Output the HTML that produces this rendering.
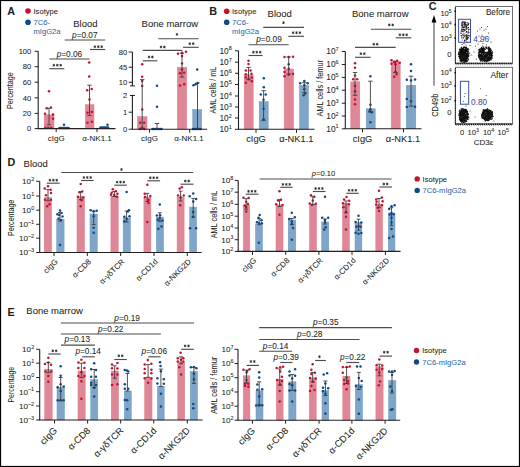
<!DOCTYPE html>
<html><head><meta charset="utf-8"><title>Figure</title>
<style>
html,body{margin:0;padding:0;background:#fff;}
body{width:520px;height:467px;overflow:hidden;}
svg{display:block;}
text{font-family:"Liberation Sans", sans-serif;stroke:#231f20;stroke-width:0.06px;}
.bl{stroke:#2f69a5;}
.gt{stroke:#3f4ea3;}
</style></head><body>
<svg width="520" height="467" viewBox="0 0 520 467">
<rect x="0" y="0" width="520" height="467" fill="#fff"/>
<g fill="#231f20">
<text x="7.3" y="14.8" font-size="10.8" font-weight="bold">A</text>
<circle cx="28" cy="11" r="2.8" fill="#c8102e"/>
<text x="33.5" y="13.7" font-size="7.6">Isotype</text>
<circle cx="28" cy="22.2" r="2.8" fill="#0b4a8b"/>
<text x="33.5" y="25" font-size="7.6" fill="#2f69a5" class="bl">7C6-</text>
<text x="33.5" y="34" font-size="7.6" fill="#2f69a5" class="bl">mIgG2a</text>
<text x="73.2" y="27.2" font-size="9.5">Blood</text>
<line x1="64.7" y1="40" x2="105.2" y2="40" stroke="#4d4d4f" stroke-width="1.15"/>
<text x="84.8" y="38" font-size="8.28" text-anchor="middle"><tspan font-style="italic">p</tspan>=0.07</text>
<line x1="90" y1="49.5" x2="105.2" y2="49.5" stroke="#4d4d4f" stroke-width="1.15"/>
<path d="M94.9 45.35L94.9 48.05M93.73 46.03L96.07 47.38M93.73 47.38L96.07 46.03" stroke="#231f20" stroke-width="0.8" fill="none"/>
<path d="M98.3 45.35L98.3 48.05M97.13 46.03L99.47 47.38M97.13 47.38L99.47 46.03" stroke="#231f20" stroke-width="0.8" fill="none"/>
<path d="M101.7 45.35L101.7 48.05M100.53 46.03L102.87 47.38M100.53 47.38L102.87 46.03" stroke="#231f20" stroke-width="0.8" fill="none"/>
<line x1="49.3" y1="59" x2="89.5" y2="59" stroke="#4d4d4f" stroke-width="1.15"/>
<text x="69.4" y="56.7" font-size="8.28" text-anchor="middle"><tspan font-style="italic">p</tspan>=0.06</text>
<line x1="49.3" y1="68.7" x2="64.3" y2="68.7" stroke="#4d4d4f" stroke-width="1.15"/>
<path d="M53.9 63.85L53.9 66.55M52.73 64.53L55.07 65.88M52.73 65.88L55.07 64.53" stroke="#231f20" stroke-width="0.8" fill="none"/>
<path d="M57.3 63.85L57.3 66.55M56.13 64.53L58.47 65.88M56.13 65.88L58.47 64.53" stroke="#231f20" stroke-width="0.8" fill="none"/>
<path d="M60.7 63.85L60.7 66.55M59.53 64.53L61.87 65.88M59.53 65.88L61.87 64.53" stroke="#231f20" stroke-width="0.8" fill="none"/>
<rect x="44.2" y="114.8" width="9.8" height="13.8" fill="#df8796" stroke="#d97a8c" stroke-width="0.5"/>
<rect x="85.3" y="104.7" width="8.7" height="23.9" fill="#df8796" stroke="#d97a8c" stroke-width="0.5"/>
<line x1="38.2" y1="51.3" x2="38.2" y2="128.6" stroke="#231f20" stroke-width="1.1"/>
<line x1="34.7" y1="51.3" x2="38.2" y2="51.3" stroke="#231f20" stroke-width="1"/>
<text x="31.3" y="54.04" font-size="7.6" text-anchor="end">100</text>
<line x1="34.7" y1="66.7" x2="38.2" y2="66.7" stroke="#231f20" stroke-width="1"/>
<text x="31.3" y="69.44" font-size="7.6" text-anchor="end">80</text>
<line x1="34.7" y1="82.2" x2="38.2" y2="82.2" stroke="#231f20" stroke-width="1"/>
<text x="31.3" y="84.94" font-size="7.6" text-anchor="end">60</text>
<line x1="34.7" y1="97.8" x2="38.2" y2="97.8" stroke="#231f20" stroke-width="1"/>
<text x="31.3" y="100.54" font-size="7.6" text-anchor="end">40</text>
<line x1="34.7" y1="113.4" x2="38.2" y2="113.4" stroke="#231f20" stroke-width="1"/>
<text x="31.3" y="116.14" font-size="7.6" text-anchor="end">20</text>
<line x1="34.7" y1="128.6" x2="38.2" y2="128.6" stroke="#231f20" stroke-width="1"/>
<text x="31.3" y="131.34" font-size="7.6" text-anchor="end">0</text>
<text font-size="8.9" text-anchor="middle" transform="translate(13.3 90.6) rotate(-90) scale(0.808 1)">Percentage</text>
<circle cx="49" cy="91.2" r="1.25" fill="#c8102e"/>
<circle cx="46.7" cy="108.2" r="1.25" fill="#c8102e"/>
<circle cx="51" cy="107.4" r="1.25" fill="#c8102e"/>
<circle cx="45" cy="113.7" r="1.25" fill="#c8102e"/>
<circle cx="53" cy="114.5" r="1.25" fill="#c8102e"/>
<circle cx="53" cy="118.7" r="1.25" fill="#c8102e"/>
<circle cx="45.3" cy="127.7" r="1.25" fill="#c8102e"/>
<circle cx="48.2" cy="127.7" r="1.25" fill="#c8102e"/>
<circle cx="51.2" cy="127.7" r="1.25" fill="#c8102e"/>
<circle cx="89.2" cy="62.4" r="1.25" fill="#c8102e"/>
<circle cx="89.2" cy="76.5" r="1.25" fill="#c8102e"/>
<circle cx="87.2" cy="90.2" r="1.25" fill="#c8102e"/>
<circle cx="91.7" cy="89" r="1.25" fill="#c8102e"/>
<circle cx="89.5" cy="99.5" r="1.25" fill="#c8102e"/>
<circle cx="87.5" cy="112.7" r="1.25" fill="#c8102e"/>
<circle cx="91.8" cy="112" r="1.25" fill="#c8102e"/>
<circle cx="87.5" cy="122.7" r="1.25" fill="#c8102e"/>
<circle cx="91.8" cy="121.7" r="1.25" fill="#c8102e"/>
<circle cx="64" cy="124.7" r="1.25" fill="#0b4a8b"/>
<circle cx="59.5" cy="128.1" r="1.25" fill="#0b4a8b"/>
<circle cx="61" cy="128.1" r="1.25" fill="#0b4a8b"/>
<circle cx="62.5" cy="128.1" r="1.25" fill="#0b4a8b"/>
<circle cx="64" cy="128.1" r="1.25" fill="#0b4a8b"/>
<circle cx="65.5" cy="128.1" r="1.25" fill="#0b4a8b"/>
<circle cx="67" cy="128.1" r="1.25" fill="#0b4a8b"/>
<circle cx="68.5" cy="128.1" r="1.25" fill="#0b4a8b"/>
<circle cx="107.5" cy="124.7" r="1.25" fill="#0b4a8b"/>
<circle cx="100.5" cy="127.6" r="1.25" fill="#0b4a8b"/>
<circle cx="102" cy="127.6" r="1.25" fill="#0b4a8b"/>
<circle cx="103.5" cy="127.6" r="1.25" fill="#0b4a8b"/>
<circle cx="105" cy="127.6" r="1.25" fill="#0b4a8b"/>
<circle cx="106.5" cy="127.6" r="1.25" fill="#0b4a8b"/>
<circle cx="108" cy="127.6" r="1.25" fill="#0b4a8b"/>
<line x1="37.65" y1="128.6" x2="115.5" y2="128.6" stroke="#231f20" stroke-width="1.1"/>
<line x1="56.2" y1="128.6" x2="56.2" y2="132.1" stroke="#231f20" stroke-width="1"/>
<line x1="97" y1="128.6" x2="97" y2="132.1" stroke="#231f20" stroke-width="1"/>
<text x="56.2" y="140.7" font-size="8" text-anchor="middle">cIgG</text>
<text x="97" y="140.7" font-size="8" text-anchor="middle">α-NK1.1</text>
<text x="141.6" y="27.2" font-size="9.5">Bone marrow</text>
<line x1="158.2" y1="38.7" x2="198.7" y2="38.7" stroke="#4d4d4f" stroke-width="1.15"/>
<path d="M177 33.05L177 35.75M175.83 33.73L178.17 35.07M175.83 35.07L178.17 33.73" stroke="#231f20" stroke-width="0.8" fill="none"/>
<line x1="183" y1="47.3" x2="198.7" y2="47.3" stroke="#4d4d4f" stroke-width="1.15"/>
<path d="M189.8 42.35L189.8 45.05M188.63 43.03L190.97 44.38M188.63 44.38L190.97 43.03" stroke="#231f20" stroke-width="0.8" fill="none"/>
<path d="M193.2 42.35L193.2 45.05M192.03 43.03L194.37 44.38M192.03 44.38L194.37 43.03" stroke="#231f20" stroke-width="0.8" fill="none"/>
<line x1="142.7" y1="50.3" x2="182.2" y2="50.3" stroke="#4d4d4f" stroke-width="1.15"/>
<path d="M161 45.65L161 48.35M159.83 46.33L162.17 47.67M159.83 47.67L162.17 46.33" stroke="#231f20" stroke-width="0.8" fill="none"/>
<path d="M164.4 45.65L164.4 48.35M163.23 46.33L165.57 47.67M163.23 47.67L165.57 46.33" stroke="#231f20" stroke-width="0.8" fill="none"/>
<line x1="142.7" y1="60.8" x2="157.4" y2="60.8" stroke="#4d4d4f" stroke-width="1.15"/>
<path d="M149 55.65L149 58.35M147.83 56.33L150.17 57.67M147.83 57.67L150.17 56.33" stroke="#231f20" stroke-width="0.8" fill="none"/>
<path d="M152.4 55.65L152.4 58.35M151.23 56.33L153.57 57.67M151.23 57.67L153.57 56.33" stroke="#231f20" stroke-width="0.8" fill="none"/>
<rect x="137.5" y="116.7" width="9.5" height="12.5" fill="#df8796" stroke="#d97a8c" stroke-width="0.5"/>
<rect x="177.3" y="67.2" width="9.4" height="62" fill="#df8796" stroke="#d97a8c" stroke-width="0.5"/>
<rect x="192.7" y="109.5" width="9" height="19.7" fill="#7fa6c9" stroke="#6f9ac2" stroke-width="0.5"/>
<line x1="132.4" y1="52" x2="132.4" y2="85.9" stroke="#231f20" stroke-width="1.1"/>
<line x1="130" y1="85.9" x2="134.9" y2="85.9" stroke="#231f20" stroke-width="1"/>
<line x1="128.7" y1="52" x2="132.4" y2="52" stroke="#231f20" stroke-width="1"/>
<text x="127.2" y="54.7" font-size="7.6" text-anchor="end">80</text>
<line x1="128.7" y1="67.2" x2="132.4" y2="67.2" stroke="#231f20" stroke-width="1"/>
<text x="127.2" y="69.9" font-size="7.6" text-anchor="end">45</text>
<line x1="128.7" y1="82.3" x2="132.4" y2="82.3" stroke="#231f20" stroke-width="1"/>
<text x="127.2" y="85" font-size="7.6" text-anchor="end">10</text>
<line x1="132.4" y1="95.5" x2="132.4" y2="129.2" stroke="#231f20" stroke-width="1.1"/>
<line x1="130" y1="95.5" x2="134.9" y2="95.5" stroke="#231f20" stroke-width="1"/>
<text x="127.2" y="98.2" font-size="7.6" text-anchor="end">2</text>
<line x1="128.7" y1="112.2" x2="132.4" y2="112.2" stroke="#231f20" stroke-width="1"/>
<text x="127.2" y="114.9" font-size="7.6" text-anchor="end">1</text>
<line x1="128.7" y1="129.2" x2="132.4" y2="129.2" stroke="#231f20" stroke-width="1"/>
<text x="127.2" y="131.9" font-size="7.6" text-anchor="end">0</text>
<circle cx="142.2" cy="64.2" r="1.25" fill="#c8102e"/>
<circle cx="142.2" cy="76.7" r="1.25" fill="#c8102e"/>
<circle cx="142.2" cy="81.1" r="1.25" fill="#c8102e"/>
<circle cx="142.2" cy="85.9" r="1.25" fill="#c8102e"/>
<circle cx="142.2" cy="109.5" r="1.25" fill="#c8102e"/>
<circle cx="140.2" cy="122.7" r="1.25" fill="#c8102e"/>
<circle cx="144.2" cy="122.7" r="1.25" fill="#c8102e"/>
<circle cx="140.2" cy="129" r="1.25" fill="#c8102e"/>
<circle cx="144.2" cy="129" r="1.25" fill="#c8102e"/>
<circle cx="142.2" cy="127.7" r="1.25" fill="#c8102e"/>
<circle cx="157" cy="85.7" r="1.25" fill="#0b4a8b"/>
<circle cx="157" cy="106.7" r="1.25" fill="#0b4a8b"/>
<circle cx="152.5" cy="129" r="1.25" fill="#0b4a8b"/>
<circle cx="154" cy="129" r="1.25" fill="#0b4a8b"/>
<circle cx="155.5" cy="129" r="1.25" fill="#0b4a8b"/>
<circle cx="157" cy="129" r="1.25" fill="#0b4a8b"/>
<circle cx="158.5" cy="129" r="1.25" fill="#0b4a8b"/>
<circle cx="160" cy="129" r="1.25" fill="#0b4a8b"/>
<circle cx="161.5" cy="129" r="1.25" fill="#0b4a8b"/>
<circle cx="178" cy="53.7" r="1.25" fill="#c8102e"/>
<circle cx="182" cy="52.7" r="1.25" fill="#c8102e"/>
<circle cx="186" cy="51.8" r="1.25" fill="#c8102e"/>
<circle cx="182" cy="56" r="1.25" fill="#c8102e"/>
<circle cx="182" cy="63.5" r="1.25" fill="#c8102e"/>
<circle cx="180" cy="73.2" r="1.25" fill="#c8102e"/>
<circle cx="184.2" cy="72.8" r="1.25" fill="#c8102e"/>
<circle cx="182" cy="69.5" r="1.25" fill="#c8102e"/>
<circle cx="180" cy="85.5" r="1.25" fill="#c8102e"/>
<circle cx="184.2" cy="84.2" r="1.25" fill="#c8102e"/>
<circle cx="197.2" cy="69.5" r="1.25" fill="#0b4a8b"/>
<circle cx="193.5" cy="85.2" r="1.25" fill="#0b4a8b"/>
<circle cx="197.7" cy="83" r="1.25" fill="#0b4a8b"/>
<circle cx="195.6" cy="84.3" r="1.25" fill="#0b4a8b"/>
<circle cx="193" cy="129" r="1.25" fill="#0b4a8b"/>
<circle cx="194.5" cy="129" r="1.25" fill="#0b4a8b"/>
<circle cx="196" cy="129" r="1.25" fill="#0b4a8b"/>
<circle cx="197.5" cy="129" r="1.25" fill="#0b4a8b"/>
<circle cx="199" cy="129" r="1.25" fill="#0b4a8b"/>
<circle cx="200.5" cy="129" r="1.25" fill="#0b4a8b"/>
<line x1="131.85" y1="129.2" x2="207" y2="129.2" stroke="#231f20" stroke-width="1.1"/>
<line x1="149.5" y1="129.2" x2="149.5" y2="132.7" stroke="#231f20" stroke-width="1"/>
<line x1="189.7" y1="129.2" x2="189.7" y2="132.7" stroke="#231f20" stroke-width="1"/>
<text x="149.5" y="141" font-size="8" text-anchor="middle">cIgG</text>
<text x="189" y="141" font-size="8" text-anchor="middle">α-NK1.1</text>
<text x="209.3" y="14.7" font-size="10.8" font-weight="bold">B</text>
<circle cx="226.7" cy="11.2" r="2.8" fill="#c8102e"/>
<text x="232" y="13.8" font-size="7.6">Isotype</text>
<circle cx="226.7" cy="22.2" r="2.8" fill="#0b4a8b"/>
<text x="232" y="24.8" font-size="7.6" fill="#2f69a5" class="bl">7C6-</text>
<text x="232" y="33.8" font-size="7.6" fill="#2f69a5" class="bl">mIgG2a</text>
<text x="267.6" y="16.5" font-size="9.5">Blood</text>
<line x1="263.2" y1="27.3" x2="304" y2="27.3" stroke="#4d4d4f" stroke-width="1.15"/>
<path d="M283.5 21.35L283.5 24.05M282.33 22.02L284.67 23.38M282.33 23.38L284.67 22.02" stroke="#231f20" stroke-width="0.8" fill="none"/>
<line x1="288.3" y1="36.3" x2="304" y2="36.3" stroke="#4d4d4f" stroke-width="1.15"/>
<path d="M293.1 31.35L293.1 34.05M291.93 32.03L294.27 33.38M291.93 33.38L294.27 32.03" stroke="#231f20" stroke-width="0.8" fill="none"/>
<path d="M296.5 31.35L296.5 34.05M295.33 32.03L297.67 33.38M295.33 33.38L297.67 32.03" stroke="#231f20" stroke-width="0.8" fill="none"/>
<path d="M299.9 31.35L299.9 34.05M298.73 32.03L301.07 33.38M298.73 33.38L301.07 32.03" stroke="#231f20" stroke-width="0.8" fill="none"/>
<line x1="248.5" y1="44.7" x2="288.7" y2="44.7" stroke="#4d4d4f" stroke-width="1.15"/>
<text x="269" y="42" font-size="8.28" text-anchor="middle"><tspan font-style="italic">p</tspan>=0.09</text>
<line x1="248.5" y1="55.5" x2="262.7" y2="55.5" stroke="#4d4d4f" stroke-width="1.15"/>
<path d="M253.4 50.85L253.4 53.55M252.23 51.53L254.57 52.88M252.23 52.88L254.57 51.53" stroke="#231f20" stroke-width="0.8" fill="none"/>
<path d="M256.8 50.85L256.8 53.55M255.63 51.53L257.97 52.88M255.63 52.88L257.97 51.53" stroke="#231f20" stroke-width="0.8" fill="none"/>
<path d="M260.2 50.85L260.2 53.55M259.03 51.53L261.37 52.88M259.03 52.88L261.37 51.53" stroke="#231f20" stroke-width="0.8" fill="none"/>
<rect x="244.2" y="74.8" width="9" height="54.5" fill="#df8796" stroke="#d97a8c" stroke-width="0.5"/>
<rect x="259.2" y="101.6" width="9" height="27.7" fill="#7fa6c9" stroke="#6f9ac2" stroke-width="0.5"/>
<rect x="284.2" y="69" width="9.3" height="60.3" fill="#df8796" stroke="#d97a8c" stroke-width="0.5"/>
<rect x="299.5" y="85.5" width="9" height="43.8" fill="#7fa6c9" stroke="#6f9ac2" stroke-width="0.5"/>
<line x1="238.5" y1="50.8" x2="238.5" y2="129.3" stroke="#231f20" stroke-width="1.1"/>
<line x1="235" y1="50.8" x2="238.5" y2="50.8" stroke="#231f20" stroke-width="1"/>
<text x="231.7" y="53.79" font-size="8.3" text-anchor="end">10<tspan dy="-3.49" font-size="5.5">8</tspan></text>
<line x1="235" y1="62.2" x2="238.5" y2="62.2" stroke="#231f20" stroke-width="1"/>
<text x="231.7" y="65.19" font-size="8.3" text-anchor="end">10<tspan dy="-3.49" font-size="5.5">7</tspan></text>
<line x1="235" y1="73.3" x2="238.5" y2="73.3" stroke="#231f20" stroke-width="1"/>
<text x="231.7" y="76.29" font-size="8.3" text-anchor="end">10<tspan dy="-3.49" font-size="5.5">6</tspan></text>
<line x1="235" y1="84.5" x2="238.5" y2="84.5" stroke="#231f20" stroke-width="1"/>
<text x="231.7" y="87.49" font-size="8.3" text-anchor="end">10<tspan dy="-3.49" font-size="5.5">5</tspan></text>
<line x1="235" y1="96" x2="238.5" y2="96" stroke="#231f20" stroke-width="1"/>
<text x="231.7" y="98.99" font-size="8.3" text-anchor="end">10<tspan dy="-3.49" font-size="5.5">4</tspan></text>
<line x1="235" y1="107" x2="238.5" y2="107" stroke="#231f20" stroke-width="1"/>
<text x="231.7" y="109.99" font-size="8.3" text-anchor="end">10<tspan dy="-3.49" font-size="5.5">3</tspan></text>
<line x1="235" y1="118" x2="238.5" y2="118" stroke="#231f20" stroke-width="1"/>
<text x="231.7" y="120.99" font-size="8.3" text-anchor="end">10<tspan dy="-3.49" font-size="5.5">2</tspan></text>
<line x1="235" y1="129.3" x2="238.5" y2="129.3" stroke="#231f20" stroke-width="1"/>
<text x="231.7" y="132.29" font-size="8.3" text-anchor="end">10<tspan dy="-3.49" font-size="5.5">1</tspan></text>
<text font-size="8.9" text-anchor="middle" transform="translate(216.3 90.1) rotate(-90) scale(0.810 1)">AML cells / mL</text>
<circle cx="248.5" cy="60.7" r="1.25" fill="#c8102e"/>
<circle cx="248.5" cy="64" r="1.25" fill="#c8102e"/>
<circle cx="245.8" cy="70.4" r="1.25" fill="#c8102e"/>
<circle cx="250.5" cy="70.4" r="1.25" fill="#c8102e"/>
<circle cx="245.8" cy="74.2" r="1.25" fill="#c8102e"/>
<circle cx="251.5" cy="73.7" r="1.25" fill="#c8102e"/>
<circle cx="245.8" cy="77.5" r="1.25" fill="#c8102e"/>
<circle cx="251.8" cy="77.5" r="1.25" fill="#c8102e"/>
<circle cx="245.8" cy="82.7" r="1.25" fill="#c8102e"/>
<circle cx="251.8" cy="81.2" r="1.25" fill="#c8102e"/>
<circle cx="248.5" cy="79.3" r="1.25" fill="#c8102e"/>
<circle cx="263.8" cy="78.2" r="1.25" fill="#0b4a8b"/>
<circle cx="263.8" cy="87.2" r="1.25" fill="#0b4a8b"/>
<circle cx="260.8" cy="94.5" r="1.25" fill="#0b4a8b"/>
<circle cx="265.7" cy="94.5" r="1.25" fill="#0b4a8b"/>
<circle cx="263.5" cy="99.7" r="1.25" fill="#0b4a8b"/>
<circle cx="263.5" cy="108.7" r="1.25" fill="#0b4a8b"/>
<circle cx="263.5" cy="119.2" r="1.25" fill="#0b4a8b"/>
<circle cx="284.5" cy="57" r="1.25" fill="#c8102e"/>
<circle cx="288.7" cy="57" r="1.25" fill="#c8102e"/>
<circle cx="293" cy="56.7" r="1.25" fill="#c8102e"/>
<circle cx="288.7" cy="64.2" r="1.25" fill="#c8102e"/>
<circle cx="284.5" cy="67.7" r="1.25" fill="#c8102e"/>
<circle cx="288.7" cy="68.7" r="1.25" fill="#c8102e"/>
<circle cx="284.5" cy="72" r="1.25" fill="#c8102e"/>
<circle cx="293" cy="74" r="1.25" fill="#c8102e"/>
<circle cx="284.5" cy="76.2" r="1.25" fill="#c8102e"/>
<circle cx="288.7" cy="74.7" r="1.25" fill="#c8102e"/>
<circle cx="300.2" cy="83.3" r="1.25" fill="#0b4a8b"/>
<circle cx="304.3" cy="81" r="1.25" fill="#0b4a8b"/>
<circle cx="307.7" cy="83.3" r="1.25" fill="#0b4a8b"/>
<circle cx="304.3" cy="85.2" r="1.25" fill="#0b4a8b"/>
<circle cx="304.3" cy="89.3" r="1.25" fill="#0b4a8b"/>
<circle cx="303.7" cy="95.3" r="1.25" fill="#0b4a8b"/>
<circle cx="305.2" cy="93.5" r="1.25" fill="#0b4a8b"/>
<line x1="237.95" y1="129.3" x2="314.5" y2="129.3" stroke="#231f20" stroke-width="1.1"/>
<line x1="256" y1="129.3" x2="256" y2="132.8" stroke="#231f20" stroke-width="1"/>
<line x1="296.5" y1="129.3" x2="296.5" y2="132.8" stroke="#231f20" stroke-width="1"/>
<text x="256" y="141.7" font-size="9.3" text-anchor="middle">cIgG</text>
<text x="296.3" y="142" font-size="9.3" text-anchor="middle">α-NK1.1</text>
<text x="352" y="16.5" font-size="9.5">Bone marrow</text>
<line x1="370.8" y1="29.2" x2="411.3" y2="29.2" stroke="#4d4d4f" stroke-width="1.15"/>
<path d="M389.3 23.55L389.3 26.25M388.13 24.22L390.47 25.57M388.13 25.57L390.47 24.22" stroke="#231f20" stroke-width="0.8" fill="none"/>
<path d="M392.7 23.55L392.7 26.25M391.53 24.22L393.87 25.57M391.53 25.57L393.87 24.22" stroke="#231f20" stroke-width="0.8" fill="none"/>
<line x1="395.7" y1="37.8" x2="411.3" y2="37.8" stroke="#4d4d4f" stroke-width="1.15"/>
<path d="M399.9 33.45L399.9 36.15M398.73 34.12L401.07 35.47M398.73 35.47L401.07 34.12" stroke="#231f20" stroke-width="0.8" fill="none"/>
<path d="M403.3 33.45L403.3 36.15M402.13 34.12L404.47 35.47M402.13 35.47L404.47 34.12" stroke="#231f20" stroke-width="0.8" fill="none"/>
<path d="M406.7 33.45L406.7 36.15M405.53 34.12L407.87 35.47M405.53 35.47L407.87 34.12" stroke="#231f20" stroke-width="0.8" fill="none"/>
<line x1="355" y1="47.4" x2="395.7" y2="47.4" stroke="#4d4d4f" stroke-width="1.15"/>
<path d="M373.8 42.85L373.8 45.55M372.63 43.53L374.97 44.88M372.63 44.88L374.97 43.53" stroke="#231f20" stroke-width="0.8" fill="none"/>
<path d="M377.2 42.85L377.2 45.55M376.03 43.53L378.37 44.88M376.03 44.88L378.37 43.53" stroke="#231f20" stroke-width="0.8" fill="none"/>
<line x1="355" y1="57.3" x2="370.6" y2="57.3" stroke="#4d4d4f" stroke-width="1.15"/>
<path d="M360.9 52.35L360.9 55.05M359.73 53.03L362.07 54.38M359.73 54.38L362.07 53.03" stroke="#231f20" stroke-width="0.8" fill="none"/>
<path d="M364.3 52.35L364.3 55.05M363.13 53.03L365.47 54.38M363.13 54.38L365.47 53.03" stroke="#231f20" stroke-width="0.8" fill="none"/>
<rect x="350.8" y="81.8" width="9" height="47" fill="#df8796" stroke="#d97a8c" stroke-width="0.5"/>
<rect x="366.2" y="108.8" width="9" height="20" fill="#7fa6c9" stroke="#6f9ac2" stroke-width="0.5"/>
<rect x="391.2" y="62" width="9" height="66.8" fill="#df8796" stroke="#d97a8c" stroke-width="0.5"/>
<rect x="406.2" y="85.2" width="9.6" height="43.6" fill="#7fa6c9" stroke="#6f9ac2" stroke-width="0.5"/>
<line x1="345.3" y1="51.5" x2="345.3" y2="128.8" stroke="#231f20" stroke-width="1.1"/>
<line x1="341.8" y1="51.5" x2="345.3" y2="51.5" stroke="#231f20" stroke-width="1"/>
<text x="338.6" y="54.49" font-size="8.3" text-anchor="end">10<tspan dy="-3.49" font-size="5.5">7</tspan></text>
<line x1="341.8" y1="64.5" x2="345.3" y2="64.5" stroke="#231f20" stroke-width="1"/>
<text x="338.6" y="67.49" font-size="8.3" text-anchor="end">10<tspan dy="-3.49" font-size="5.5">6</tspan></text>
<line x1="341.8" y1="77.4" x2="345.3" y2="77.4" stroke="#231f20" stroke-width="1"/>
<text x="338.6" y="80.39" font-size="8.3" text-anchor="end">10<tspan dy="-3.49" font-size="5.5">5</tspan></text>
<line x1="341.8" y1="90.2" x2="345.3" y2="90.2" stroke="#231f20" stroke-width="1"/>
<text x="338.6" y="93.19" font-size="8.3" text-anchor="end">10<tspan dy="-3.49" font-size="5.5">4</tspan></text>
<line x1="341.8" y1="103.2" x2="345.3" y2="103.2" stroke="#231f20" stroke-width="1"/>
<text x="338.6" y="106.19" font-size="8.3" text-anchor="end">10<tspan dy="-3.49" font-size="5.5">3</tspan></text>
<line x1="341.8" y1="116" x2="345.3" y2="116" stroke="#231f20" stroke-width="1"/>
<text x="338.6" y="118.99" font-size="8.3" text-anchor="end">10<tspan dy="-3.49" font-size="5.5">2</tspan></text>
<line x1="341.8" y1="128.8" x2="345.3" y2="128.8" stroke="#231f20" stroke-width="1"/>
<text x="338.6" y="131.79" font-size="8.3" text-anchor="end">10<tspan dy="-3.49" font-size="5.5">1</tspan></text>
<text font-size="8.9" text-anchor="middle" transform="translate(323.3 88.25) rotate(-90) scale(0.826 1)">AML cells / femur</text>
<circle cx="355" cy="63.2" r="1.25" fill="#c8102e"/>
<circle cx="355" cy="67.7" r="1.25" fill="#c8102e"/>
<circle cx="355" cy="75.5" r="1.25" fill="#c8102e"/>
<circle cx="353.2" cy="79.2" r="1.25" fill="#c8102e"/>
<circle cx="357.2" cy="79.2" r="1.25" fill="#c8102e"/>
<circle cx="355" cy="86" r="1.25" fill="#c8102e"/>
<circle cx="355" cy="91.2" r="1.25" fill="#c8102e"/>
<circle cx="355" cy="99.5" r="1.25" fill="#c8102e"/>
<circle cx="355" cy="104.3" r="1.25" fill="#c8102e"/>
<circle cx="370.4" cy="76.2" r="1.25" fill="#0b4a8b"/>
<circle cx="370.4" cy="104.7" r="1.25" fill="#0b4a8b"/>
<circle cx="369.7" cy="111.2" r="1.25" fill="#0b4a8b"/>
<circle cx="371.8" cy="112.3" r="1.25" fill="#0b4a8b"/>
<circle cx="370.4" cy="122.2" r="1.25" fill="#0b4a8b"/>
<circle cx="370.4" cy="109.2" r="1.25" fill="#0b4a8b"/>
<circle cx="391.5" cy="60.2" r="1.25" fill="#c8102e"/>
<circle cx="391.5" cy="63.8" r="1.25" fill="#c8102e"/>
<circle cx="394.2" cy="62" r="1.25" fill="#c8102e"/>
<circle cx="397.2" cy="60.8" r="1.25" fill="#c8102e"/>
<circle cx="399.7" cy="62.7" r="1.25" fill="#c8102e"/>
<circle cx="395.5" cy="64.2" r="1.25" fill="#c8102e"/>
<circle cx="396.7" cy="74.3" r="1.25" fill="#c8102e"/>
<circle cx="394.2" cy="76.7" r="1.25" fill="#c8102e"/>
<circle cx="395.5" cy="71.7" r="1.25" fill="#c8102e"/>
<circle cx="411" cy="64.2" r="1.25" fill="#0b4a8b"/>
<circle cx="411" cy="71" r="1.25" fill="#0b4a8b"/>
<circle cx="406.8" cy="79.7" r="1.25" fill="#0b4a8b"/>
<circle cx="411" cy="80.4" r="1.25" fill="#0b4a8b"/>
<circle cx="415" cy="79.5" r="1.25" fill="#0b4a8b"/>
<circle cx="406.8" cy="99" r="1.25" fill="#0b4a8b"/>
<circle cx="411" cy="101.3" r="1.25" fill="#0b4a8b"/>
<circle cx="406.8" cy="107" r="1.25" fill="#0b4a8b"/>
<circle cx="415" cy="106.7" r="1.25" fill="#0b4a8b"/>
<line x1="344.75" y1="128.8" x2="421.5" y2="128.8" stroke="#231f20" stroke-width="1.1"/>
<line x1="362.5" y1="128.8" x2="362.5" y2="132.3" stroke="#231f20" stroke-width="1"/>
<line x1="403.5" y1="128.8" x2="403.5" y2="132.3" stroke="#231f20" stroke-width="1"/>
<text x="362.5" y="141.7" font-size="9.3" text-anchor="middle">cIgG</text>
<text x="403" y="142" font-size="9.3" text-anchor="middle">α-NK1.1</text>
<text x="428.8" y="10.3" font-size="10.8" font-weight="bold">C</text>
<line x1="434" y1="21" x2="434" y2="85.7" stroke="#6d6e71" stroke-width="1.3"/>
<polygon points="434,15 431.6,22.6 436.4,22.6" fill="#000"/>
<text font-size="9.2" text-anchor="middle" transform="translate(438.1 105.25) rotate(-90) scale(0.807 1)">CD49b</text>
<rect x="455.6" y="6.5" width="56.9" height="56.7" fill="none" stroke="#4d4d4f" stroke-width="0.8"/>
<text x="451.8" y="16.1" font-size="7.6" text-anchor="end">10<tspan dy="-3.2" font-size="5.3">5</tspan></text>
<text x="451.8" y="28.4" font-size="7.6" text-anchor="end">10<tspan dy="-3.2" font-size="5.3">4</tspan></text>
<text x="451.8" y="40.7" font-size="7.6" text-anchor="end">10<tspan dy="-3.2" font-size="5.3">3</tspan></text>
<text x="451.6" y="56.5" font-size="7.6" text-anchor="end">0</text>
<circle cx="455.2" cy="11.2" r="0.9" fill="#111"/>
<circle cx="455.2" cy="24.5" r="0.9" fill="#111"/>
<circle cx="455.2" cy="38" r="0.9" fill="#111"/>
<text x="510" y="15.1" font-size="8.2" text-anchor="end">Before</text>
<rect x="458.6" y="19.3" width="11.9" height="23" fill="none" stroke="#3f4ea3" stroke-width="1"/>
<text x="473.2" y="42" font-size="8.2" fill="#3f4ea3" class="gt">4.96</text>
<rect x="455.6" y="67.3" width="56.9" height="56.5" fill="none" stroke="#4d4d4f" stroke-width="0.8"/>
<text x="451.8" y="75" font-size="7.6" text-anchor="end">10<tspan dy="-3.2" font-size="5.3">4</tspan></text>
<text x="451.8" y="88.3" font-size="7.6" text-anchor="end">10<tspan dy="-3.2" font-size="5.3">3</tspan></text>
<text x="451.8" y="103.2" font-size="7.6" text-anchor="end">10<tspan dy="-3.2" font-size="5.3">2</tspan></text>
<text x="451.6" y="114.7" font-size="7.6" text-anchor="end">0</text>
<circle cx="455.2" cy="72.6" r="0.9" fill="#111"/>
<circle cx="455.2" cy="86" r="0.9" fill="#111"/>
<circle cx="455.2" cy="100.7" r="0.9" fill="#111"/>
<text x="508.4" y="78.1" font-size="8.5" text-anchor="end">After</text>
<rect x="460.4" y="81.3" width="8.3" height="22.9" fill="none" stroke="#3f4ea3" stroke-width="1"/>
<text x="471.1" y="104.8" font-size="8.2" fill="#3f4ea3" class="gt">0.80</text>
<line x1="455.3" y1="7.5" x2="455.3" y2="63.2" stroke="#1a1a1a" stroke-width="1.15" stroke-dasharray="1.3 0.7"/>
<line x1="455" y1="63.6" x2="512.6" y2="63.6" stroke="#1a1a1a" stroke-width="1.5" stroke-dasharray="1.6 0.6"/>
<line x1="456" y1="64.9" x2="512" y2="64.9" stroke="#555" stroke-width="0.7" stroke-dasharray="0.8 1.4"/>
<line x1="455.3" y1="68.3" x2="455.3" y2="123.8" stroke="#1a1a1a" stroke-width="1.15" stroke-dasharray="1.3 0.7"/>
<line x1="455" y1="124.2" x2="512.6" y2="124.2" stroke="#1a1a1a" stroke-width="1.5" stroke-dasharray="1.6 0.6"/>
<line x1="456" y1="125.5" x2="512" y2="125.5" stroke="#555" stroke-width="0.7" stroke-dasharray="0.8 1.4"/>
<g fill="#111"><circle cx="462.2" cy="49.11" r="0.6"/><circle cx="464.84" cy="52.7" r="0.6"/><circle cx="459.85" cy="53.6" r="0.6"/><circle cx="463.5" cy="59.65" r="0.6"/><circle cx="464.69" cy="60.98" r="0.6"/><circle cx="467.44" cy="51.54" r="0.6"/><circle cx="462.45" cy="59.84" r="0.6"/><circle cx="465.07" cy="52.53" r="0.6"/><circle cx="459.63" cy="49.61" r="0.6"/><circle cx="461.82" cy="55.91" r="0.6"/><circle cx="466.71" cy="58.14" r="0.6"/><circle cx="464.13" cy="59.72" r="0.6"/><circle cx="463.52" cy="58.83" r="0.6"/><circle cx="459.72" cy="56.37" r="0.6"/><circle cx="467.22" cy="51.07" r="0.6"/><circle cx="465.34" cy="52.83" r="0.6"/><circle cx="464.43" cy="57.25" r="0.6"/><circle cx="466.38" cy="51.76" r="0.6"/><circle cx="459.63" cy="54.14" r="0.6"/><circle cx="460.11" cy="58.8" r="0.6"/><circle cx="463.41" cy="60.34" r="0.6"/><circle cx="464.83" cy="59.35" r="0.6"/><circle cx="461.23" cy="54.03" r="0.6"/><circle cx="461" cy="51.05" r="0.6"/><circle cx="465.3" cy="50.95" r="0.6"/><circle cx="463.47" cy="55.27" r="0.6"/><circle cx="464.02" cy="56.11" r="0.6"/><circle cx="468.3" cy="58.07" r="0.6"/><circle cx="463.51" cy="53.41" r="0.6"/><circle cx="461.15" cy="49.57" r="0.6"/><circle cx="461.25" cy="52.62" r="0.6"/><circle cx="465" cy="49.69" r="0.6"/><circle cx="463.61" cy="47.56" r="0.6"/><circle cx="463.83" cy="54.38" r="0.6"/><circle cx="462.63" cy="50.71" r="0.6"/><circle cx="464.1" cy="49.17" r="0.6"/><circle cx="464.72" cy="61.09" r="0.6"/><circle cx="462.16" cy="53.25" r="0.6"/><circle cx="464.08" cy="59" r="0.6"/><circle cx="467.57" cy="58.35" r="0.6"/><circle cx="461.33" cy="54.86" r="0.6"/><circle cx="459.52" cy="51.96" r="0.6"/><circle cx="469.57" cy="53.13" r="0.6"/><circle cx="468.25" cy="52.82" r="0.6"/><circle cx="460.37" cy="49.31" r="0.6"/><circle cx="466.6" cy="53.46" r="0.6"/><circle cx="460.82" cy="56.44" r="0.6"/><circle cx="466.66" cy="54.97" r="0.6"/><circle cx="462.89" cy="58.92" r="0.6"/><circle cx="462.98" cy="60.9" r="0.6"/><circle cx="461.23" cy="48.76" r="0.6"/><circle cx="461.39" cy="59.31" r="0.6"/><circle cx="462.62" cy="55.29" r="0.6"/><circle cx="467.18" cy="56.55" r="0.6"/><circle cx="463.49" cy="59.77" r="0.6"/><circle cx="461.68" cy="52.06" r="0.6"/><circle cx="462.46" cy="54.09" r="0.6"/><circle cx="461.65" cy="53.33" r="0.6"/><circle cx="462.6" cy="60.76" r="0.6"/><circle cx="463.87" cy="47.4" r="0.6"/><circle cx="460.8" cy="53.47" r="0.6"/><circle cx="461.51" cy="54.48" r="0.6"/><circle cx="460.29" cy="55.81" r="0.6"/><circle cx="465.7" cy="54.3" r="0.6"/><circle cx="467.33" cy="53.26" r="0.6"/><circle cx="463.47" cy="57.57" r="0.6"/><circle cx="463.42" cy="60.15" r="0.6"/><circle cx="466.95" cy="50.46" r="0.6"/><circle cx="467.5" cy="49.43" r="0.6"/><circle cx="460.64" cy="50.94" r="0.6"/><circle cx="467.04" cy="61.11" r="0.6"/><circle cx="466.41" cy="48.27" r="0.6"/><circle cx="460.88" cy="61.63" r="0.6"/><circle cx="460.35" cy="53.43" r="0.6"/><circle cx="461.1" cy="51.68" r="0.6"/><circle cx="464.9" cy="53.66" r="0.6"/><circle cx="466.44" cy="55.25" r="0.6"/><circle cx="461.12" cy="51.2" r="0.6"/><circle cx="460.84" cy="49.46" r="0.6"/><circle cx="467.58" cy="51.78" r="0.6"/><circle cx="464.75" cy="57.6" r="0.6"/><circle cx="466.76" cy="53.9" r="0.6"/><circle cx="466.05" cy="59.52" r="0.6"/><circle cx="462.44" cy="51.71" r="0.6"/><circle cx="461.43" cy="48.88" r="0.6"/><circle cx="460.64" cy="49.53" r="0.6"/><circle cx="462.23" cy="51.16" r="0.6"/><circle cx="463.9" cy="49.75" r="0.6"/><circle cx="466.33" cy="55.79" r="0.6"/><circle cx="465.97" cy="53.51" r="0.6"/><circle cx="462.41" cy="53.29" r="0.6"/><circle cx="462.3" cy="58.8" r="0.6"/><circle cx="463.31" cy="52.3" r="0.6"/><circle cx="459.95" cy="58.41" r="0.6"/><circle cx="460.6" cy="59.08" r="0.6"/><circle cx="461.77" cy="51.17" r="0.6"/><circle cx="460.66" cy="54.96" r="0.6"/><circle cx="468.39" cy="56.5" r="0.6"/><circle cx="462.67" cy="52.35" r="0.6"/><circle cx="463.89" cy="55.11" r="0.6"/><circle cx="460.24" cy="53.02" r="0.6"/><circle cx="461.6" cy="50.18" r="0.6"/><circle cx="466.06" cy="55.86" r="0.6"/><circle cx="463.21" cy="51.86" r="0.6"/><circle cx="466.95" cy="56.91" r="0.6"/><circle cx="467.5" cy="55.5" r="0.6"/><circle cx="459.65" cy="54.83" r="0.6"/><circle cx="465.87" cy="58.86" r="0.6"/><circle cx="465.67" cy="57.52" r="0.6"/><circle cx="461.29" cy="52.99" r="0.6"/><circle cx="463.96" cy="55.88" r="0.6"/><circle cx="464.1" cy="46.26" r="0.6"/><circle cx="463.88" cy="54.87" r="0.6"/><circle cx="466.5" cy="50.96" r="0.6"/><circle cx="466" cy="48.72" r="0.6"/><circle cx="463.14" cy="52.84" r="0.6"/><circle cx="466.31" cy="56.1" r="0.6"/><circle cx="460.65" cy="50.38" r="0.6"/><circle cx="464.95" cy="47.33" r="0.6"/><circle cx="465.36" cy="57.01" r="0.6"/><circle cx="463.86" cy="54.02" r="0.6"/><circle cx="468.77" cy="49.83" r="0.6"/><circle cx="460.02" cy="52.7" r="0.6"/><circle cx="463.78" cy="52.2" r="0.6"/><circle cx="461.64" cy="56.2" r="0.6"/><circle cx="467.52" cy="54.12" r="0.6"/><circle cx="461.34" cy="60.48" r="0.6"/><circle cx="458.93" cy="54.5" r="0.6"/><circle cx="460.22" cy="53.04" r="0.6"/><circle cx="467.81" cy="48.45" r="0.6"/><circle cx="467.34" cy="51.71" r="0.6"/><circle cx="462.63" cy="53.58" r="0.6"/><circle cx="459.99" cy="60.66" r="0.6"/><circle cx="461.3" cy="50.96" r="0.6"/><circle cx="463.46" cy="60.73" r="0.6"/><circle cx="465.76" cy="60.47" r="0.6"/><circle cx="465.93" cy="47.2" r="0.6"/><circle cx="466.26" cy="56.82" r="0.6"/><circle cx="463.45" cy="52.94" r="0.6"/><circle cx="464.93" cy="51.34" r="0.6"/><circle cx="461.14" cy="50.47" r="0.6"/><circle cx="465.32" cy="49.37" r="0.6"/><circle cx="463.56" cy="49.3" r="0.6"/><circle cx="462.51" cy="48.75" r="0.6"/><circle cx="464.6" cy="59.79" r="0.6"/><circle cx="462.82" cy="55.18" r="0.6"/><circle cx="460.13" cy="51.11" r="0.6"/><circle cx="464.21" cy="56.18" r="0.6"/><circle cx="461.38" cy="51.05" r="0.6"/><circle cx="460.05" cy="57.3" r="0.6"/><circle cx="463.39" cy="60.03" r="0.6"/><circle cx="459.56" cy="49.21" r="0.6"/><circle cx="467.54" cy="57.15" r="0.6"/><circle cx="464.4" cy="55.49" r="0.6"/><circle cx="461.2" cy="60.46" r="0.6"/><circle cx="459.98" cy="50.19" r="0.6"/><circle cx="463.91" cy="55.97" r="0.6"/><circle cx="464.71" cy="47.68" r="0.6"/><circle cx="468.64" cy="56.29" r="0.6"/><circle cx="462.24" cy="50.51" r="0.6"/><circle cx="461.41" cy="47.33" r="0.6"/><circle cx="462.64" cy="49.87" r="0.6"/><circle cx="462.31" cy="53.01" r="0.6"/><circle cx="466.37" cy="58.08" r="0.6"/><circle cx="468.47" cy="51.35" r="0.6"/><circle cx="461.02" cy="59.59" r="0.6"/><circle cx="464" cy="50.32" r="0.6"/><circle cx="465.79" cy="61.63" r="0.6"/><circle cx="460.69" cy="52.28" r="0.6"/><circle cx="468.43" cy="53.02" r="0.6"/><circle cx="465.16" cy="53" r="0.6"/><circle cx="462.15" cy="52.2" r="0.6"/><circle cx="462.85" cy="58.84" r="0.6"/><circle cx="458.98" cy="54.91" r="0.6"/><circle cx="461.19" cy="52.39" r="0.6"/><circle cx="463.14" cy="59.03" r="0.6"/><circle cx="467.84" cy="49.79" r="0.6"/><circle cx="463.12" cy="50.9" r="0.6"/><circle cx="461.58" cy="58.12" r="0.6"/><circle cx="467.93" cy="56.47" r="0.6"/><circle cx="462.67" cy="53.8" r="0.6"/><circle cx="462.37" cy="51.01" r="0.6"/><circle cx="468.2" cy="48.97" r="0.6"/><circle cx="466.6" cy="58.31" r="0.6"/><circle cx="462.31" cy="52.23" r="0.6"/><circle cx="461.14" cy="58.48" r="0.6"/><circle cx="458.97" cy="56.53" r="0.6"/><circle cx="462.25" cy="48.6" r="0.6"/><circle cx="465.95" cy="54.22" r="0.6"/><circle cx="465.06" cy="56.14" r="0.6"/><circle cx="465.7" cy="48.47" r="0.6"/><circle cx="464.55" cy="52.26" r="0.6"/><circle cx="462.19" cy="51.53" r="0.6"/><circle cx="463.44" cy="52.84" r="0.6"/><circle cx="464.28" cy="49.79" r="0.6"/><circle cx="464.31" cy="58.35" r="0.6"/><circle cx="459.91" cy="51.63" r="0.6"/><circle cx="468.79" cy="55.54" r="0.6"/><circle cx="467.3" cy="54.6" r="0.6"/><circle cx="464.94" cy="56.77" r="0.6"/><circle cx="460.59" cy="50.74" r="0.6"/><circle cx="465.8" cy="50.08" r="0.6"/><circle cx="465.48" cy="50.09" r="0.6"/><circle cx="466.91" cy="55.31" r="0.6"/><circle cx="462.84" cy="55.08" r="0.6"/><circle cx="460.48" cy="57.65" r="0.6"/><circle cx="461.91" cy="61.9" r="0.6"/><circle cx="463.73" cy="51.98" r="0.6"/><circle cx="462.64" cy="49.62" r="0.6"/><circle cx="462.38" cy="59.88" r="0.6"/><circle cx="464.22" cy="49.5" r="0.6"/><circle cx="465.85" cy="61.02" r="0.6"/><circle cx="463" cy="54.89" r="0.6"/><circle cx="464.6" cy="61.25" r="0.6"/><circle cx="462.41" cy="48.42" r="0.6"/><circle cx="464.23" cy="47.58" r="0.6"/><circle cx="467.84" cy="56.04" r="0.6"/><circle cx="465.81" cy="50.88" r="0.6"/><circle cx="467.11" cy="50.24" r="0.6"/><circle cx="464.39" cy="53.02" r="0.6"/><circle cx="466.66" cy="60.62" r="0.6"/><circle cx="466.48" cy="47.36" r="0.6"/><circle cx="464.58" cy="54.94" r="0.6"/><circle cx="462.55" cy="56.07" r="0.6"/><circle cx="464.14" cy="53.68" r="0.6"/><circle cx="463.93" cy="49.66" r="0.6"/><circle cx="463.33" cy="49.73" r="0.6"/><circle cx="460.95" cy="53.75" r="0.6"/><circle cx="463.91" cy="47.45" r="0.6"/><circle cx="465.95" cy="58.65" r="0.6"/><circle cx="464.24" cy="52.59" r="0.6"/><circle cx="466.6" cy="60.55" r="0.6"/><circle cx="464.13" cy="61.2" r="0.6"/><circle cx="467.06" cy="61.14" r="0.6"/><circle cx="466.65" cy="49.14" r="0.6"/><circle cx="465.76" cy="49.14" r="0.6"/><circle cx="460.8" cy="50.93" r="0.6"/><circle cx="466.05" cy="61.2" r="0.6"/><circle cx="460.06" cy="54.6" r="0.6"/><circle cx="466.51" cy="54.83" r="0.6"/><circle cx="465.27" cy="52.54" r="0.6"/><circle cx="467.97" cy="56.31" r="0.6"/><circle cx="463.41" cy="49.49" r="0.6"/><circle cx="466" cy="49.7" r="0.6"/><circle cx="464.74" cy="56.98" r="0.6"/><circle cx="463.97" cy="53.4" r="0.6"/><circle cx="460.47" cy="50.32" r="0.6"/><circle cx="460.4" cy="53.01" r="0.6"/><circle cx="464.37" cy="49.66" r="0.6"/><circle cx="462.15" cy="49.64" r="0.6"/><circle cx="467.08" cy="58.96" r="0.6"/><circle cx="458.98" cy="56.5" r="0.6"/><circle cx="466.05" cy="53.34" r="0.6"/><circle cx="462.2" cy="60.72" r="0.6"/><circle cx="463.89" cy="50.88" r="0.6"/><circle cx="459.67" cy="55.16" r="0.6"/><circle cx="460.44" cy="56.09" r="0.6"/><circle cx="466.71" cy="50.01" r="0.6"/><circle cx="467.55" cy="57.77" r="0.6"/><circle cx="466.2" cy="53.43" r="0.6"/><circle cx="461.42" cy="48.72" r="0.6"/><circle cx="462.09" cy="57.34" r="0.6"/><circle cx="465.41" cy="50.81" r="0.6"/><circle cx="466.56" cy="55.56" r="0.6"/><circle cx="461.68" cy="49.34" r="0.6"/><circle cx="466.56" cy="51.6" r="0.6"/><circle cx="461" cy="60.05" r="0.6"/><circle cx="464.55" cy="61.87" r="0.6"/><circle cx="465.05" cy="60.17" r="0.6"/><circle cx="464.77" cy="52.29" r="0.6"/><circle cx="462.65" cy="49.15" r="0.6"/><circle cx="465.47" cy="55.74" r="0.6"/><circle cx="459.31" cy="56.56" r="0.6"/><circle cx="467.84" cy="60.77" r="0.6"/><circle cx="460.4" cy="50.17" r="0.6"/><circle cx="466.56" cy="58.48" r="0.6"/><circle cx="465.36" cy="51.44" r="0.6"/><circle cx="466.12" cy="50.55" r="0.6"/><circle cx="461.63" cy="58.06" r="0.6"/><circle cx="468.68" cy="54" r="0.6"/><circle cx="458.79" cy="53.53" r="0.6"/><circle cx="462.19" cy="57.49" r="0.6"/><circle cx="467.26" cy="49.56" r="0.6"/><circle cx="458.45" cy="54.41" r="0.6"/><circle cx="460.47" cy="55.19" r="0.6"/><circle cx="461.65" cy="61.5" r="0.6"/><circle cx="466.35" cy="54.93" r="0.6"/><circle cx="459.77" cy="57.99" r="0.6"/><circle cx="464.73" cy="52.63" r="0.6"/><circle cx="461.7" cy="50.6" r="0.6"/><circle cx="462.88" cy="60.81" r="0.6"/><circle cx="464.26" cy="57.6" r="0.6"/><circle cx="463.08" cy="52.7" r="0.6"/><circle cx="465.72" cy="58.6" r="0.6"/><circle cx="466.88" cy="56.08" r="0.6"/><circle cx="467.68" cy="50.96" r="0.6"/><circle cx="466" cy="59.9" r="0.6"/><circle cx="461.31" cy="51.86" r="0.6"/><circle cx="463.15" cy="49.71" r="0.6"/><circle cx="461.13" cy="52.67" r="0.6"/><circle cx="466.36" cy="54.2" r="0.6"/><circle cx="460.19" cy="50.18" r="0.6"/><circle cx="462.81" cy="58.31" r="0.6"/><circle cx="465.61" cy="54.48" r="0.6"/><circle cx="463.51" cy="57.82" r="0.6"/><circle cx="464.32" cy="58.41" r="0.6"/><circle cx="466.13" cy="59.43" r="0.6"/><circle cx="466.88" cy="56.77" r="0.6"/><circle cx="462.64" cy="56.73" r="0.6"/><circle cx="466.32" cy="57.42" r="0.6"/><circle cx="462.87" cy="53.47" r="0.6"/><circle cx="465.88" cy="61.62" r="0.6"/><circle cx="465.18" cy="52.92" r="0.6"/><circle cx="460.12" cy="55.89" r="0.6"/><circle cx="468.57" cy="55.18" r="0.6"/><circle cx="463.62" cy="57.7" r="0.6"/><circle cx="465.98" cy="55.47" r="0.6"/><circle cx="460.59" cy="57.8" r="0.6"/><circle cx="462.53" cy="48.35" r="0.6"/><circle cx="458.74" cy="53.65" r="0.6"/><circle cx="462.71" cy="51.79" r="0.6"/><circle cx="468.22" cy="55.79" r="0.6"/><circle cx="463.54" cy="50.81" r="0.6"/><circle cx="466.2" cy="56.64" r="0.6"/><circle cx="462.97" cy="55.75" r="0.6"/><circle cx="463.41" cy="51.34" r="0.6"/><circle cx="467.29" cy="52" r="0.6"/><circle cx="462.51" cy="50.95" r="0.6"/><circle cx="461.73" cy="51.22" r="0.6"/><circle cx="463.03" cy="56.16" r="0.6"/><circle cx="468.32" cy="59.49" r="0.6"/><circle cx="466.42" cy="47.31" r="0.6"/><circle cx="465.62" cy="50.92" r="0.6"/><circle cx="461.31" cy="58.88" r="0.6"/><circle cx="468.23" cy="59.79" r="0.6"/><circle cx="464.44" cy="57.8" r="0.6"/><circle cx="466.88" cy="60.31" r="0.6"/><circle cx="463.28" cy="58.52" r="0.6"/><circle cx="464.49" cy="51.24" r="0.6"/><circle cx="463.61" cy="47.93" r="0.6"/><circle cx="462.9" cy="54.23" r="0.6"/><circle cx="463.17" cy="54.61" r="0.6"/><circle cx="462.98" cy="53.23" r="0.6"/><circle cx="465.9" cy="56.66" r="0.6"/><circle cx="464.96" cy="62.21" r="0.6"/><circle cx="464.15" cy="54.19" r="0.6"/><circle cx="465.45" cy="57.22" r="0.6"/><circle cx="461.86" cy="53.98" r="0.6"/><circle cx="460.7" cy="53.83" r="0.6"/><circle cx="467.23" cy="50.94" r="0.6"/><circle cx="462.63" cy="51.02" r="0.6"/><circle cx="465.17" cy="59.26" r="0.6"/><circle cx="461.5" cy="55.14" r="0.6"/><circle cx="460.14" cy="57.43" r="0.6"/><circle cx="460.09" cy="51.52" r="0.6"/><circle cx="467.39" cy="55.39" r="0.6"/><circle cx="467.24" cy="55.71" r="0.6"/><circle cx="465.63" cy="55.63" r="0.6"/><circle cx="465.52" cy="53.64" r="0.6"/><circle cx="466.24" cy="60.31" r="0.6"/><circle cx="466.59" cy="58.65" r="0.6"/><circle cx="461.89" cy="53.81" r="0.6"/><circle cx="465.88" cy="61.23" r="0.6"/><circle cx="467.31" cy="55.36" r="0.6"/><circle cx="458.44" cy="52.16" r="0.6"/><circle cx="468.22" cy="54.25" r="0.6"/><circle cx="465.35" cy="50.26" r="0.6"/><circle cx="465.96" cy="50.31" r="0.6"/><circle cx="459.54" cy="57.65" r="0.6"/><circle cx="465.54" cy="47.7" r="0.6"/><circle cx="463.55" cy="62.28" r="0.6"/><circle cx="459.52" cy="56.57" r="0.6"/><circle cx="462.69" cy="58.8" r="0.6"/><circle cx="463.38" cy="48.38" r="0.6"/><circle cx="463.93" cy="57.86" r="0.6"/><circle cx="462.32" cy="56.29" r="0.6"/><circle cx="463.71" cy="58.5" r="0.6"/><circle cx="465.83" cy="51.89" r="0.6"/><circle cx="465.5" cy="60" r="0.6"/><circle cx="463.95" cy="52.08" r="0.6"/><circle cx="461.95" cy="56.64" r="0.6"/><circle cx="467.2" cy="51.25" r="0.6"/><circle cx="463.65" cy="54.84" r="0.6"/><circle cx="466.49" cy="59.83" r="0.6"/><circle cx="466.77" cy="58.09" r="0.6"/><circle cx="461.68" cy="47.98" r="0.6"/><circle cx="461.5" cy="58.1" r="0.6"/><circle cx="464.61" cy="57.24" r="0.6"/><circle cx="461.81" cy="57.73" r="0.6"/><circle cx="460.17" cy="58.74" r="0.6"/><circle cx="465.15" cy="60.05" r="0.6"/><circle cx="463.85" cy="56.14" r="0.6"/><circle cx="460.56" cy="58.01" r="0.6"/><circle cx="463.13" cy="54.88" r="0.6"/><circle cx="460.35" cy="56.21" r="0.6"/><circle cx="464.75" cy="52.16" r="0.6"/><circle cx="467" cy="54.14" r="0.6"/><circle cx="467.35" cy="53.11" r="0.6"/><circle cx="461.76" cy="47.87" r="0.6"/><circle cx="463.31" cy="60.37" r="0.6"/><circle cx="465.78" cy="53.83" r="0.6"/><circle cx="460.9" cy="54.5" r="0.6"/><circle cx="465.25" cy="52.99" r="0.6"/><circle cx="462.57" cy="51.66" r="0.6"/><circle cx="465.73" cy="56.49" r="0.6"/><circle cx="466.13" cy="60.71" r="0.6"/><circle cx="465.15" cy="58.64" r="0.6"/><circle cx="461.39" cy="48.9" r="0.6"/><circle cx="461.48" cy="49.08" r="0.6"/><circle cx="467.09" cy="50.18" r="0.6"/><circle cx="462.05" cy="60.23" r="0.6"/><circle cx="461.54" cy="54.37" r="0.6"/><circle cx="466.7" cy="56.56" r="0.6"/><circle cx="466.76" cy="53.96" r="0.6"/><circle cx="461.22" cy="47.23" r="0.6"/><circle cx="460.59" cy="60.57" r="0.6"/><circle cx="460.99" cy="50.68" r="0.6"/><circle cx="460.41" cy="55.35" r="0.6"/><circle cx="465.11" cy="50.23" r="0.6"/><circle cx="460.69" cy="51.18" r="0.6"/></g>
<g fill="#111"><circle cx="480.28" cy="51.31" r="0.6"/><circle cx="488.91" cy="51.46" r="0.6"/><circle cx="489.96" cy="52.16" r="0.6"/><circle cx="490.49" cy="55.27" r="0.6"/><circle cx="491.14" cy="50.28" r="0.6"/><circle cx="481.21" cy="57.92" r="0.6"/><circle cx="487.15" cy="54.67" r="0.6"/><circle cx="487.5" cy="56.74" r="0.6"/><circle cx="481.54" cy="47.72" r="0.6"/><circle cx="488.93" cy="47.67" r="0.6"/><circle cx="490.33" cy="59.58" r="0.6"/><circle cx="491.63" cy="53.78" r="0.6"/><circle cx="481.17" cy="59.33" r="0.6"/><circle cx="484.53" cy="55.77" r="0.6"/><circle cx="485.53" cy="55.17" r="0.6"/><circle cx="489.73" cy="60.3" r="0.6"/><circle cx="485" cy="58.35" r="0.6"/><circle cx="491.35" cy="54.27" r="0.6"/><circle cx="486.56" cy="47.52" r="0.6"/><circle cx="481.31" cy="49.68" r="0.6"/><circle cx="489.12" cy="50.15" r="0.6"/><circle cx="486.69" cy="54.5" r="0.6"/><circle cx="491.05" cy="57.55" r="0.6"/><circle cx="485.56" cy="54.66" r="0.6"/><circle cx="483.57" cy="48.7" r="0.6"/><circle cx="480.83" cy="55.13" r="0.6"/><circle cx="484.49" cy="52.75" r="0.6"/><circle cx="484.34" cy="60.22" r="0.6"/><circle cx="480.82" cy="52.61" r="0.6"/><circle cx="490.29" cy="59.37" r="0.6"/><circle cx="480.67" cy="54.34" r="0.6"/><circle cx="481.92" cy="52.94" r="0.6"/><circle cx="488.91" cy="59.93" r="0.6"/><circle cx="479.2" cy="57.16" r="0.6"/><circle cx="483.19" cy="54.68" r="0.6"/><circle cx="481.14" cy="55.19" r="0.6"/><circle cx="482.62" cy="51.43" r="0.6"/><circle cx="486.61" cy="60.84" r="0.6"/><circle cx="485.39" cy="55.09" r="0.6"/><circle cx="480.27" cy="51.7" r="0.6"/><circle cx="481.24" cy="48.27" r="0.6"/><circle cx="487.02" cy="55.12" r="0.6"/><circle cx="487.95" cy="53.64" r="0.6"/><circle cx="484.55" cy="55.65" r="0.6"/><circle cx="490.15" cy="50.48" r="0.6"/><circle cx="482.98" cy="58.42" r="0.6"/><circle cx="491.28" cy="53.74" r="0.6"/><circle cx="485.15" cy="57.97" r="0.6"/><circle cx="492.29" cy="58.16" r="0.6"/><circle cx="482.94" cy="56.24" r="0.6"/><circle cx="490.07" cy="53.83" r="0.6"/><circle cx="489.45" cy="53.28" r="0.6"/><circle cx="488.08" cy="55.64" r="0.6"/><circle cx="483.26" cy="53.93" r="0.6"/><circle cx="482.38" cy="52.68" r="0.6"/><circle cx="483.59" cy="58" r="0.6"/><circle cx="481.68" cy="53.32" r="0.6"/><circle cx="478.33" cy="55.34" r="0.6"/><circle cx="490.08" cy="54.94" r="0.6"/><circle cx="485.58" cy="57.33" r="0.6"/><circle cx="479.64" cy="52.99" r="0.6"/><circle cx="487.29" cy="59.67" r="0.6"/><circle cx="485.33" cy="56.16" r="0.6"/><circle cx="486.32" cy="59.27" r="0.6"/><circle cx="480.93" cy="49.39" r="0.6"/><circle cx="482.37" cy="58.88" r="0.6"/><circle cx="481.14" cy="54.24" r="0.6"/><circle cx="488.38" cy="54.84" r="0.6"/><circle cx="479.26" cy="49.59" r="0.6"/><circle cx="487.33" cy="58.78" r="0.6"/><circle cx="489.33" cy="51.43" r="0.6"/><circle cx="482.02" cy="51.72" r="0.6"/><circle cx="491.61" cy="55.44" r="0.6"/><circle cx="488.47" cy="51.16" r="0.6"/><circle cx="483.32" cy="59.67" r="0.6"/><circle cx="485.89" cy="60.97" r="0.6"/><circle cx="482.08" cy="52.49" r="0.6"/><circle cx="482.18" cy="59.82" r="0.6"/><circle cx="481.96" cy="50.01" r="0.6"/><circle cx="491.98" cy="51.33" r="0.6"/><circle cx="486.01" cy="52.88" r="0.6"/><circle cx="480.28" cy="59.33" r="0.6"/><circle cx="481.45" cy="51.46" r="0.6"/><circle cx="488.4" cy="52.8" r="0.6"/><circle cx="480.21" cy="50.9" r="0.6"/><circle cx="485.02" cy="58.9" r="0.6"/><circle cx="482.77" cy="58.44" r="0.6"/><circle cx="481.99" cy="59.82" r="0.6"/><circle cx="482.43" cy="56.92" r="0.6"/><circle cx="480.11" cy="54.48" r="0.6"/><circle cx="489.09" cy="52.22" r="0.6"/><circle cx="483.36" cy="53" r="0.6"/><circle cx="490.42" cy="51.65" r="0.6"/><circle cx="483.65" cy="51.08" r="0.6"/><circle cx="483.42" cy="52.56" r="0.6"/><circle cx="491.25" cy="59.83" r="0.6"/><circle cx="478.97" cy="56.55" r="0.6"/><circle cx="484.38" cy="56.3" r="0.6"/><circle cx="490.27" cy="52.07" r="0.6"/><circle cx="489.07" cy="57.45" r="0.6"/><circle cx="480.88" cy="50.58" r="0.6"/><circle cx="479.14" cy="51.47" r="0.6"/><circle cx="490.3" cy="55.02" r="0.6"/><circle cx="484.79" cy="57.04" r="0.6"/><circle cx="490.28" cy="58.47" r="0.6"/><circle cx="490.95" cy="56.03" r="0.6"/><circle cx="480.61" cy="59.61" r="0.6"/><circle cx="488.97" cy="48.05" r="0.6"/><circle cx="489.07" cy="59.28" r="0.6"/><circle cx="492.55" cy="52.99" r="0.6"/><circle cx="488.61" cy="58.69" r="0.6"/><circle cx="479.01" cy="57.48" r="0.6"/><circle cx="489.05" cy="47.05" r="0.6"/><circle cx="483.1" cy="54.92" r="0.6"/><circle cx="482.09" cy="52.3" r="0.6"/><circle cx="491.4" cy="53.28" r="0.6"/><circle cx="480.3" cy="56.09" r="0.6"/><circle cx="486.73" cy="58.75" r="0.6"/><circle cx="487.16" cy="52.91" r="0.6"/><circle cx="480.16" cy="51.67" r="0.6"/><circle cx="479.89" cy="52.02" r="0.6"/><circle cx="488.87" cy="47.12" r="0.6"/><circle cx="486.92" cy="47.07" r="0.6"/><circle cx="487.24" cy="60.27" r="0.6"/><circle cx="483.04" cy="49.42" r="0.6"/><circle cx="490.67" cy="52.16" r="0.6"/><circle cx="481.52" cy="57.72" r="0.6"/><circle cx="483.51" cy="49.53" r="0.6"/><circle cx="483.24" cy="55.82" r="0.6"/><circle cx="481.46" cy="47.6" r="0.6"/><circle cx="491.11" cy="56.64" r="0.6"/><circle cx="485.85" cy="54.75" r="0.6"/><circle cx="486.71" cy="48.16" r="0.6"/><circle cx="485.04" cy="61.15" r="0.6"/><circle cx="490.24" cy="58.66" r="0.6"/><circle cx="487.53" cy="54.82" r="0.6"/><circle cx="485.35" cy="55.8" r="0.6"/><circle cx="480.47" cy="51.72" r="0.6"/><circle cx="483.98" cy="50.3" r="0.6"/><circle cx="486" cy="60.55" r="0.6"/><circle cx="488.05" cy="59.09" r="0.6"/><circle cx="481.21" cy="57.01" r="0.6"/><circle cx="486.83" cy="53.14" r="0.6"/><circle cx="491.84" cy="55.73" r="0.6"/><circle cx="481.92" cy="48.58" r="0.6"/><circle cx="485.65" cy="55.81" r="0.6"/><circle cx="480.19" cy="54.48" r="0.6"/><circle cx="483.5" cy="48.71" r="0.6"/><circle cx="486.41" cy="57.2" r="0.6"/><circle cx="479.97" cy="59.28" r="0.6"/><circle cx="492.09" cy="55.03" r="0.6"/><circle cx="489.55" cy="48.6" r="0.6"/><circle cx="479.11" cy="56.15" r="0.6"/><circle cx="489.1" cy="52.9" r="0.6"/><circle cx="491.71" cy="54.79" r="0.6"/><circle cx="480.66" cy="58.6" r="0.6"/><circle cx="488.54" cy="59.36" r="0.6"/><circle cx="488.95" cy="60.62" r="0.6"/><circle cx="491.56" cy="57.22" r="0.6"/><circle cx="484.75" cy="59.08" r="0.6"/><circle cx="489.46" cy="49.79" r="0.6"/><circle cx="488.91" cy="53.51" r="0.6"/><circle cx="486.67" cy="55.95" r="0.6"/><circle cx="479.33" cy="52.64" r="0.6"/><circle cx="491.16" cy="58.74" r="0.6"/><circle cx="489.65" cy="57.3" r="0.6"/><circle cx="480.19" cy="59.93" r="0.6"/><circle cx="487.06" cy="48.68" r="0.6"/><circle cx="486.73" cy="52.85" r="0.6"/><circle cx="487.34" cy="52.11" r="0.6"/><circle cx="488.15" cy="54.38" r="0.6"/><circle cx="479.4" cy="54.26" r="0.6"/><circle cx="489.17" cy="55.93" r="0.6"/><circle cx="483.51" cy="57.75" r="0.6"/><circle cx="484.03" cy="51.85" r="0.6"/><circle cx="483.91" cy="51.22" r="0.6"/><circle cx="490.21" cy="53.95" r="0.6"/><circle cx="483.36" cy="49.87" r="0.6"/><circle cx="481.94" cy="57.25" r="0.6"/><circle cx="483.32" cy="60.28" r="0.6"/><circle cx="481.74" cy="55.51" r="0.6"/><circle cx="489.61" cy="53.24" r="0.6"/><circle cx="485.42" cy="60.45" r="0.6"/><circle cx="482.6" cy="57.8" r="0.6"/><circle cx="482.04" cy="55.32" r="0.6"/><circle cx="482.17" cy="57.57" r="0.6"/><circle cx="480.22" cy="58.47" r="0.6"/><circle cx="479.69" cy="49.74" r="0.6"/><circle cx="487.74" cy="60.84" r="0.6"/><circle cx="488.52" cy="56.94" r="0.6"/><circle cx="483.33" cy="48.19" r="0.6"/><circle cx="485.77" cy="47.2" r="0.6"/><circle cx="487.17" cy="57.78" r="0.6"/><circle cx="480.98" cy="49.11" r="0.6"/><circle cx="489.39" cy="53.15" r="0.6"/><circle cx="486.1" cy="56.37" r="0.6"/><circle cx="488.82" cy="50.14" r="0.6"/><circle cx="489.7" cy="50.33" r="0.6"/><circle cx="483.88" cy="51.08" r="0.6"/><circle cx="485.44" cy="56.14" r="0.6"/><circle cx="489.51" cy="48.62" r="0.6"/><circle cx="479.33" cy="54.32" r="0.6"/><circle cx="491.95" cy="52.74" r="0.6"/><circle cx="489.04" cy="60.49" r="0.6"/><circle cx="490.12" cy="50.68" r="0.6"/><circle cx="488.61" cy="47.83" r="0.6"/><circle cx="487.64" cy="52.54" r="0.6"/><circle cx="482.03" cy="49.47" r="0.6"/><circle cx="482.34" cy="56.22" r="0.6"/><circle cx="490.8" cy="50.17" r="0.6"/><circle cx="481.65" cy="52.1" r="0.6"/><circle cx="480.58" cy="56.68" r="0.6"/><circle cx="487.05" cy="60.84" r="0.6"/><circle cx="483.98" cy="58.13" r="0.6"/><circle cx="483.94" cy="48.52" r="0.6"/><circle cx="481.13" cy="57.93" r="0.6"/><circle cx="490.31" cy="57.23" r="0.6"/><circle cx="482.08" cy="53.47" r="0.6"/><circle cx="490.65" cy="49.03" r="0.6"/><circle cx="485.36" cy="49.36" r="0.6"/><circle cx="482.55" cy="50" r="0.6"/><circle cx="478.86" cy="54.87" r="0.6"/><circle cx="483.53" cy="46.78" r="0.6"/><circle cx="485.79" cy="53.77" r="0.6"/><circle cx="490.51" cy="57.75" r="0.6"/><circle cx="484.21" cy="61.44" r="0.6"/><circle cx="484.51" cy="49.33" r="0.6"/><circle cx="487.17" cy="61.14" r="0.6"/><circle cx="484.08" cy="50.95" r="0.6"/><circle cx="490.57" cy="58.35" r="0.6"/><circle cx="488.43" cy="59.38" r="0.6"/><circle cx="486.92" cy="58.4" r="0.6"/><circle cx="483.66" cy="54.28" r="0.6"/><circle cx="482.9" cy="56.14" r="0.6"/><circle cx="486.05" cy="54.34" r="0.6"/><circle cx="490.99" cy="54.72" r="0.6"/><circle cx="490.46" cy="51.51" r="0.6"/><circle cx="485.65" cy="55.46" r="0.6"/><circle cx="484.17" cy="58.88" r="0.6"/><circle cx="481.3" cy="51.15" r="0.6"/><circle cx="489.68" cy="54.77" r="0.6"/><circle cx="487.5" cy="53.8" r="0.6"/><circle cx="489.07" cy="49" r="0.6"/><circle cx="483.38" cy="50.55" r="0.6"/><circle cx="487.74" cy="60" r="0.6"/><circle cx="489.63" cy="56.18" r="0.6"/><circle cx="484.81" cy="52.11" r="0.6"/><circle cx="484.6" cy="56.07" r="0.6"/><circle cx="484.41" cy="55.37" r="0.6"/><circle cx="491.69" cy="57.94" r="0.6"/><circle cx="483.36" cy="47.82" r="0.6"/><circle cx="486.74" cy="53.86" r="0.6"/><circle cx="478.61" cy="55.85" r="0.6"/><circle cx="489.35" cy="53.37" r="0.6"/><circle cx="483.94" cy="54.21" r="0.6"/><circle cx="487.93" cy="57.9" r="0.6"/><circle cx="488.29" cy="54.31" r="0.6"/><circle cx="481.25" cy="50.86" r="0.6"/><circle cx="489.91" cy="55.57" r="0.6"/><circle cx="489.33" cy="54.41" r="0.6"/><circle cx="485.49" cy="55.58" r="0.6"/><circle cx="490.53" cy="49.89" r="0.6"/><circle cx="482.44" cy="51.38" r="0.6"/><circle cx="490.13" cy="55.15" r="0.6"/><circle cx="480.11" cy="50.96" r="0.6"/><circle cx="490.67" cy="51.11" r="0.6"/><circle cx="485.64" cy="52.74" r="0.6"/><circle cx="486.96" cy="52.18" r="0.6"/><circle cx="488.14" cy="58.39" r="0.6"/><circle cx="491.83" cy="53.5" r="0.6"/><circle cx="485.73" cy="56.68" r="0.6"/><circle cx="480.27" cy="56.79" r="0.6"/><circle cx="485.79" cy="58.68" r="0.6"/><circle cx="488.35" cy="52.41" r="0.6"/><circle cx="482.38" cy="49.23" r="0.6"/><circle cx="491.71" cy="52.86" r="0.6"/><circle cx="491.4" cy="57.18" r="0.6"/><circle cx="488.62" cy="47.54" r="0.6"/><circle cx="481.74" cy="56.15" r="0.6"/><circle cx="480.49" cy="61.11" r="0.6"/><circle cx="481.39" cy="58.59" r="0.6"/><circle cx="479.03" cy="52.42" r="0.6"/><circle cx="488.29" cy="48.7" r="0.6"/><circle cx="491.65" cy="55.22" r="0.6"/><circle cx="489.35" cy="54.26" r="0.6"/><circle cx="484.98" cy="59.21" r="0.6"/><circle cx="482.74" cy="59.69" r="0.6"/><circle cx="486.39" cy="62.03" r="0.6"/><circle cx="489.14" cy="49.43" r="0.6"/><circle cx="480.28" cy="55.6" r="0.6"/><circle cx="489.55" cy="55.79" r="0.6"/><circle cx="483.51" cy="52.37" r="0.6"/><circle cx="483.78" cy="58.85" r="0.6"/><circle cx="481.04" cy="48.46" r="0.6"/><circle cx="486.06" cy="55.29" r="0.6"/><circle cx="480.59" cy="54.88" r="0.6"/><circle cx="481.6" cy="53.28" r="0.6"/><circle cx="481.06" cy="59.66" r="0.6"/><circle cx="484.85" cy="58.21" r="0.6"/><circle cx="482.19" cy="58.27" r="0.6"/><circle cx="478.81" cy="52.84" r="0.6"/><circle cx="478.5" cy="49.96" r="0.6"/><circle cx="479.04" cy="55.22" r="0.6"/><circle cx="482.43" cy="59.08" r="0.6"/><circle cx="484.8" cy="53.28" r="0.6"/><circle cx="489.19" cy="57.31" r="0.6"/><circle cx="480.82" cy="50.55" r="0.6"/><circle cx="488.85" cy="54.13" r="0.6"/><circle cx="491.11" cy="57.72" r="0.6"/><circle cx="487.48" cy="59.09" r="0.6"/><circle cx="489.38" cy="53.36" r="0.6"/><circle cx="488.7" cy="58.59" r="0.6"/><circle cx="489.3" cy="58.49" r="0.6"/><circle cx="485.02" cy="58.03" r="0.6"/><circle cx="481.74" cy="60.71" r="0.6"/><circle cx="489.86" cy="50.57" r="0.6"/><circle cx="481.58" cy="54.38" r="0.6"/><circle cx="491.21" cy="56.55" r="0.6"/><circle cx="489.13" cy="57.48" r="0.6"/><circle cx="490.82" cy="53.45" r="0.6"/><circle cx="489.55" cy="51.59" r="0.6"/><circle cx="486.25" cy="48.12" r="0.6"/><circle cx="484.14" cy="56.01" r="0.6"/><circle cx="482.14" cy="51.75" r="0.6"/><circle cx="482.73" cy="49.32" r="0.6"/><circle cx="484.99" cy="56.45" r="0.6"/><circle cx="488.37" cy="47.6" r="0.6"/><circle cx="482.32" cy="61.17" r="0.6"/><circle cx="491.47" cy="55.66" r="0.6"/><circle cx="484.2" cy="60.81" r="0.6"/><circle cx="481.74" cy="59.62" r="0.6"/><circle cx="491.98" cy="53.4" r="0.6"/><circle cx="482.72" cy="48.41" r="0.6"/><circle cx="478.67" cy="56.59" r="0.6"/><circle cx="483.47" cy="56.33" r="0.6"/><circle cx="486.5" cy="56.58" r="0.6"/><circle cx="484.71" cy="61.49" r="0.6"/><circle cx="487.44" cy="55.48" r="0.6"/><circle cx="491.1" cy="57.52" r="0.6"/><circle cx="484.3" cy="48.94" r="0.6"/><circle cx="480.66" cy="55.57" r="0.6"/><circle cx="483.96" cy="57.6" r="0.6"/><circle cx="488.82" cy="51.29" r="0.6"/><circle cx="492.55" cy="55.81" r="0.6"/><circle cx="483.86" cy="60.23" r="0.6"/><circle cx="481.8" cy="49.17" r="0.6"/><circle cx="490.14" cy="52.69" r="0.6"/><circle cx="490.89" cy="49.3" r="0.6"/><circle cx="482.96" cy="48.53" r="0.6"/><circle cx="481.69" cy="51.58" r="0.6"/><circle cx="483.53" cy="53.77" r="0.6"/><circle cx="484.62" cy="52.69" r="0.6"/><circle cx="480.71" cy="60.5" r="0.6"/><circle cx="487.48" cy="58.62" r="0.6"/><circle cx="488.55" cy="53.71" r="0.6"/><circle cx="488.46" cy="52.06" r="0.6"/><circle cx="479.78" cy="54.34" r="0.6"/><circle cx="484.82" cy="59.05" r="0.6"/><circle cx="487.19" cy="60.46" r="0.6"/><circle cx="490.26" cy="52.6" r="0.6"/><circle cx="483.68" cy="52.44" r="0.6"/><circle cx="480.77" cy="59.56" r="0.6"/><circle cx="488.34" cy="60.44" r="0.6"/><circle cx="478.73" cy="53.15" r="0.6"/><circle cx="487.48" cy="55.88" r="0.6"/><circle cx="482.81" cy="58.37" r="0.6"/><circle cx="480.9" cy="56.25" r="0.6"/><circle cx="488.44" cy="58.13" r="0.6"/><circle cx="480.41" cy="56.64" r="0.6"/><circle cx="481.85" cy="47.69" r="0.6"/><circle cx="482.6" cy="50.54" r="0.6"/><circle cx="488.28" cy="60.7" r="0.6"/><circle cx="488.69" cy="47.95" r="0.6"/><circle cx="481.22" cy="51.4" r="0.6"/><circle cx="487.37" cy="59" r="0.6"/><circle cx="480.01" cy="50.16" r="0.6"/><circle cx="483.55" cy="56.24" r="0.6"/><circle cx="481.91" cy="58.64" r="0.6"/><circle cx="479.03" cy="54.55" r="0.6"/><circle cx="487.06" cy="57.33" r="0.6"/><circle cx="486.02" cy="56.65" r="0.6"/><circle cx="492.26" cy="51.96" r="0.6"/><circle cx="485.26" cy="52.62" r="0.6"/><circle cx="482.65" cy="49.46" r="0.6"/><circle cx="487.35" cy="57.12" r="0.6"/><circle cx="489.08" cy="57.65" r="0.6"/><circle cx="488.72" cy="56.72" r="0.6"/><circle cx="481.48" cy="56.25" r="0.6"/><circle cx="483.89" cy="59.55" r="0.6"/><circle cx="479.42" cy="58.61" r="0.6"/><circle cx="490.46" cy="58.72" r="0.6"/><circle cx="480.02" cy="48.61" r="0.6"/><circle cx="482.77" cy="51.02" r="0.6"/><circle cx="489.13" cy="60.66" r="0.6"/><circle cx="489.27" cy="51.87" r="0.6"/><circle cx="481.7" cy="55.66" r="0.6"/><circle cx="490.11" cy="58.5" r="0.6"/><circle cx="491.47" cy="55.08" r="0.6"/><circle cx="486.71" cy="59.94" r="0.6"/><circle cx="482.05" cy="50.48" r="0.6"/><circle cx="480.47" cy="55.93" r="0.6"/><circle cx="484.59" cy="55.02" r="0.6"/><circle cx="484.84" cy="48.1" r="0.6"/><circle cx="484.93" cy="52.28" r="0.6"/><circle cx="481.91" cy="56" r="0.6"/><circle cx="484.53" cy="57.86" r="0.6"/><circle cx="490.17" cy="48.6" r="0.6"/><circle cx="479.79" cy="50.57" r="0.6"/><circle cx="487.35" cy="59.65" r="0.6"/><circle cx="483.26" cy="49.57" r="0.6"/><circle cx="488.7" cy="49.68" r="0.6"/><circle cx="486.11" cy="47.78" r="0.6"/><circle cx="490.81" cy="54.66" r="0.6"/><circle cx="487.42" cy="55.55" r="0.6"/><circle cx="479.42" cy="55.53" r="0.6"/><circle cx="490.52" cy="54.31" r="0.6"/><circle cx="482.71" cy="54.27" r="0.6"/><circle cx="487.01" cy="52.76" r="0.6"/><circle cx="490.91" cy="59.63" r="0.6"/><circle cx="483.39" cy="58.67" r="0.6"/><circle cx="479.88" cy="56.78" r="0.6"/><circle cx="484.53" cy="52.62" r="0.6"/><circle cx="491.76" cy="56.65" r="0.6"/><circle cx="491.09" cy="57.62" r="0.6"/><circle cx="490.76" cy="53.2" r="0.6"/><circle cx="491.71" cy="53.21" r="0.6"/><circle cx="482.85" cy="52.45" r="0.6"/><circle cx="484.25" cy="60.27" r="0.6"/><circle cx="490.16" cy="59.15" r="0.6"/><circle cx="482.5" cy="50.9" r="0.6"/><circle cx="482.38" cy="59.67" r="0.6"/><circle cx="490.12" cy="57.74" r="0.6"/><circle cx="484.16" cy="54.87" r="0.6"/><circle cx="484.98" cy="56.25" r="0.6"/><circle cx="483.94" cy="59.06" r="0.6"/><circle cx="479.78" cy="51.37" r="0.6"/><circle cx="480.94" cy="52.81" r="0.6"/><circle cx="489.1" cy="58.38" r="0.6"/><circle cx="479.28" cy="57.49" r="0.6"/><circle cx="491.49" cy="56.04" r="0.6"/></g>
<g fill="#111"><circle cx="465.71" cy="35.15" r="0.5"/><circle cx="464.42" cy="23.51" r="0.5"/><circle cx="468.61" cy="35.8" r="0.5"/><circle cx="462.22" cy="22.73" r="0.5"/><circle cx="466.48" cy="29.3" r="0.5"/><circle cx="468.53" cy="27.23" r="0.5"/><circle cx="468.29" cy="24.01" r="0.5"/><circle cx="466.75" cy="25.99" r="0.5"/><circle cx="466.07" cy="32.3" r="0.5"/><circle cx="468.41" cy="27.6" r="0.5"/><circle cx="464.59" cy="36.34" r="0.5"/><circle cx="462.72" cy="27.83" r="0.5"/><circle cx="462.86" cy="37.69" r="0.5"/><circle cx="467.26" cy="25.21" r="0.5"/><circle cx="463.65" cy="27.33" r="0.5"/><circle cx="466.32" cy="38.13" r="0.5"/><circle cx="463.59" cy="22.73" r="0.5"/><circle cx="464.91" cy="24.38" r="0.5"/><circle cx="464.59" cy="29.79" r="0.5"/><circle cx="461.54" cy="24.01" r="0.5"/><circle cx="468.57" cy="31.65" r="0.5"/><circle cx="468.33" cy="24.8" r="0.5"/><circle cx="468.37" cy="29.68" r="0.5"/><circle cx="464.87" cy="27.68" r="0.5"/><circle cx="464.57" cy="22.51" r="0.5"/><circle cx="466.89" cy="31.17" r="0.5"/><circle cx="466.99" cy="32.25" r="0.5"/><circle cx="466.5" cy="34.85" r="0.5"/><circle cx="468.92" cy="35.47" r="0.5"/><circle cx="468.34" cy="24.71" r="0.5"/><circle cx="464.87" cy="23.95" r="0.5"/><circle cx="464.93" cy="40.72" r="0.5"/><circle cx="461.41" cy="30.15" r="0.5"/><circle cx="464.63" cy="41.04" r="0.5"/><circle cx="468.33" cy="24.34" r="0.5"/><circle cx="463.08" cy="29.49" r="0.5"/><circle cx="461.77" cy="29" r="0.5"/><circle cx="462.19" cy="29.41" r="0.5"/><circle cx="463.21" cy="26.22" r="0.5"/><circle cx="461.41" cy="22.84" r="0.5"/><circle cx="462.31" cy="23.26" r="0.5"/><circle cx="463.64" cy="38.09" r="0.5"/><circle cx="469.8" cy="29.19" r="0.5"/><circle cx="464.5" cy="25.96" r="0.5"/><circle cx="464.99" cy="30.5" r="0.5"/><circle cx="466.56" cy="31.33" r="0.5"/><circle cx="466.67" cy="31.39" r="0.5"/><circle cx="465.4" cy="23.47" r="0.5"/><circle cx="462" cy="27.74" r="0.5"/><circle cx="461.11" cy="35.46" r="0.5"/><circle cx="467.06" cy="37.23" r="0.5"/><circle cx="466.2" cy="34.94" r="0.5"/><circle cx="463.26" cy="29.15" r="0.5"/><circle cx="464.63" cy="40.42" r="0.5"/><circle cx="466.35" cy="26.86" r="0.5"/><circle cx="462.12" cy="25.25" r="0.5"/><circle cx="464.95" cy="29.42" r="0.5"/><circle cx="467.96" cy="33.14" r="0.5"/><circle cx="464.39" cy="23.78" r="0.5"/><circle cx="465.36" cy="24.58" r="0.5"/><circle cx="466.6" cy="37.3" r="0.5"/><circle cx="466.98" cy="41.74" r="0.5"/><circle cx="463.76" cy="24.77" r="0.5"/><circle cx="467.46" cy="38.6" r="0.5"/><circle cx="461.05" cy="31.03" r="0.5"/><circle cx="462.82" cy="34.97" r="0.5"/><circle cx="463.24" cy="35.28" r="0.5"/><circle cx="463.42" cy="31.79" r="0.5"/><circle cx="465.07" cy="25.64" r="0.5"/><circle cx="465.91" cy="36.04" r="0.5"/><circle cx="466.44" cy="27.37" r="0.5"/><circle cx="468.76" cy="32.16" r="0.5"/><circle cx="466.45" cy="27.86" r="0.5"/><circle cx="468.04" cy="37.69" r="0.5"/><circle cx="462.88" cy="34.22" r="0.5"/><circle cx="462.45" cy="21.34" r="0.5"/><circle cx="461.86" cy="24" r="0.5"/><circle cx="466.04" cy="25.81" r="0.5"/><circle cx="466.21" cy="35.76" r="0.5"/><circle cx="462.18" cy="25.54" r="0.5"/><circle cx="466.06" cy="39.89" r="0.5"/><circle cx="466.54" cy="25.97" r="0.5"/><circle cx="466.85" cy="36.3" r="0.5"/><circle cx="466.97" cy="27.54" r="0.5"/><circle cx="461.61" cy="33.2" r="0.5"/><circle cx="466.23" cy="22.74" r="0.5"/><circle cx="465.22" cy="24.74" r="0.5"/><circle cx="465.02" cy="27.08" r="0.5"/><circle cx="467.74" cy="22.54" r="0.5"/><circle cx="464.66" cy="25.06" r="0.5"/><circle cx="463.3" cy="29.25" r="0.5"/><circle cx="465.23" cy="28.99" r="0.5"/><circle cx="465.13" cy="22.49" r="0.5"/><circle cx="461.66" cy="29.67" r="0.5"/><circle cx="461.63" cy="35.5" r="0.5"/><circle cx="462.97" cy="29.33" r="0.5"/><circle cx="461.45" cy="25.87" r="0.5"/><circle cx="462.49" cy="31.12" r="0.5"/><circle cx="461.9" cy="36.69" r="0.5"/><circle cx="462.28" cy="25.17" r="0.5"/><circle cx="464.09" cy="35.11" r="0.5"/><circle cx="464.39" cy="40.26" r="0.5"/><circle cx="464.69" cy="35.08" r="0.5"/><circle cx="461.62" cy="37.87" r="0.5"/><circle cx="463.38" cy="30.07" r="0.5"/><circle cx="468.3" cy="27.78" r="0.5"/><circle cx="462.76" cy="24.58" r="0.5"/><circle cx="468.92" cy="32.43" r="0.5"/><circle cx="466.36" cy="39.18" r="0.5"/><circle cx="467.73" cy="38.18" r="0.5"/><circle cx="463.79" cy="27.79" r="0.5"/><circle cx="462.1" cy="40.01" r="0.5"/><circle cx="468.15" cy="37.59" r="0.5"/><circle cx="467" cy="35.81" r="0.5"/><circle cx="466.42" cy="27.91" r="0.5"/><circle cx="465.55" cy="26.73" r="0.5"/><circle cx="467.99" cy="38" r="0.5"/><circle cx="468.12" cy="35.22" r="0.5"/><circle cx="464.82" cy="30.69" r="0.5"/><circle cx="467.38" cy="39.24" r="0.5"/><circle cx="462.93" cy="22.28" r="0.5"/><circle cx="467.58" cy="24.98" r="0.5"/><circle cx="466.34" cy="24.41" r="0.5"/><circle cx="464.01" cy="33.18" r="0.5"/><circle cx="467.74" cy="36.91" r="0.5"/><circle cx="464.62" cy="21.69" r="0.5"/><circle cx="464.08" cy="31.03" r="0.5"/><circle cx="465.95" cy="24.9" r="0.5"/><circle cx="469.61" cy="35.9" r="0.5"/><circle cx="460.41" cy="33.1" r="0.5"/><circle cx="463.33" cy="21.82" r="0.5"/><circle cx="467.48" cy="28.64" r="0.5"/><circle cx="468.81" cy="23.45" r="0.5"/><circle cx="464.12" cy="26.84" r="0.5"/><circle cx="462.15" cy="27.34" r="0.5"/><circle cx="461.6" cy="31.76" r="0.5"/><circle cx="468" cy="23.54" r="0.5"/><circle cx="466.2" cy="39.71" r="0.5"/><circle cx="466.23" cy="38.45" r="0.5"/><circle cx="464.78" cy="39.93" r="0.5"/><circle cx="465.33" cy="37.65" r="0.5"/><circle cx="462.44" cy="26.28" r="0.5"/><circle cx="465.29" cy="22.01" r="0.5"/><circle cx="466.77" cy="36.55" r="0.5"/><circle cx="464.1" cy="22.99" r="0.5"/><circle cx="462.43" cy="31.61" r="0.5"/><circle cx="466.54" cy="36.41" r="0.5"/><circle cx="468.75" cy="29.63" r="0.5"/><circle cx="467.79" cy="35.09" r="0.5"/><circle cx="463.7" cy="36.88" r="0.5"/></g>
<g fill="#222"><circle cx="477.5" cy="31" r="0.55"/><circle cx="480" cy="29" r="0.55"/><circle cx="481.5" cy="27.5" r="0.55"/><circle cx="484" cy="30" r="0.55"/><circle cx="486" cy="29" r="0.55"/><circle cx="487.5" cy="26.5" r="0.55"/><circle cx="488.5" cy="33" r="0.55"/><circle cx="479" cy="36" r="0.55"/><circle cx="482" cy="35" r="0.55"/><circle cx="485" cy="37" r="0.55"/><circle cx="489" cy="38" r="0.55"/><circle cx="480.5" cy="41" r="0.55"/><circle cx="483" cy="43.5" r="0.55"/><circle cx="486.5" cy="45" r="0.55"/><circle cx="491" cy="42" r="0.55"/><circle cx="478" cy="44" r="0.55"/><circle cx="482.5" cy="46" r="0.55"/><circle cx="475.5" cy="46" r="0.55"/><circle cx="466" cy="45" r="0.55"/><circle cx="470" cy="45.5" r="0.55"/><circle cx="474" cy="52" r="0.55"/><circle cx="476.5" cy="59" r="0.55"/><circle cx="471" cy="55" r="0.55"/><circle cx="464" cy="43.5" r="0.55"/><circle cx="462" cy="44.5" r="0.55"/></g>
<g fill="#111"><circle cx="460.17" cy="113.89" r="0.6"/><circle cx="460.77" cy="111.74" r="0.6"/><circle cx="462.14" cy="115.98" r="0.6"/><circle cx="461.85" cy="121.94" r="0.6"/><circle cx="463.1" cy="111.14" r="0.6"/><circle cx="465.07" cy="122.02" r="0.6"/><circle cx="462.73" cy="112.92" r="0.6"/><circle cx="460.35" cy="120.33" r="0.6"/><circle cx="466.39" cy="119.07" r="0.6"/><circle cx="467.08" cy="114.24" r="0.6"/><circle cx="463.98" cy="116.4" r="0.6"/><circle cx="460.86" cy="112.86" r="0.6"/><circle cx="463.78" cy="118.83" r="0.6"/><circle cx="464.16" cy="114.3" r="0.6"/><circle cx="467.69" cy="119.56" r="0.6"/><circle cx="462.72" cy="116.14" r="0.6"/><circle cx="462.86" cy="115.53" r="0.6"/><circle cx="462.87" cy="113.57" r="0.6"/><circle cx="465.89" cy="112.5" r="0.6"/><circle cx="461.95" cy="120.92" r="0.6"/><circle cx="462.47" cy="120.42" r="0.6"/><circle cx="460.72" cy="111.84" r="0.6"/><circle cx="466.77" cy="117.75" r="0.6"/><circle cx="465.03" cy="121.75" r="0.6"/><circle cx="462.98" cy="110.23" r="0.6"/><circle cx="463.13" cy="109.27" r="0.6"/><circle cx="464.66" cy="121.92" r="0.6"/><circle cx="465.74" cy="117.36" r="0.6"/><circle cx="460.05" cy="115.72" r="0.6"/><circle cx="461.86" cy="122.11" r="0.6"/><circle cx="462.93" cy="111.51" r="0.6"/><circle cx="465.62" cy="111.24" r="0.6"/><circle cx="462.8" cy="118.85" r="0.6"/><circle cx="464.44" cy="109.38" r="0.6"/><circle cx="464.79" cy="114.28" r="0.6"/><circle cx="463.03" cy="113.64" r="0.6"/><circle cx="467.61" cy="116.47" r="0.6"/><circle cx="463.43" cy="118.02" r="0.6"/><circle cx="467.12" cy="115.63" r="0.6"/><circle cx="462.08" cy="117.36" r="0.6"/><circle cx="463.87" cy="121.34" r="0.6"/><circle cx="464.38" cy="113.18" r="0.6"/><circle cx="467.53" cy="118.47" r="0.6"/><circle cx="461.88" cy="119.59" r="0.6"/><circle cx="460.06" cy="120.29" r="0.6"/><circle cx="468.06" cy="119.58" r="0.6"/><circle cx="463.82" cy="120.67" r="0.6"/><circle cx="466.11" cy="110.24" r="0.6"/><circle cx="466.96" cy="114.23" r="0.6"/><circle cx="466.2" cy="117.76" r="0.6"/><circle cx="465.41" cy="111.18" r="0.6"/><circle cx="464.05" cy="120.5" r="0.6"/><circle cx="463.23" cy="115.59" r="0.6"/><circle cx="462.2" cy="121.06" r="0.6"/><circle cx="463.35" cy="109.93" r="0.6"/><circle cx="465.87" cy="109.28" r="0.6"/><circle cx="465.49" cy="110.02" r="0.6"/><circle cx="461.85" cy="119.8" r="0.6"/><circle cx="463.12" cy="114.19" r="0.6"/><circle cx="462.26" cy="121.53" r="0.6"/><circle cx="466.73" cy="110.77" r="0.6"/><circle cx="462.61" cy="110.59" r="0.6"/><circle cx="466.53" cy="111.82" r="0.6"/><circle cx="468.18" cy="116.78" r="0.6"/><circle cx="465.13" cy="115.42" r="0.6"/><circle cx="466.4" cy="117.51" r="0.6"/><circle cx="464.36" cy="119.52" r="0.6"/><circle cx="460" cy="117.73" r="0.6"/><circle cx="459.97" cy="110.57" r="0.6"/><circle cx="460.67" cy="113.32" r="0.6"/><circle cx="464.78" cy="110.49" r="0.6"/><circle cx="460.77" cy="116.42" r="0.6"/><circle cx="464.37" cy="112.93" r="0.6"/><circle cx="459.7" cy="112" r="0.6"/><circle cx="466.93" cy="118.85" r="0.6"/><circle cx="465.32" cy="115.42" r="0.6"/><circle cx="461.91" cy="118.08" r="0.6"/><circle cx="463.84" cy="111.39" r="0.6"/><circle cx="466.24" cy="116.65" r="0.6"/><circle cx="459.88" cy="114.32" r="0.6"/><circle cx="463.3" cy="109.27" r="0.6"/><circle cx="464.76" cy="119.84" r="0.6"/><circle cx="461.58" cy="120.61" r="0.6"/><circle cx="461.02" cy="120.53" r="0.6"/><circle cx="467.83" cy="113.93" r="0.6"/><circle cx="459.98" cy="119.03" r="0.6"/><circle cx="463.88" cy="117.14" r="0.6"/><circle cx="464.92" cy="110.17" r="0.6"/><circle cx="462.29" cy="121.12" r="0.6"/><circle cx="459.69" cy="110.16" r="0.6"/><circle cx="459.9" cy="115.15" r="0.6"/><circle cx="462.97" cy="116.01" r="0.6"/><circle cx="462.9" cy="111.45" r="0.6"/><circle cx="467.06" cy="112.2" r="0.6"/><circle cx="462.6" cy="112.81" r="0.6"/><circle cx="464.6" cy="120.13" r="0.6"/><circle cx="467.58" cy="116.99" r="0.6"/><circle cx="460.37" cy="113.49" r="0.6"/><circle cx="461.73" cy="112.71" r="0.6"/><circle cx="461.1" cy="111.12" r="0.6"/><circle cx="467.1" cy="118.33" r="0.6"/><circle cx="467.18" cy="118" r="0.6"/><circle cx="459.42" cy="115.69" r="0.6"/><circle cx="465.53" cy="118.33" r="0.6"/><circle cx="465.04" cy="114.31" r="0.6"/><circle cx="461.12" cy="114.22" r="0.6"/><circle cx="461.91" cy="111.91" r="0.6"/><circle cx="462.42" cy="118.09" r="0.6"/><circle cx="460.77" cy="115.92" r="0.6"/><circle cx="459.59" cy="115.46" r="0.6"/><circle cx="465.31" cy="114.95" r="0.6"/><circle cx="463.1" cy="110.55" r="0.6"/><circle cx="464.1" cy="117.44" r="0.6"/><circle cx="459.49" cy="118.1" r="0.6"/><circle cx="461.27" cy="108.93" r="0.6"/><circle cx="461.67" cy="118.64" r="0.6"/><circle cx="463.7" cy="109.09" r="0.6"/><circle cx="467.52" cy="118.1" r="0.6"/><circle cx="465.05" cy="110.68" r="0.6"/><circle cx="462.69" cy="120.49" r="0.6"/><circle cx="467.8" cy="118.79" r="0.6"/><circle cx="468.53" cy="117.15" r="0.6"/><circle cx="460.36" cy="115.7" r="0.6"/><circle cx="462.14" cy="115.36" r="0.6"/><circle cx="461.03" cy="115.43" r="0.6"/><circle cx="464.72" cy="111.04" r="0.6"/><circle cx="466.2" cy="117.58" r="0.6"/><circle cx="460.81" cy="121.16" r="0.6"/><circle cx="461.43" cy="113.17" r="0.6"/><circle cx="463.57" cy="119.08" r="0.6"/><circle cx="461.76" cy="113.41" r="0.6"/><circle cx="465.84" cy="112.29" r="0.6"/><circle cx="464.51" cy="117.22" r="0.6"/><circle cx="461.43" cy="109.53" r="0.6"/><circle cx="467.22" cy="114.59" r="0.6"/><circle cx="466.28" cy="111.92" r="0.6"/><circle cx="465.84" cy="118.66" r="0.6"/><circle cx="461.23" cy="114.19" r="0.6"/><circle cx="466.32" cy="120.59" r="0.6"/><circle cx="460.47" cy="111.85" r="0.6"/><circle cx="467.47" cy="112.26" r="0.6"/><circle cx="463" cy="110.74" r="0.6"/><circle cx="462.73" cy="113.79" r="0.6"/><circle cx="459.13" cy="113.96" r="0.6"/><circle cx="462.04" cy="119.61" r="0.6"/><circle cx="465.49" cy="111.26" r="0.6"/><circle cx="464.92" cy="113.53" r="0.6"/><circle cx="466.8" cy="111.44" r="0.6"/><circle cx="461.63" cy="109.73" r="0.6"/><circle cx="464.79" cy="115.78" r="0.6"/><circle cx="461.16" cy="115.08" r="0.6"/><circle cx="461.24" cy="120.91" r="0.6"/><circle cx="462.73" cy="108.24" r="0.6"/><circle cx="460.02" cy="119.35" r="0.6"/><circle cx="459.6" cy="114.47" r="0.6"/><circle cx="465.68" cy="119.91" r="0.6"/><circle cx="466.3" cy="110.86" r="0.6"/><circle cx="463.52" cy="122.41" r="0.6"/><circle cx="461.98" cy="114.46" r="0.6"/><circle cx="465.76" cy="115.58" r="0.6"/><circle cx="463.01" cy="116.03" r="0.6"/><circle cx="460.64" cy="120.89" r="0.6"/><circle cx="464.61" cy="116.47" r="0.6"/><circle cx="468.34" cy="114.1" r="0.6"/><circle cx="463.44" cy="113.91" r="0.6"/><circle cx="462.57" cy="114.15" r="0.6"/><circle cx="462.31" cy="110.17" r="0.6"/><circle cx="463.2" cy="115" r="0.6"/><circle cx="462.63" cy="120.49" r="0.6"/><circle cx="467.57" cy="117.36" r="0.6"/><circle cx="463.68" cy="111.92" r="0.6"/><circle cx="465.22" cy="111.91" r="0.6"/><circle cx="464.21" cy="110.91" r="0.6"/><circle cx="463.38" cy="110.49" r="0.6"/><circle cx="459.97" cy="112.23" r="0.6"/><circle cx="464.35" cy="119.05" r="0.6"/><circle cx="462.31" cy="119.55" r="0.6"/><circle cx="463.26" cy="114.52" r="0.6"/><circle cx="464.91" cy="109.96" r="0.6"/><circle cx="465.88" cy="111.98" r="0.6"/><circle cx="467.66" cy="115.79" r="0.6"/><circle cx="462.82" cy="119.32" r="0.6"/><circle cx="467.3" cy="111.09" r="0.6"/><circle cx="459.42" cy="113.26" r="0.6"/><circle cx="464.97" cy="110.59" r="0.6"/><circle cx="462.4" cy="120.55" r="0.6"/><circle cx="468.22" cy="114.2" r="0.6"/><circle cx="466.69" cy="112.32" r="0.6"/><circle cx="464.26" cy="116.72" r="0.6"/><circle cx="465.56" cy="114.37" r="0.6"/><circle cx="461.77" cy="118.4" r="0.6"/><circle cx="465.45" cy="114.33" r="0.6"/><circle cx="467.19" cy="113.57" r="0.6"/><circle cx="465.64" cy="120.78" r="0.6"/><circle cx="461.92" cy="118.13" r="0.6"/><circle cx="464.32" cy="110.42" r="0.6"/><circle cx="463.92" cy="120.06" r="0.6"/><circle cx="462.58" cy="119.87" r="0.6"/><circle cx="464.38" cy="115.62" r="0.6"/><circle cx="461.9" cy="114.56" r="0.6"/><circle cx="460.69" cy="119.68" r="0.6"/><circle cx="464.83" cy="109.9" r="0.6"/><circle cx="466.54" cy="118.47" r="0.6"/><circle cx="463.33" cy="117.66" r="0.6"/><circle cx="459.64" cy="114.19" r="0.6"/><circle cx="460.82" cy="120.57" r="0.6"/><circle cx="460.89" cy="116.98" r="0.6"/><circle cx="463" cy="114.56" r="0.6"/><circle cx="465.72" cy="116.27" r="0.6"/><circle cx="466.13" cy="112.41" r="0.6"/><circle cx="463.87" cy="117.83" r="0.6"/><circle cx="459.5" cy="117.08" r="0.6"/><circle cx="464.84" cy="119.14" r="0.6"/><circle cx="461.28" cy="109.96" r="0.6"/><circle cx="463.33" cy="112.53" r="0.6"/><circle cx="462.38" cy="119.08" r="0.6"/><circle cx="461.75" cy="109.25" r="0.6"/><circle cx="462.45" cy="121.53" r="0.6"/><circle cx="462.92" cy="114.92" r="0.6"/><circle cx="466.87" cy="115.53" r="0.6"/><circle cx="466.86" cy="113.6" r="0.6"/><circle cx="463.26" cy="117.06" r="0.6"/><circle cx="462.48" cy="120.57" r="0.6"/><circle cx="465.08" cy="116.73" r="0.6"/><circle cx="460.02" cy="111.9" r="0.6"/><circle cx="460.48" cy="116.73" r="0.6"/><circle cx="458.9" cy="115.21" r="0.6"/><circle cx="461.9" cy="109.98" r="0.6"/><circle cx="465.4" cy="112.5" r="0.6"/><circle cx="461.13" cy="119.03" r="0.6"/><circle cx="461.93" cy="111.41" r="0.6"/><circle cx="462.4" cy="110.2" r="0.6"/><circle cx="467.57" cy="113.95" r="0.6"/><circle cx="467.34" cy="112.22" r="0.6"/><circle cx="462.57" cy="119.11" r="0.6"/><circle cx="459.62" cy="114.47" r="0.6"/><circle cx="463.01" cy="119.26" r="0.6"/><circle cx="464.77" cy="113.98" r="0.6"/><circle cx="461.08" cy="116.29" r="0.6"/><circle cx="462.87" cy="121.68" r="0.6"/><circle cx="465.75" cy="109.35" r="0.6"/><circle cx="462.26" cy="118.39" r="0.6"/><circle cx="460.45" cy="115.07" r="0.6"/><circle cx="461.32" cy="109.89" r="0.6"/><circle cx="463.99" cy="109.99" r="0.6"/><circle cx="461.4" cy="111.75" r="0.6"/><circle cx="466.31" cy="109.75" r="0.6"/><circle cx="464.65" cy="120.45" r="0.6"/><circle cx="465.31" cy="116.19" r="0.6"/><circle cx="463.2" cy="111.29" r="0.6"/><circle cx="464.28" cy="113.38" r="0.6"/><circle cx="459.43" cy="119.51" r="0.6"/><circle cx="459.26" cy="115.5" r="0.6"/><circle cx="462.75" cy="113.96" r="0.6"/><circle cx="461.11" cy="119.46" r="0.6"/><circle cx="467.32" cy="116.67" r="0.6"/><circle cx="460.37" cy="111.9" r="0.6"/><circle cx="463.86" cy="118.72" r="0.6"/><circle cx="459.51" cy="114.45" r="0.6"/><circle cx="467.4" cy="114.14" r="0.6"/><circle cx="465.11" cy="118.26" r="0.6"/><circle cx="464.7" cy="116.74" r="0.6"/><circle cx="468.33" cy="114.62" r="0.6"/><circle cx="466.71" cy="117.97" r="0.6"/><circle cx="467.22" cy="111.69" r="0.6"/><circle cx="462.17" cy="112.69" r="0.6"/><circle cx="466.91" cy="117.96" r="0.6"/><circle cx="464.11" cy="111.68" r="0.6"/><circle cx="460.58" cy="119.31" r="0.6"/><circle cx="461.9" cy="120.52" r="0.6"/><circle cx="462.18" cy="108.96" r="0.6"/><circle cx="459.4" cy="117.96" r="0.6"/><circle cx="461.74" cy="112.41" r="0.6"/><circle cx="460.93" cy="120.24" r="0.6"/><circle cx="465.58" cy="117.78" r="0.6"/><circle cx="460.37" cy="116.44" r="0.6"/><circle cx="459.98" cy="117.85" r="0.6"/><circle cx="465.59" cy="116.32" r="0.6"/><circle cx="464.65" cy="112.82" r="0.6"/><circle cx="459.63" cy="112.02" r="0.6"/><circle cx="465.74" cy="117.28" r="0.6"/><circle cx="463.12" cy="114.44" r="0.6"/><circle cx="460.15" cy="116.68" r="0.6"/><circle cx="465.48" cy="120.93" r="0.6"/><circle cx="465.14" cy="112.62" r="0.6"/><circle cx="462.89" cy="119.16" r="0.6"/><circle cx="460.27" cy="114.82" r="0.6"/><circle cx="461.96" cy="122.08" r="0.6"/><circle cx="466.21" cy="117" r="0.6"/><circle cx="463.16" cy="113.5" r="0.6"/><circle cx="462.31" cy="116.85" r="0.6"/><circle cx="462.47" cy="118.75" r="0.6"/><circle cx="466.63" cy="116.53" r="0.6"/><circle cx="462.39" cy="112.03" r="0.6"/><circle cx="463.48" cy="113.73" r="0.6"/><circle cx="460.15" cy="117.91" r="0.6"/><circle cx="461.08" cy="115.68" r="0.6"/><circle cx="466.9" cy="118.75" r="0.6"/><circle cx="466.61" cy="121.43" r="0.6"/><circle cx="462.53" cy="111.93" r="0.6"/><circle cx="462.63" cy="115.7" r="0.6"/><circle cx="467.53" cy="116.29" r="0.6"/><circle cx="463.04" cy="114.81" r="0.6"/><circle cx="464.32" cy="114.64" r="0.6"/><circle cx="465.92" cy="121.52" r="0.6"/><circle cx="465" cy="119.97" r="0.6"/><circle cx="460.41" cy="118.06" r="0.6"/><circle cx="462.83" cy="116.33" r="0.6"/><circle cx="463.24" cy="114.59" r="0.6"/><circle cx="460.79" cy="115.04" r="0.6"/><circle cx="464.03" cy="122.15" r="0.6"/><circle cx="462.82" cy="115.97" r="0.6"/><circle cx="462.32" cy="111.04" r="0.6"/><circle cx="466.1" cy="117.12" r="0.6"/><circle cx="464.06" cy="109.71" r="0.6"/><circle cx="467.46" cy="111.72" r="0.6"/><circle cx="465.42" cy="118.41" r="0.6"/><circle cx="461.49" cy="117.01" r="0.6"/><circle cx="464.21" cy="112.97" r="0.6"/><circle cx="460.53" cy="120.05" r="0.6"/><circle cx="466.04" cy="118.36" r="0.6"/><circle cx="466.38" cy="113" r="0.6"/><circle cx="466.22" cy="114.68" r="0.6"/><circle cx="460.2" cy="113.14" r="0.6"/><circle cx="460.3" cy="119.24" r="0.6"/><circle cx="459.24" cy="111.09" r="0.6"/><circle cx="463.21" cy="114.8" r="0.6"/><circle cx="461.03" cy="118.47" r="0.6"/><circle cx="464.24" cy="118.47" r="0.6"/><circle cx="461.67" cy="112.09" r="0.6"/></g>
<g fill="#111"><circle cx="485.64" cy="111.88" r="0.6"/><circle cx="487.97" cy="112.97" r="0.6"/><circle cx="486.83" cy="115.37" r="0.6"/><circle cx="483.57" cy="110.36" r="0.6"/><circle cx="483.84" cy="114.1" r="0.6"/><circle cx="486.2" cy="118.46" r="0.6"/><circle cx="482.83" cy="115.33" r="0.6"/><circle cx="488.55" cy="112.67" r="0.6"/><circle cx="487.47" cy="113.97" r="0.6"/><circle cx="492.23" cy="114.59" r="0.6"/><circle cx="492.27" cy="116.13" r="0.6"/><circle cx="490.42" cy="119.21" r="0.6"/><circle cx="483.41" cy="117.88" r="0.6"/><circle cx="483.7" cy="118.11" r="0.6"/><circle cx="484.81" cy="113.44" r="0.6"/><circle cx="492.02" cy="116.6" r="0.6"/><circle cx="481.81" cy="114.84" r="0.6"/><circle cx="492.29" cy="114.33" r="0.6"/><circle cx="487.84" cy="115.56" r="0.6"/><circle cx="483.75" cy="115.29" r="0.6"/><circle cx="488.14" cy="111.66" r="0.6"/><circle cx="485.69" cy="117.88" r="0.6"/><circle cx="489.72" cy="114.09" r="0.6"/><circle cx="488.22" cy="117.82" r="0.6"/><circle cx="491.34" cy="112.9" r="0.6"/><circle cx="489.45" cy="111.92" r="0.6"/><circle cx="488.23" cy="112.5" r="0.6"/><circle cx="483.82" cy="110.77" r="0.6"/><circle cx="489.82" cy="112.53" r="0.6"/><circle cx="488.59" cy="113.55" r="0.6"/><circle cx="491.8" cy="116.72" r="0.6"/><circle cx="482.75" cy="113.97" r="0.6"/><circle cx="482.24" cy="113.63" r="0.6"/><circle cx="489.71" cy="113.41" r="0.6"/><circle cx="484.38" cy="118.13" r="0.6"/><circle cx="488.46" cy="118.45" r="0.6"/><circle cx="487.72" cy="113.19" r="0.6"/><circle cx="483.06" cy="117.88" r="0.6"/><circle cx="487.08" cy="109.27" r="0.6"/><circle cx="486.79" cy="109.95" r="0.6"/><circle cx="489.37" cy="116.74" r="0.6"/><circle cx="488.4" cy="111.4" r="0.6"/><circle cx="489.56" cy="111.88" r="0.6"/><circle cx="482.5" cy="112.52" r="0.6"/><circle cx="484.07" cy="118.1" r="0.6"/><circle cx="484.21" cy="116.1" r="0.6"/><circle cx="492.1" cy="111.66" r="0.6"/><circle cx="489.03" cy="111.72" r="0.6"/><circle cx="484.16" cy="111.92" r="0.6"/><circle cx="491.73" cy="112.55" r="0.6"/><circle cx="485.81" cy="110.91" r="0.6"/><circle cx="487.83" cy="114.86" r="0.6"/><circle cx="489.63" cy="118.38" r="0.6"/><circle cx="490" cy="115.67" r="0.6"/><circle cx="489.31" cy="109.85" r="0.6"/><circle cx="481.93" cy="117.8" r="0.6"/><circle cx="490.19" cy="113.2" r="0.6"/><circle cx="482.41" cy="116.99" r="0.6"/><circle cx="484.01" cy="117.41" r="0.6"/><circle cx="487.53" cy="110.97" r="0.6"/><circle cx="488.79" cy="119.27" r="0.6"/><circle cx="490.56" cy="114.37" r="0.6"/><circle cx="485.27" cy="121.2" r="0.6"/><circle cx="490.43" cy="111.15" r="0.6"/><circle cx="490.06" cy="117.61" r="0.6"/><circle cx="490.04" cy="118.14" r="0.6"/><circle cx="487.26" cy="118.07" r="0.6"/><circle cx="484.94" cy="118.52" r="0.6"/><circle cx="485.48" cy="115.51" r="0.6"/><circle cx="490.35" cy="113.85" r="0.6"/><circle cx="489.39" cy="117.44" r="0.6"/><circle cx="491.18" cy="113.68" r="0.6"/><circle cx="492.2" cy="112.35" r="0.6"/><circle cx="484.46" cy="110.43" r="0.6"/><circle cx="487.05" cy="111.32" r="0.6"/><circle cx="491.75" cy="117.74" r="0.6"/><circle cx="487.44" cy="115.27" r="0.6"/><circle cx="490.93" cy="110.33" r="0.6"/><circle cx="483.81" cy="112.11" r="0.6"/><circle cx="487.34" cy="119.3" r="0.6"/><circle cx="484.92" cy="110.68" r="0.6"/><circle cx="492.46" cy="114.19" r="0.6"/><circle cx="489.49" cy="118.61" r="0.6"/><circle cx="483.11" cy="115.04" r="0.6"/><circle cx="483.8" cy="112.32" r="0.6"/><circle cx="483.74" cy="109.6" r="0.6"/><circle cx="488.18" cy="118.02" r="0.6"/><circle cx="491.54" cy="116.04" r="0.6"/><circle cx="486.85" cy="117.71" r="0.6"/><circle cx="485.73" cy="114.27" r="0.6"/><circle cx="485.16" cy="113.87" r="0.6"/><circle cx="485.57" cy="114.06" r="0.6"/><circle cx="484.65" cy="114.66" r="0.6"/><circle cx="483.94" cy="111.26" r="0.6"/><circle cx="486.9" cy="114.51" r="0.6"/><circle cx="491.76" cy="119.42" r="0.6"/><circle cx="487.44" cy="111.16" r="0.6"/><circle cx="489.92" cy="113.87" r="0.6"/><circle cx="488.02" cy="110.06" r="0.6"/><circle cx="484.29" cy="119.53" r="0.6"/><circle cx="483.69" cy="112.91" r="0.6"/><circle cx="486.8" cy="119.2" r="0.6"/><circle cx="485.66" cy="119.84" r="0.6"/><circle cx="487.76" cy="110.84" r="0.6"/><circle cx="488.96" cy="113.16" r="0.6"/><circle cx="487.59" cy="111.8" r="0.6"/><circle cx="491.66" cy="115.74" r="0.6"/><circle cx="484.83" cy="118.44" r="0.6"/><circle cx="486.62" cy="119.83" r="0.6"/><circle cx="482.74" cy="112.07" r="0.6"/><circle cx="489.59" cy="113.88" r="0.6"/><circle cx="489.24" cy="120" r="0.6"/><circle cx="487.14" cy="117.24" r="0.6"/><circle cx="484.97" cy="117.31" r="0.6"/><circle cx="483.45" cy="111.87" r="0.6"/><circle cx="487.51" cy="108.71" r="0.6"/><circle cx="482.5" cy="113.07" r="0.6"/><circle cx="487.72" cy="113.34" r="0.6"/><circle cx="484.89" cy="112.3" r="0.6"/><circle cx="489.25" cy="119.09" r="0.6"/><circle cx="484.71" cy="114.63" r="0.6"/><circle cx="487.19" cy="111.86" r="0.6"/><circle cx="485.74" cy="109.68" r="0.6"/><circle cx="489.2" cy="112.99" r="0.6"/><circle cx="483.11" cy="110.16" r="0.6"/><circle cx="488.69" cy="117.36" r="0.6"/><circle cx="481.8" cy="116.44" r="0.6"/><circle cx="486.43" cy="120.11" r="0.6"/><circle cx="488.3" cy="116.67" r="0.6"/><circle cx="482.9" cy="111.91" r="0.6"/><circle cx="488.2" cy="117.14" r="0.6"/><circle cx="483.17" cy="115.81" r="0.6"/><circle cx="484.74" cy="118.68" r="0.6"/><circle cx="489.01" cy="118.41" r="0.6"/><circle cx="489.15" cy="113.06" r="0.6"/><circle cx="485.57" cy="111.07" r="0.6"/><circle cx="487.81" cy="113.6" r="0.6"/><circle cx="485.97" cy="118.99" r="0.6"/><circle cx="490.3" cy="114.67" r="0.6"/><circle cx="483.66" cy="112.7" r="0.6"/><circle cx="484.91" cy="113.79" r="0.6"/><circle cx="489.77" cy="117.28" r="0.6"/><circle cx="485.14" cy="110.09" r="0.6"/><circle cx="486.24" cy="113.89" r="0.6"/><circle cx="486.47" cy="118.83" r="0.6"/><circle cx="487.65" cy="117.39" r="0.6"/><circle cx="489.88" cy="113.16" r="0.6"/><circle cx="487.62" cy="114.36" r="0.6"/><circle cx="490.83" cy="112.85" r="0.6"/><circle cx="490.07" cy="115.02" r="0.6"/><circle cx="487.08" cy="116.16" r="0.6"/><circle cx="489.37" cy="115.79" r="0.6"/><circle cx="489.46" cy="110.77" r="0.6"/><circle cx="483.94" cy="114.73" r="0.6"/><circle cx="485.78" cy="115.91" r="0.6"/><circle cx="490.07" cy="117.72" r="0.6"/><circle cx="486.32" cy="119.08" r="0.6"/><circle cx="488.4" cy="113.99" r="0.6"/><circle cx="488.54" cy="120.2" r="0.6"/><circle cx="489.74" cy="114.55" r="0.6"/><circle cx="485.53" cy="116.91" r="0.6"/><circle cx="482.19" cy="116.05" r="0.6"/><circle cx="487.36" cy="109.57" r="0.6"/><circle cx="487.57" cy="114.9" r="0.6"/><circle cx="486.19" cy="120.1" r="0.6"/><circle cx="483.27" cy="113.51" r="0.6"/><circle cx="484.18" cy="109.77" r="0.6"/><circle cx="488.77" cy="115.35" r="0.6"/><circle cx="489.68" cy="116.51" r="0.6"/><circle cx="487.28" cy="112.6" r="0.6"/><circle cx="489.12" cy="110.53" r="0.6"/><circle cx="490.84" cy="118.53" r="0.6"/><circle cx="484.81" cy="117.59" r="0.6"/><circle cx="486.18" cy="116.64" r="0.6"/><circle cx="485.12" cy="119.93" r="0.6"/><circle cx="488.74" cy="118.85" r="0.6"/><circle cx="487.54" cy="120.22" r="0.6"/><circle cx="491.75" cy="112.03" r="0.6"/><circle cx="488.99" cy="119.51" r="0.6"/><circle cx="484.92" cy="118.62" r="0.6"/><circle cx="491.73" cy="112.59" r="0.6"/><circle cx="484.05" cy="117.09" r="0.6"/><circle cx="489.5" cy="113.33" r="0.6"/><circle cx="487.81" cy="118.04" r="0.6"/><circle cx="486.12" cy="112.17" r="0.6"/><circle cx="490.03" cy="116.41" r="0.6"/><circle cx="488.13" cy="119.82" r="0.6"/><circle cx="481.53" cy="115.2" r="0.6"/><circle cx="492.12" cy="114.68" r="0.6"/><circle cx="488.4" cy="114.09" r="0.6"/><circle cx="489.53" cy="111.61" r="0.6"/><circle cx="489.96" cy="116.1" r="0.6"/><circle cx="485.18" cy="111.17" r="0.6"/><circle cx="489.44" cy="110.96" r="0.6"/><circle cx="485.33" cy="115.05" r="0.6"/><circle cx="489.5" cy="112.59" r="0.6"/><circle cx="481.58" cy="116.68" r="0.6"/><circle cx="482.46" cy="117.29" r="0.6"/><circle cx="482.98" cy="115.61" r="0.6"/><circle cx="486.43" cy="116.68" r="0.6"/><circle cx="482.59" cy="114.16" r="0.6"/><circle cx="492.57" cy="115.86" r="0.6"/><circle cx="488.63" cy="118.38" r="0.6"/><circle cx="491.53" cy="113.36" r="0.6"/><circle cx="483.98" cy="113.12" r="0.6"/><circle cx="484.94" cy="113.93" r="0.6"/><circle cx="492.2" cy="116.84" r="0.6"/><circle cx="482.52" cy="114.22" r="0.6"/><circle cx="488.97" cy="111.1" r="0.6"/><circle cx="491.89" cy="112.85" r="0.6"/><circle cx="484.85" cy="118.1" r="0.6"/><circle cx="484.99" cy="119.26" r="0.6"/><circle cx="484.97" cy="115.92" r="0.6"/><circle cx="489.79" cy="113.57" r="0.6"/><circle cx="487.43" cy="119.95" r="0.6"/><circle cx="489.9" cy="117.29" r="0.6"/><circle cx="490.59" cy="116.56" r="0.6"/><circle cx="484.42" cy="119.68" r="0.6"/><circle cx="486.61" cy="113.75" r="0.6"/><circle cx="492.22" cy="118.5" r="0.6"/><circle cx="483.08" cy="116.65" r="0.6"/><circle cx="490.67" cy="110.6" r="0.6"/><circle cx="490.66" cy="118.62" r="0.6"/><circle cx="492.73" cy="113.04" r="0.6"/><circle cx="488.24" cy="119.32" r="0.6"/><circle cx="489.78" cy="112.19" r="0.6"/><circle cx="487" cy="110.65" r="0.6"/><circle cx="489.48" cy="114.68" r="0.6"/><circle cx="485.87" cy="116.69" r="0.6"/><circle cx="484.94" cy="118.22" r="0.6"/><circle cx="486.31" cy="115.77" r="0.6"/><circle cx="485.78" cy="110.85" r="0.6"/><circle cx="489.98" cy="116.99" r="0.6"/><circle cx="490.92" cy="116.9" r="0.6"/><circle cx="486.56" cy="113.07" r="0.6"/><circle cx="488.83" cy="120.18" r="0.6"/><circle cx="487.05" cy="110.46" r="0.6"/><circle cx="486.31" cy="119.24" r="0.6"/><circle cx="488.1" cy="118.17" r="0.6"/><circle cx="484.08" cy="116.78" r="0.6"/><circle cx="487.06" cy="109.76" r="0.6"/><circle cx="484.21" cy="112.44" r="0.6"/><circle cx="486.51" cy="113.01" r="0.6"/><circle cx="490.21" cy="114.83" r="0.6"/><circle cx="491.93" cy="115.3" r="0.6"/><circle cx="487.49" cy="115.89" r="0.6"/><circle cx="488" cy="116.38" r="0.6"/><circle cx="486.72" cy="110.08" r="0.6"/><circle cx="482.58" cy="118.38" r="0.6"/><circle cx="484.16" cy="118.15" r="0.6"/><circle cx="485.77" cy="120.52" r="0.6"/><circle cx="488.94" cy="112.02" r="0.6"/><circle cx="490.77" cy="111.61" r="0.6"/><circle cx="487.77" cy="116.31" r="0.6"/><circle cx="489.71" cy="111.53" r="0.6"/><circle cx="484.64" cy="111.09" r="0.6"/><circle cx="491.82" cy="116.86" r="0.6"/><circle cx="488.4" cy="115.28" r="0.6"/><circle cx="488.65" cy="116.47" r="0.6"/><circle cx="483.77" cy="115.83" r="0.6"/><circle cx="491.64" cy="114" r="0.6"/><circle cx="490.05" cy="114.64" r="0.6"/><circle cx="489.6" cy="111.44" r="0.6"/><circle cx="484.25" cy="118.88" r="0.6"/><circle cx="486.81" cy="113.29" r="0.6"/><circle cx="490.25" cy="111.7" r="0.6"/><circle cx="492.06" cy="114.39" r="0.6"/><circle cx="486.73" cy="115.49" r="0.6"/><circle cx="487.23" cy="110.48" r="0.6"/><circle cx="484.95" cy="114.81" r="0.6"/><circle cx="487.73" cy="120.72" r="0.6"/><circle cx="484.22" cy="117.7" r="0.6"/><circle cx="483.43" cy="113.7" r="0.6"/><circle cx="491.27" cy="113.62" r="0.6"/><circle cx="488.97" cy="115.58" r="0.6"/><circle cx="488.29" cy="116.17" r="0.6"/><circle cx="485.49" cy="117.62" r="0.6"/><circle cx="485.95" cy="112.12" r="0.6"/><circle cx="484.81" cy="114.72" r="0.6"/><circle cx="484.34" cy="118.51" r="0.6"/><circle cx="490.42" cy="117.08" r="0.6"/><circle cx="491.78" cy="112.75" r="0.6"/><circle cx="491.56" cy="114.93" r="0.6"/><circle cx="487.63" cy="110.64" r="0.6"/><circle cx="488.32" cy="119.5" r="0.6"/><circle cx="486.7" cy="111.55" r="0.6"/><circle cx="488.91" cy="114.37" r="0.6"/><circle cx="493.24" cy="116.29" r="0.6"/><circle cx="483.75" cy="112.39" r="0.6"/><circle cx="487.81" cy="114.5" r="0.6"/><circle cx="489.27" cy="116.21" r="0.6"/><circle cx="485.86" cy="115.15" r="0.6"/><circle cx="487.64" cy="119.88" r="0.6"/><circle cx="481.81" cy="114.31" r="0.6"/><circle cx="483.68" cy="112.38" r="0.6"/><circle cx="488.41" cy="109.76" r="0.6"/><circle cx="492.22" cy="111.5" r="0.6"/><circle cx="482.82" cy="113.55" r="0.6"/><circle cx="487.87" cy="115.73" r="0.6"/><circle cx="486.91" cy="112.26" r="0.6"/></g>
<g fill="#222"><circle cx="465.2" cy="93.4" r="0.5"/><circle cx="464.4" cy="96.2" r="0.5"/><circle cx="463.4" cy="101.3" r="0.5"/><circle cx="480.7" cy="88.7" r="0.5"/><circle cx="486.1" cy="95.6" r="0.5"/><circle cx="466" cy="106" r="0.5"/><circle cx="470" cy="111" r="0.5"/><circle cx="475" cy="117" r="0.5"/><circle cx="494" cy="121" r="0.5"/><circle cx="469" cy="118" r="0.5"/></g>
<text x="462" y="135.2" font-size="7.6" text-anchor="middle">0</text>
<text x="473.3" y="135.2" font-size="7.6" text-anchor="middle">10<tspan dy="-3.2" font-size="5.3">3</tspan></text>
<text x="488.6" y="135.2" font-size="7.6" text-anchor="middle">10<tspan dy="-3.2" font-size="5.3">4</tspan></text>
<text x="503.2" y="135.2" font-size="7.6" text-anchor="middle">10<tspan dy="-3.2" font-size="5.3">5</tspan></text>
<text x="483.6" y="144.8" font-size="8" text-anchor="middle">CD3ε</text>
<text x="7.5" y="166.2" font-size="10.8" font-weight="bold">D</text>
<text x="23.6" y="166.7" font-size="9.5">Blood</text>
<rect x="44.2" y="197.6" width="7.4" height="54.9" fill="#df8796" stroke="#d97a8c" stroke-width="0.5"/>
<rect x="56.7" y="219.2" width="7.4" height="33.3" fill="#7fa6c9" stroke="#6f9ac2" stroke-width="0.5"/>
<rect x="77" y="196.7" width="7.5" height="55.8" fill="#df8796" stroke="#d97a8c" stroke-width="0.5"/>
<rect x="90" y="214" width="7.3" height="38.5" fill="#7fa6c9" stroke="#6f9ac2" stroke-width="0.5"/>
<rect x="110.9" y="196" width="7.3" height="56.5" fill="#df8796" stroke="#d97a8c" stroke-width="0.5"/>
<rect x="123.1" y="218" width="7.3" height="34.5" fill="#7fa6c9" stroke="#6f9ac2" stroke-width="0.5"/>
<rect x="143.9" y="197.2" width="7" height="55.3" fill="#df8796" stroke="#d97a8c" stroke-width="0.5"/>
<rect x="156.3" y="217.1" width="7.3" height="35.4" fill="#7fa6c9" stroke="#6f9ac2" stroke-width="0.5"/>
<rect x="177.1" y="197.2" width="7" height="55.3" fill="#df8796" stroke="#d97a8c" stroke-width="0.5"/>
<rect x="189.7" y="207.1" width="6.9" height="45.4" fill="#7fa6c9" stroke="#6f9ac2" stroke-width="0.5"/>
<line x1="61.2" y1="172.5" x2="193.2" y2="172.5" stroke="#4d4d4f" stroke-width="1.15"/>
<path d="M121.5 168.15L121.5 170.85M120.33 168.82L122.67 170.18M120.33 170.18L122.67 168.82" stroke="#231f20" stroke-width="0.8" fill="none"/>
<line x1="81" y1="180.5" x2="93.7" y2="180.5" stroke="#4d4d4f" stroke-width="1.15"/>
<path d="M83.9 176.15L83.9 178.85M82.73 176.82L85.07 178.18M82.73 178.18L85.07 176.82" stroke="#231f20" stroke-width="0.8" fill="none"/>
<path d="M87.3 176.15L87.3 178.85M86.13 176.82L88.47 178.18M86.13 178.18L88.47 176.82" stroke="#231f20" stroke-width="0.8" fill="none"/>
<path d="M90.7 176.15L90.7 178.85M89.53 176.82L91.87 178.18M89.53 178.18L91.87 176.82" stroke="#231f20" stroke-width="0.8" fill="none"/>
<line x1="46.8" y1="183.2" x2="59.7" y2="183.2" stroke="#4d4d4f" stroke-width="1.15"/>
<path d="M49.9 178.85L49.9 181.55M48.73 179.52L51.07 180.88M48.73 180.88L51.07 179.52" stroke="#231f20" stroke-width="0.8" fill="none"/>
<path d="M53.3 178.85L53.3 181.55M52.13 179.52L54.47 180.88M52.13 180.88L54.47 179.52" stroke="#231f20" stroke-width="0.8" fill="none"/>
<path d="M56.7 178.85L56.7 181.55M55.53 179.52L57.87 180.88M55.53 180.88L57.87 179.52" stroke="#231f20" stroke-width="0.8" fill="none"/>
<line x1="114.3" y1="185.2" x2="126.8" y2="185.2" stroke="#4d4d4f" stroke-width="1.15"/>
<path d="M117.1 180.75L117.1 183.45M115.93 181.42L118.27 182.78M115.93 182.78L118.27 181.42" stroke="#231f20" stroke-width="0.8" fill="none"/>
<path d="M120.5 180.75L120.5 183.45M119.33 181.42L121.67 182.78M119.33 182.78L121.67 181.42" stroke="#231f20" stroke-width="0.8" fill="none"/>
<path d="M123.9 180.75L123.9 183.45M122.73 181.42L125.07 182.78M122.73 182.78L125.07 181.42" stroke="#231f20" stroke-width="0.8" fill="none"/>
<line x1="147.3" y1="180.8" x2="160.1" y2="180.8" stroke="#4d4d4f" stroke-width="1.15"/>
<path d="M150.3 176.45L150.3 179.15M149.13 177.12L151.47 178.48M149.13 178.48L151.47 177.12" stroke="#231f20" stroke-width="0.8" fill="none"/>
<path d="M153.7 176.45L153.7 179.15M152.53 177.12L154.87 178.48M152.53 178.48L154.87 177.12" stroke="#231f20" stroke-width="0.8" fill="none"/>
<path d="M157.1 176.45L157.1 179.15M155.93 177.12L158.27 178.48M155.93 178.48L158.27 177.12" stroke="#231f20" stroke-width="0.8" fill="none"/>
<line x1="180.5" y1="184.2" x2="193.5" y2="184.2" stroke="#4d4d4f" stroke-width="1.15"/>
<path d="M185.3 179.65L185.3 182.35M184.13 180.32L186.47 181.68M184.13 181.68L186.47 180.32" stroke="#231f20" stroke-width="0.8" fill="none"/>
<path d="M188.7 179.65L188.7 182.35M187.53 180.32L189.87 181.68M187.53 181.68L189.87 180.32" stroke="#231f20" stroke-width="0.8" fill="none"/>
<line x1="39.7" y1="181.3" x2="39.7" y2="252.5" stroke="#231f20" stroke-width="1.1"/>
<line x1="36.2" y1="181.3" x2="39.7" y2="181.3" stroke="#231f20" stroke-width="1"/>
<text x="34.2" y="184.22" font-size="8.1" text-anchor="end">10<tspan dy="-3.4" font-size="5.5">2</tspan></text>
<line x1="36.2" y1="196" x2="39.7" y2="196" stroke="#231f20" stroke-width="1"/>
<text x="34.2" y="198.92" font-size="8.1" text-anchor="end">10<tspan dy="-3.4" font-size="5.5">1</tspan></text>
<line x1="36.2" y1="210.2" x2="39.7" y2="210.2" stroke="#231f20" stroke-width="1"/>
<text x="34.2" y="213.12" font-size="8.1" text-anchor="end">10<tspan dy="-3.4" font-size="5.5">0</tspan></text>
<line x1="36.2" y1="224.3" x2="39.7" y2="224.3" stroke="#231f20" stroke-width="1"/>
<text x="34.2" y="227.22" font-size="8.1" text-anchor="end">10<tspan dy="-3.4" font-size="5.5">−1</tspan></text>
<line x1="36.2" y1="238.2" x2="39.7" y2="238.2" stroke="#231f20" stroke-width="1"/>
<text x="34.2" y="241.12" font-size="8.1" text-anchor="end">10<tspan dy="-3.4" font-size="5.5">−2</tspan></text>
<line x1="36.2" y1="252.5" x2="39.7" y2="252.5" stroke="#231f20" stroke-width="1"/>
<text x="34.2" y="255.42" font-size="8.1" text-anchor="end">10<tspan dy="-3.4" font-size="5.5">−3</tspan></text>
<text font-size="8.9" text-anchor="middle" transform="translate(13.6 217.8) rotate(-90) scale(0.797 1)">Percentage</text>
<circle cx="48" cy="186.2" r="1.25" fill="#c8102e"/>
<circle cx="44.7" cy="188.5" r="1.25" fill="#c8102e"/>
<circle cx="50.7" cy="189.7" r="1.25" fill="#c8102e"/>
<circle cx="51" cy="193" r="1.25" fill="#c8102e"/>
<circle cx="46" cy="195.2" r="1.25" fill="#c8102e"/>
<circle cx="45" cy="199.7" r="1.25" fill="#c8102e"/>
<circle cx="51" cy="199.7" r="1.25" fill="#c8102e"/>
<circle cx="47.2" cy="206.2" r="1.25" fill="#c8102e"/>
<circle cx="49.5" cy="204.2" r="1.25" fill="#c8102e"/>
<circle cx="60" cy="210.5" r="1.25" fill="#0b4a8b"/>
<circle cx="57.4" cy="214.2" r="1.25" fill="#0b4a8b"/>
<circle cx="59.2" cy="215" r="1.25" fill="#0b4a8b"/>
<circle cx="61.5" cy="213" r="1.25" fill="#0b4a8b"/>
<circle cx="62.5" cy="216.5" r="1.25" fill="#0b4a8b"/>
<circle cx="58.5" cy="218.5" r="1.25" fill="#0b4a8b"/>
<circle cx="61" cy="220" r="1.25" fill="#0b4a8b"/>
<circle cx="60" cy="245" r="1.25" fill="#0b4a8b"/>
<circle cx="80.7" cy="184" r="1.25" fill="#c8102e"/>
<circle cx="79.5" cy="192.2" r="1.25" fill="#c8102e"/>
<circle cx="82.2" cy="191.5" r="1.25" fill="#c8102e"/>
<circle cx="78" cy="196.7" r="1.25" fill="#c8102e"/>
<circle cx="83.2" cy="197.5" r="1.25" fill="#c8102e"/>
<circle cx="81.7" cy="200.2" r="1.25" fill="#c8102e"/>
<circle cx="80.7" cy="206.2" r="1.25" fill="#c8102e"/>
<circle cx="90.7" cy="210.2" r="1.25" fill="#0b4a8b"/>
<circle cx="93.7" cy="211" r="1.25" fill="#0b4a8b"/>
<circle cx="96.7" cy="210.7" r="1.25" fill="#0b4a8b"/>
<circle cx="93.7" cy="216.2" r="1.25" fill="#0b4a8b"/>
<circle cx="93.7" cy="227.7" r="1.25" fill="#0b4a8b"/>
<circle cx="93.7" cy="232.8" r="1.25" fill="#0b4a8b"/>
<circle cx="112.8" cy="189.2" r="1.25" fill="#c8102e"/>
<circle cx="111.7" cy="192.7" r="1.25" fill="#c8102e"/>
<circle cx="115.8" cy="191.2" r="1.25" fill="#c8102e"/>
<circle cx="117.4" cy="193.7" r="1.25" fill="#c8102e"/>
<circle cx="111" cy="194.8" r="1.25" fill="#c8102e"/>
<circle cx="117" cy="196.7" r="1.25" fill="#c8102e"/>
<circle cx="114.3" cy="195" r="1.25" fill="#c8102e"/>
<circle cx="126.6" cy="192" r="1.25" fill="#0b4a8b"/>
<circle cx="129" cy="210.2" r="1.25" fill="#0b4a8b"/>
<circle cx="127.8" cy="211.6" r="1.25" fill="#0b4a8b"/>
<circle cx="124.3" cy="216.7" r="1.25" fill="#0b4a8b"/>
<circle cx="129.5" cy="216.2" r="1.25" fill="#0b4a8b"/>
<circle cx="126.6" cy="218.8" r="1.25" fill="#0b4a8b"/>
<circle cx="124.3" cy="221.4" r="1.25" fill="#0b4a8b"/>
<circle cx="147.3" cy="184.7" r="1.25" fill="#c8102e"/>
<circle cx="144.7" cy="193.7" r="1.25" fill="#c8102e"/>
<circle cx="150.3" cy="196" r="1.25" fill="#c8102e"/>
<circle cx="148.5" cy="200.1" r="1.25" fill="#c8102e"/>
<circle cx="148.5" cy="202.9" r="1.25" fill="#c8102e"/>
<circle cx="147.3" cy="222.1" r="1.25" fill="#c8102e"/>
<circle cx="145" cy="197" r="1.25" fill="#c8102e"/>
<circle cx="159.8" cy="204.6" r="1.25" fill="#0b4a8b"/>
<circle cx="156.9" cy="215.4" r="1.25" fill="#0b4a8b"/>
<circle cx="159.8" cy="218" r="1.25" fill="#0b4a8b"/>
<circle cx="162.4" cy="220.6" r="1.25" fill="#0b4a8b"/>
<circle cx="157.7" cy="219.7" r="1.25" fill="#0b4a8b"/>
<circle cx="161.5" cy="226.6" r="1.25" fill="#0b4a8b"/>
<circle cx="158.4" cy="228.7" r="1.25" fill="#0b4a8b"/>
<circle cx="160.1" cy="215.2" r="1.25" fill="#0b4a8b"/>
<circle cx="179.7" cy="188.5" r="1.25" fill="#c8102e"/>
<circle cx="181.9" cy="187.3" r="1.25" fill="#c8102e"/>
<circle cx="178" cy="195.5" r="1.25" fill="#c8102e"/>
<circle cx="183.7" cy="195.5" r="1.25" fill="#c8102e"/>
<circle cx="180.6" cy="197.2" r="1.25" fill="#c8102e"/>
<circle cx="180.2" cy="205.3" r="1.25" fill="#c8102e"/>
<circle cx="189.7" cy="196.3" r="1.25" fill="#0b4a8b"/>
<circle cx="193.2" cy="193.4" r="1.25" fill="#0b4a8b"/>
<circle cx="196.1" cy="198.9" r="1.25" fill="#0b4a8b"/>
<circle cx="193.2" cy="201.5" r="1.25" fill="#0b4a8b"/>
<circle cx="193.2" cy="211.9" r="1.25" fill="#0b4a8b"/>
<circle cx="193.2" cy="217" r="1.25" fill="#0b4a8b"/>
<circle cx="190" cy="228.3" r="1.25" fill="#0b4a8b"/>
<circle cx="196.1" cy="228.3" r="1.25" fill="#0b4a8b"/>
<line x1="39.15" y1="252.5" x2="201.7" y2="252.5" stroke="#231f20" stroke-width="1.1"/>
<line x1="54" y1="252.5" x2="54" y2="256" stroke="#231f20" stroke-width="1"/>
<line x1="87.3" y1="252.5" x2="87.3" y2="256" stroke="#231f20" stroke-width="1"/>
<line x1="120.7" y1="252.5" x2="120.7" y2="256" stroke="#231f20" stroke-width="1"/>
<line x1="154" y1="252.5" x2="154" y2="256" stroke="#231f20" stroke-width="1"/>
<line x1="187.3" y1="252.5" x2="187.3" y2="256" stroke="#231f20" stroke-width="1"/>
<text x="58.3" y="262.1" font-size="7.9" text-anchor="end" transform="rotate(-45 58.3 262.1)">cIgG</text>
<text x="91.6" y="262.1" font-size="7.9" text-anchor="end" transform="rotate(-45 91.6 262.1)">α-CD8</text>
<text x="125" y="262.1" font-size="7.9" text-anchor="end" transform="rotate(-45 125 262.1)">α-γδTCR</text>
<text x="158.3" y="262.1" font-size="7.9" text-anchor="end" transform="rotate(-45 158.3 262.1)">α-CD1d</text>
<text x="191.6" y="262.1" font-size="7.9" text-anchor="end" transform="rotate(-45 191.6 262.1)">α-NKG2D</text>
<rect x="243.2" y="205.2" width="6.6" height="46.2" fill="#df8796" stroke="#d97a8c" stroke-width="0.5"/>
<rect x="255.5" y="224" width="7" height="27.4" fill="#7fa6c9" stroke="#6f9ac2" stroke-width="0.5"/>
<rect x="276" y="205" width="7" height="46.4" fill="#df8796" stroke="#d97a8c" stroke-width="0.5"/>
<rect x="288.2" y="220" width="7.6" height="31.4" fill="#7fa6c9" stroke="#6f9ac2" stroke-width="0.5"/>
<rect x="309.5" y="204.2" width="7" height="47.2" fill="#df8796" stroke="#d97a8c" stroke-width="0.5"/>
<rect x="321.7" y="222" width="7.1" height="29.4" fill="#7fa6c9" stroke="#6f9ac2" stroke-width="0.5"/>
<rect x="342.5" y="203.3" width="6.9" height="48.1" fill="#df8796" stroke="#d97a8c" stroke-width="0.5"/>
<rect x="355" y="222.5" width="6.9" height="28.9" fill="#7fa6c9" stroke="#6f9ac2" stroke-width="0.5"/>
<rect x="375.8" y="204.2" width="6.7" height="47.2" fill="#df8796" stroke="#d97a8c" stroke-width="0.5"/>
<rect x="388.3" y="213" width="6.7" height="38.4" fill="#7fa6c9" stroke="#6f9ac2" stroke-width="0.5"/>
<line x1="259.7" y1="179" x2="391.5" y2="179" stroke="#4d4d4f" stroke-width="1.15"/>
<text x="323.5" y="175.9" font-size="7.56" text-anchor="middle"><tspan font-style="italic">p</tspan>=0.10</text>
<line x1="245.7" y1="194.2" x2="258.5" y2="194.2" stroke="#4d4d4f" stroke-width="1.15"/>
<path d="M248.5 189.95L248.5 192.65M247.33 190.62L249.67 191.98M247.33 191.98L249.67 190.62" stroke="#231f20" stroke-width="0.8" fill="none"/>
<path d="M251.9 189.95L251.9 192.65M250.73 190.62L253.07 191.98M250.73 191.98L253.07 190.62" stroke="#231f20" stroke-width="0.8" fill="none"/>
<path d="M255.3 189.95L255.3 192.65M254.13 190.62L256.47 191.98M254.13 191.98L256.47 190.62" stroke="#231f20" stroke-width="0.8" fill="none"/>
<line x1="280.2" y1="187.3" x2="292.7" y2="187.3" stroke="#4d4d4f" stroke-width="1.15"/>
<path d="M282.9 183.05L282.9 185.75M281.73 183.72L284.07 185.08M281.73 185.08L284.07 183.72" stroke="#231f20" stroke-width="0.8" fill="none"/>
<path d="M286.3 183.05L286.3 185.75M285.13 183.72L287.47 185.08M285.13 185.08L287.47 183.72" stroke="#231f20" stroke-width="0.8" fill="none"/>
<path d="M289.7 183.05L289.7 185.75M288.53 183.72L290.87 185.08M288.53 185.08L290.87 183.72" stroke="#231f20" stroke-width="0.8" fill="none"/>
<line x1="312.8" y1="191.5" x2="325.5" y2="191.5" stroke="#4d4d4f" stroke-width="1.15"/>
<path d="M315.6 187.15L315.6 189.85M314.43 187.82L316.77 189.18M314.43 189.18L316.77 187.82" stroke="#231f20" stroke-width="0.8" fill="none"/>
<path d="M319 187.15L319 189.85M317.83 187.82L320.17 189.18M317.83 189.18L320.17 187.82" stroke="#231f20" stroke-width="0.8" fill="none"/>
<path d="M322.4 187.15L322.4 189.85M321.23 187.82L323.57 189.18M321.23 189.18L323.57 187.82" stroke="#231f20" stroke-width="0.8" fill="none"/>
<line x1="346.3" y1="193.3" x2="358.8" y2="193.3" stroke="#4d4d4f" stroke-width="1.15"/>
<path d="M349 188.95L349 191.65M347.83 189.62L350.17 190.98M347.83 190.98L350.17 189.62" stroke="#231f20" stroke-width="0.8" fill="none"/>
<path d="M352.4 188.95L352.4 191.65M351.23 189.62L353.57 190.98M351.23 190.98L353.57 189.62" stroke="#231f20" stroke-width="0.8" fill="none"/>
<path d="M355.8 188.95L355.8 191.65M354.63 189.62L356.97 190.98M354.63 190.98L356.97 189.62" stroke="#231f20" stroke-width="0.8" fill="none"/>
<line x1="379.5" y1="187" x2="392" y2="187" stroke="#4d4d4f" stroke-width="1.15"/>
<path d="M383.8 182.65L383.8 185.35M382.63 183.32L384.97 184.68M382.63 184.68L384.97 183.32" stroke="#231f20" stroke-width="0.8" fill="none"/>
<path d="M387.2 182.65L387.2 185.35M386.03 183.32L388.37 184.68M386.03 184.68L388.37 183.32" stroke="#231f20" stroke-width="0.8" fill="none"/>
<line x1="238.2" y1="180.4" x2="238.2" y2="251.4" stroke="#231f20" stroke-width="1.1"/>
<line x1="234.7" y1="180.4" x2="238.2" y2="180.4" stroke="#231f20" stroke-width="1"/>
<text x="233.3" y="183.32" font-size="8.1" text-anchor="end">10<tspan dy="-3.4" font-size="5.5">8</tspan></text>
<line x1="234.7" y1="192.2" x2="238.2" y2="192.2" stroke="#231f20" stroke-width="1"/>
<text x="233.3" y="195.12" font-size="8.1" text-anchor="end">10<tspan dy="-3.4" font-size="5.5">7</tspan></text>
<line x1="234.7" y1="204.3" x2="238.2" y2="204.3" stroke="#231f20" stroke-width="1"/>
<text x="233.3" y="207.22" font-size="8.1" text-anchor="end">10<tspan dy="-3.4" font-size="5.5">6</tspan></text>
<line x1="234.7" y1="216.2" x2="238.2" y2="216.2" stroke="#231f20" stroke-width="1"/>
<text x="233.3" y="219.12" font-size="8.1" text-anchor="end">10<tspan dy="-3.4" font-size="5.5">5</tspan></text>
<line x1="234.7" y1="228" x2="238.2" y2="228" stroke="#231f20" stroke-width="1"/>
<text x="233.3" y="230.92" font-size="8.1" text-anchor="end">10<tspan dy="-3.4" font-size="5.5">4</tspan></text>
<line x1="234.7" y1="239.7" x2="238.2" y2="239.7" stroke="#231f20" stroke-width="1"/>
<text x="233.3" y="242.62" font-size="8.1" text-anchor="end">10<tspan dy="-3.4" font-size="5.5">3</tspan></text>
<line x1="234.7" y1="251.4" x2="238.2" y2="251.4" stroke="#231f20" stroke-width="1"/>
<text x="233.3" y="254.32" font-size="8.1" text-anchor="end">10<tspan dy="-3.4" font-size="5.5">2</tspan></text>
<text font-size="8.9" text-anchor="middle" transform="translate(217.3 214.5) rotate(-90) scale(0.819 1)">AML cells / mL</text>
<circle cx="243.5" cy="197.7" r="1.25" fill="#c8102e"/>
<circle cx="248.7" cy="198" r="1.25" fill="#c8102e"/>
<circle cx="246.2" cy="201.7" r="1.25" fill="#c8102e"/>
<circle cx="246.2" cy="207" r="1.25" fill="#c8102e"/>
<circle cx="246.2" cy="211.5" r="1.25" fill="#c8102e"/>
<circle cx="244.7" cy="205.5" r="1.25" fill="#c8102e"/>
<circle cx="248" cy="204" r="1.25" fill="#c8102e"/>
<circle cx="259.7" cy="215" r="1.25" fill="#0b4a8b"/>
<circle cx="258.5" cy="217.7" r="1.25" fill="#0b4a8b"/>
<circle cx="261.5" cy="220.2" r="1.25" fill="#0b4a8b"/>
<circle cx="257" cy="222.2" r="1.25" fill="#0b4a8b"/>
<circle cx="259.2" cy="223.2" r="1.25" fill="#0b4a8b"/>
<circle cx="261.8" cy="223.2" r="1.25" fill="#0b4a8b"/>
<circle cx="258.8" cy="242.7" r="1.25" fill="#0b4a8b"/>
<circle cx="279.5" cy="191.2" r="1.25" fill="#c8102e"/>
<circle cx="278" cy="200.5" r="1.25" fill="#c8102e"/>
<circle cx="281" cy="199.7" r="1.25" fill="#c8102e"/>
<circle cx="276.2" cy="204.2" r="1.25" fill="#c8102e"/>
<circle cx="282.5" cy="205" r="1.25" fill="#c8102e"/>
<circle cx="279.5" cy="214.7" r="1.25" fill="#c8102e"/>
<circle cx="291.8" cy="212.8" r="1.25" fill="#0b4a8b"/>
<circle cx="289.2" cy="218.9" r="1.25" fill="#0b4a8b"/>
<circle cx="294.8" cy="217.2" r="1.25" fill="#0b4a8b"/>
<circle cx="291.8" cy="221.5" r="1.25" fill="#0b4a8b"/>
<circle cx="293" cy="228" r="1.25" fill="#0b4a8b"/>
<circle cx="291.8" cy="239.7" r="1.25" fill="#0b4a8b"/>
<circle cx="291.8" cy="224.2" r="1.25" fill="#0b4a8b"/>
<circle cx="311" cy="195.2" r="1.25" fill="#c8102e"/>
<circle cx="314.3" cy="196.7" r="1.25" fill="#c8102e"/>
<circle cx="309.8" cy="203.5" r="1.25" fill="#c8102e"/>
<circle cx="315.8" cy="203.8" r="1.25" fill="#c8102e"/>
<circle cx="312.8" cy="200.5" r="1.25" fill="#c8102e"/>
<circle cx="312" cy="205" r="1.25" fill="#c8102e"/>
<circle cx="325" cy="196.7" r="1.25" fill="#0b4a8b"/>
<circle cx="322.2" cy="217.7" r="1.25" fill="#0b4a8b"/>
<circle cx="328.2" cy="217.7" r="1.25" fill="#0b4a8b"/>
<circle cx="325" cy="220" r="1.25" fill="#0b4a8b"/>
<circle cx="325.7" cy="227.2" r="1.25" fill="#0b4a8b"/>
<circle cx="324.2" cy="229.5" r="1.25" fill="#0b4a8b"/>
<circle cx="325" cy="222" r="1.25" fill="#0b4a8b"/>
<circle cx="346.5" cy="196.9" r="1.25" fill="#c8102e"/>
<circle cx="344" cy="199.4" r="1.25" fill="#c8102e"/>
<circle cx="343" cy="203.3" r="1.25" fill="#c8102e"/>
<circle cx="348.8" cy="204.2" r="1.25" fill="#c8102e"/>
<circle cx="346" cy="211.9" r="1.25" fill="#c8102e"/>
<circle cx="346" cy="216.7" r="1.25" fill="#c8102e"/>
<circle cx="346" cy="229.6" r="1.25" fill="#c8102e"/>
<circle cx="349.2" cy="200.8" r="1.25" fill="#c8102e"/>
<circle cx="343.5" cy="207.2" r="1.25" fill="#c8102e"/>
<circle cx="358.5" cy="215.8" r="1.25" fill="#0b4a8b"/>
<circle cx="355.6" cy="221.9" r="1.25" fill="#0b4a8b"/>
<circle cx="361.3" cy="222.5" r="1.25" fill="#0b4a8b"/>
<circle cx="358.5" cy="226.3" r="1.25" fill="#0b4a8b"/>
<circle cx="355.6" cy="232.7" r="1.25" fill="#0b4a8b"/>
<circle cx="361.3" cy="233" r="1.25" fill="#0b4a8b"/>
<circle cx="356.3" cy="226.8" r="1.25" fill="#0b4a8b"/>
<circle cx="360.7" cy="226.8" r="1.25" fill="#0b4a8b"/>
<circle cx="358.5" cy="233.8" r="1.25" fill="#0b4a8b"/>
<circle cx="379" cy="190.8" r="1.25" fill="#c8102e"/>
<circle cx="376.2" cy="199.4" r="1.25" fill="#c8102e"/>
<circle cx="381.9" cy="197.5" r="1.25" fill="#c8102e"/>
<circle cx="376.2" cy="204.6" r="1.25" fill="#c8102e"/>
<circle cx="381.9" cy="205.2" r="1.25" fill="#c8102e"/>
<circle cx="379" cy="211" r="1.25" fill="#c8102e"/>
<circle cx="377.7" cy="207.7" r="1.25" fill="#c8102e"/>
<circle cx="382.6" cy="201.3" r="1.25" fill="#c8102e"/>
<circle cx="376.6" cy="201.8" r="1.25" fill="#c8102e"/>
<circle cx="389.2" cy="209" r="1.25" fill="#0b4a8b"/>
<circle cx="391.5" cy="206.2" r="1.25" fill="#0b4a8b"/>
<circle cx="394.6" cy="205.2" r="1.25" fill="#0b4a8b"/>
<circle cx="391.5" cy="212.9" r="1.25" fill="#0b4a8b"/>
<circle cx="391.5" cy="217.7" r="1.25" fill="#0b4a8b"/>
<circle cx="391.5" cy="222.5" r="1.25" fill="#0b4a8b"/>
<circle cx="389.2" cy="237.9" r="1.25" fill="#0b4a8b"/>
<circle cx="393" cy="236.5" r="1.25" fill="#0b4a8b"/>
<circle cx="389.6" cy="214.5" r="1.25" fill="#0b4a8b"/>
<circle cx="393.6" cy="214.2" r="1.25" fill="#0b4a8b"/>
<circle cx="391.5" cy="229" r="1.25" fill="#0b4a8b"/>
<line x1="237.65" y1="251.4" x2="400.5" y2="251.4" stroke="#231f20" stroke-width="1.1"/>
<line x1="252.5" y1="251.4" x2="252.5" y2="254.9" stroke="#231f20" stroke-width="1"/>
<line x1="285.7" y1="251.4" x2="285.7" y2="254.9" stroke="#231f20" stroke-width="1"/>
<line x1="318.9" y1="251.4" x2="318.9" y2="254.9" stroke="#231f20" stroke-width="1"/>
<line x1="352" y1="251.4" x2="352" y2="254.9" stroke="#231f20" stroke-width="1"/>
<line x1="385.4" y1="251.4" x2="385.4" y2="254.9" stroke="#231f20" stroke-width="1"/>
<text x="256.8" y="261" font-size="7.9" text-anchor="end" transform="rotate(-45 256.8 261)">cIgG</text>
<text x="290" y="261" font-size="7.9" text-anchor="end" transform="rotate(-45 290 261)">α-CD8</text>
<text x="323.2" y="261" font-size="7.9" text-anchor="end" transform="rotate(-45 323.2 261)">α-γδTCR</text>
<text x="356.3" y="261" font-size="7.9" text-anchor="end" transform="rotate(-45 356.3 261)">α-CD1d</text>
<text x="389.7" y="261" font-size="7.9" text-anchor="end" transform="rotate(-45 389.7 261)">α-NKG2D</text>
<circle cx="417.2" cy="178.9" r="2.7" fill="#c8102e"/>
<text x="422.6" y="181.9" font-size="7.6">Isotype</text>
<circle cx="417.2" cy="190.4" r="2.7" fill="#0b4a8b"/>
<text x="422.6" y="193.4" font-size="7.6" fill="#2f69a5" class="bl">7C6-mIgG2a</text>
<text x="7.6" y="315.8" font-size="10.8" font-weight="bold">E</text>
<text x="26.3" y="314.2" font-size="9.5">Bone marrow</text>
<rect x="44.7" y="369.2" width="7.5" height="50.8" fill="#df8796" stroke="#d97a8c" stroke-width="0.5"/>
<rect x="57" y="387.2" width="7.5" height="32.8" fill="#7fa6c9" stroke="#6f9ac2" stroke-width="0.5"/>
<rect x="78" y="371" width="7.2" height="49" fill="#df8796" stroke="#d97a8c" stroke-width="0.5"/>
<rect x="90.7" y="379.7" width="7.1" height="40.3" fill="#7fa6c9" stroke="#6f9ac2" stroke-width="0.5"/>
<rect x="111.3" y="371" width="7.2" height="49" fill="#df8796" stroke="#d97a8c" stroke-width="0.5"/>
<rect x="124.3" y="391" width="7" height="29" fill="#7fa6c9" stroke="#6f9ac2" stroke-width="0.5"/>
<rect x="144.7" y="377.3" width="7.3" height="42.7" fill="#df8796" stroke="#d97a8c" stroke-width="0.5"/>
<rect x="157.4" y="386.4" width="6.8" height="33.6" fill="#7fa6c9" stroke="#6f9ac2" stroke-width="0.5"/>
<rect x="177.8" y="361.9" width="6.9" height="58.1" fill="#df8796" stroke="#d97a8c" stroke-width="0.5"/>
<rect x="190.2" y="371.3" width="7.3" height="48.7" fill="#7fa6c9" stroke="#6f9ac2" stroke-width="0.5"/>
<line x1="60.9" y1="323" x2="194" y2="323" stroke="#4d4d4f" stroke-width="1.15"/>
<text x="127.1" y="320.8" font-size="8.28" text-anchor="middle"><tspan font-style="italic">p</tspan>=0.19</text>
<line x1="60.9" y1="334" x2="160.9" y2="334" stroke="#4d4d4f" stroke-width="1.15"/>
<text x="110.7" y="331.7" font-size="8.28" text-anchor="middle"><tspan font-style="italic">p</tspan>=0.22</text>
<line x1="60.9" y1="345.1" x2="94.8" y2="345.1" stroke="#4d4d4f" stroke-width="1.15"/>
<text x="77.3" y="342.3" font-size="8.28" text-anchor="middle"><tspan font-style="italic">p</tspan>=0.13</text>
<line x1="82.2" y1="356.8" x2="94.8" y2="356.8" stroke="#4d4d4f" stroke-width="1.15"/>
<text x="88.2" y="354.2" font-size="8.28" text-anchor="middle"><tspan font-style="italic">p</tspan>=0.14</text>
<line x1="48.3" y1="354" x2="60.7" y2="354" stroke="#4d4d4f" stroke-width="1.15"/>
<path d="M52.8 349.45L52.8 352.15M51.63 350.12L53.97 351.48M51.63 351.48L53.97 350.12" stroke="#231f20" stroke-width="0.8" fill="none"/>
<path d="M56.2 349.45L56.2 352.15M55.03 350.12L57.37 351.48M55.03 351.48L57.37 350.12" stroke="#231f20" stroke-width="0.8" fill="none"/>
<line x1="114.3" y1="359.5" x2="126.8" y2="359.5" stroke="#4d4d4f" stroke-width="1.15"/>
<path d="M118.8 354.45L118.8 357.15M117.63 355.12L119.97 356.48M117.63 356.48L119.97 355.12" stroke="#231f20" stroke-width="0.8" fill="none"/>
<path d="M122.2 354.45L122.2 357.15M121.03 355.12L123.37 356.48M121.03 356.48L123.37 355.12" stroke="#231f20" stroke-width="0.8" fill="none"/>
<line x1="148.3" y1="356.8" x2="160.5" y2="356.8" stroke="#4d4d4f" stroke-width="1.15"/>
<text x="154.3" y="354.2" font-size="8.28" text-anchor="middle"><tspan font-style="italic">p</tspan>=0.06</text>
<line x1="181.1" y1="349.3" x2="193.9" y2="349.3" stroke="#4d4d4f" stroke-width="1.15"/>
<path d="M185.1 344.55L185.1 347.25M183.93 345.22L186.27 346.57M183.93 346.57L186.27 345.22" stroke="#231f20" stroke-width="0.8" fill="none"/>
<path d="M188.5 344.55L188.5 347.25M187.33 345.22L189.67 346.57M187.33 346.57L189.67 345.22" stroke="#231f20" stroke-width="0.8" fill="none"/>
<line x1="39.7" y1="349.3" x2="39.7" y2="420" stroke="#231f20" stroke-width="1.1"/>
<line x1="36.2" y1="349.3" x2="39.7" y2="349.3" stroke="#231f20" stroke-width="1"/>
<text x="34.2" y="352.22" font-size="8.1" text-anchor="end">10<tspan dy="-3.4" font-size="5.5">2</tspan></text>
<line x1="36.2" y1="363.2" x2="39.7" y2="363.2" stroke="#231f20" stroke-width="1"/>
<text x="34.2" y="366.12" font-size="8.1" text-anchor="end">10<tspan dy="-3.4" font-size="5.5">1</tspan></text>
<line x1="36.2" y1="377.5" x2="39.7" y2="377.5" stroke="#231f20" stroke-width="1"/>
<text x="34.2" y="380.42" font-size="8.1" text-anchor="end">10<tspan dy="-3.4" font-size="5.5">0</tspan></text>
<line x1="36.2" y1="391.7" x2="39.7" y2="391.7" stroke="#231f20" stroke-width="1"/>
<text x="34.2" y="394.62" font-size="8.1" text-anchor="end">10<tspan dy="-3.4" font-size="5.5">−1</tspan></text>
<line x1="36.2" y1="406" x2="39.7" y2="406" stroke="#231f20" stroke-width="1"/>
<text x="34.2" y="408.92" font-size="8.1" text-anchor="end">10<tspan dy="-3.4" font-size="5.5">−2</tspan></text>
<line x1="36.2" y1="420" x2="39.7" y2="420" stroke="#231f20" stroke-width="1"/>
<text x="34.2" y="422.92" font-size="8.1" text-anchor="end">10<tspan dy="-3.4" font-size="5.5">−3</tspan></text>
<text font-size="8.9" text-anchor="middle" transform="translate(13.8 384.7) rotate(-90) scale(0.787 1)">Percentage</text>
<circle cx="48.3" cy="357.7" r="1.25" fill="#c8102e"/>
<circle cx="45" cy="364" r="1.25" fill="#c8102e"/>
<circle cx="48.3" cy="362.5" r="1.25" fill="#c8102e"/>
<circle cx="51" cy="364.7" r="1.25" fill="#c8102e"/>
<circle cx="45.4" cy="371.5" r="1.25" fill="#c8102e"/>
<circle cx="51.3" cy="371.5" r="1.25" fill="#c8102e"/>
<circle cx="48.3" cy="376" r="1.25" fill="#c8102e"/>
<circle cx="48.3" cy="381.7" r="1.25" fill="#c8102e"/>
<circle cx="60.7" cy="366.2" r="1.25" fill="#0b4a8b"/>
<circle cx="60.7" cy="375.7" r="1.25" fill="#0b4a8b"/>
<circle cx="60.7" cy="384.2" r="1.25" fill="#0b4a8b"/>
<circle cx="57.7" cy="387.2" r="1.25" fill="#0b4a8b"/>
<circle cx="63.7" cy="386.5" r="1.25" fill="#0b4a8b"/>
<circle cx="60.7" cy="391" r="1.25" fill="#0b4a8b"/>
<circle cx="57.7" cy="400.3" r="1.25" fill="#0b4a8b"/>
<circle cx="63.7" cy="400.3" r="1.25" fill="#0b4a8b"/>
<circle cx="60.7" cy="400.3" r="1.25" fill="#0b4a8b"/>
<circle cx="81.4" cy="359.8" r="1.25" fill="#c8102e"/>
<circle cx="78.4" cy="362.5" r="1.25" fill="#c8102e"/>
<circle cx="84.4" cy="362.8" r="1.25" fill="#c8102e"/>
<circle cx="78.4" cy="368" r="1.25" fill="#c8102e"/>
<circle cx="84.4" cy="368" r="1.25" fill="#c8102e"/>
<circle cx="81.4" cy="372.2" r="1.25" fill="#c8102e"/>
<circle cx="78.4" cy="376" r="1.25" fill="#c8102e"/>
<circle cx="84.4" cy="376" r="1.25" fill="#c8102e"/>
<circle cx="81.4" cy="381.2" r="1.25" fill="#c8102e"/>
<circle cx="81.4" cy="398.8" r="1.25" fill="#c8102e"/>
<circle cx="94.2" cy="363.2" r="1.25" fill="#0b4a8b"/>
<circle cx="91.2" cy="369.2" r="1.25" fill="#0b4a8b"/>
<circle cx="96" cy="370" r="1.25" fill="#0b4a8b"/>
<circle cx="91.2" cy="376.7" r="1.25" fill="#0b4a8b"/>
<circle cx="96" cy="376.7" r="1.25" fill="#0b4a8b"/>
<circle cx="91.2" cy="382.7" r="1.25" fill="#0b4a8b"/>
<circle cx="91.2" cy="385" r="1.25" fill="#0b4a8b"/>
<circle cx="96" cy="385" r="1.25" fill="#0b4a8b"/>
<circle cx="94.2" cy="387.7" r="1.25" fill="#0b4a8b"/>
<circle cx="94.2" cy="396.5" r="1.25" fill="#0b4a8b"/>
<circle cx="112" cy="364.4" r="1.25" fill="#c8102e"/>
<circle cx="117.4" cy="363" r="1.25" fill="#c8102e"/>
<circle cx="112" cy="368.2" r="1.25" fill="#c8102e"/>
<circle cx="117.4" cy="368.5" r="1.25" fill="#c8102e"/>
<circle cx="112" cy="374.5" r="1.25" fill="#c8102e"/>
<circle cx="117.4" cy="374.5" r="1.25" fill="#c8102e"/>
<circle cx="117.4" cy="384.2" r="1.25" fill="#c8102e"/>
<circle cx="112" cy="385" r="1.25" fill="#c8102e"/>
<circle cx="124.8" cy="370" r="1.25" fill="#0b4a8b"/>
<circle cx="128.2" cy="371.5" r="1.25" fill="#0b4a8b"/>
<circle cx="126.8" cy="370.6" r="1.25" fill="#0b4a8b"/>
<circle cx="124.8" cy="384.2" r="1.25" fill="#0b4a8b"/>
<circle cx="124.8" cy="388.7" r="1.25" fill="#0b4a8b"/>
<circle cx="128.2" cy="388.7" r="1.25" fill="#0b4a8b"/>
<circle cx="124.8" cy="400" r="1.25" fill="#0b4a8b"/>
<circle cx="127.2" cy="400.2" r="1.25" fill="#0b4a8b"/>
<circle cx="127.2" cy="409.2" r="1.25" fill="#0b4a8b"/>
<circle cx="147.8" cy="360" r="1.25" fill="#c8102e"/>
<circle cx="144.7" cy="364.6" r="1.25" fill="#c8102e"/>
<circle cx="151.4" cy="363.7" r="1.25" fill="#c8102e"/>
<circle cx="144.7" cy="369.1" r="1.25" fill="#c8102e"/>
<circle cx="151.4" cy="369.7" r="1.25" fill="#c8102e"/>
<circle cx="144.7" cy="373.3" r="1.25" fill="#c8102e"/>
<circle cx="151.4" cy="373.3" r="1.25" fill="#c8102e"/>
<circle cx="144.7" cy="378.3" r="1.25" fill="#c8102e"/>
<circle cx="151.4" cy="378.6" r="1.25" fill="#c8102e"/>
<circle cx="148.1" cy="382.8" r="1.25" fill="#c8102e"/>
<circle cx="160" cy="362.2" r="1.25" fill="#0b4a8b"/>
<circle cx="160.5" cy="365.9" r="1.25" fill="#0b4a8b"/>
<circle cx="160.9" cy="371.3" r="1.25" fill="#0b4a8b"/>
<circle cx="157.4" cy="378.3" r="1.25" fill="#0b4a8b"/>
<circle cx="163.8" cy="379.2" r="1.25" fill="#0b4a8b"/>
<circle cx="157.4" cy="383.4" r="1.25" fill="#0b4a8b"/>
<circle cx="163.8" cy="383.7" r="1.25" fill="#0b4a8b"/>
<circle cx="160.9" cy="393.7" r="1.25" fill="#0b4a8b"/>
<circle cx="160.9" cy="406.5" r="1.25" fill="#0b4a8b"/>
<circle cx="180.6" cy="352.8" r="1.25" fill="#c8102e"/>
<circle cx="177.8" cy="358.2" r="1.25" fill="#c8102e"/>
<circle cx="183.3" cy="358.2" r="1.25" fill="#c8102e"/>
<circle cx="177.8" cy="361.5" r="1.25" fill="#c8102e"/>
<circle cx="183.3" cy="361.5" r="1.25" fill="#c8102e"/>
<circle cx="181.1" cy="359.7" r="1.25" fill="#c8102e"/>
<circle cx="179.3" cy="367.3" r="1.25" fill="#c8102e"/>
<circle cx="181.1" cy="374.6" r="1.25" fill="#c8102e"/>
<circle cx="190.9" cy="367.3" r="1.25" fill="#0b4a8b"/>
<circle cx="193.9" cy="367" r="1.25" fill="#0b4a8b"/>
<circle cx="196.4" cy="368.2" r="1.25" fill="#0b4a8b"/>
<circle cx="193.9" cy="373.7" r="1.25" fill="#0b4a8b"/>
<circle cx="193.9" cy="379.2" r="1.25" fill="#0b4a8b"/>
<circle cx="193.3" cy="404.1" r="1.25" fill="#0b4a8b"/>
<circle cx="193.3" cy="408.3" r="1.25" fill="#0b4a8b"/>
<line x1="39.15" y1="420" x2="202.6" y2="420" stroke="#231f20" stroke-width="1.1"/>
<line x1="54.5" y1="420" x2="54.5" y2="423.5" stroke="#231f20" stroke-width="1"/>
<line x1="87.6" y1="420" x2="87.6" y2="423.5" stroke="#231f20" stroke-width="1"/>
<line x1="120.7" y1="420" x2="120.7" y2="423.5" stroke="#231f20" stroke-width="1"/>
<line x1="153.8" y1="420" x2="153.8" y2="423.5" stroke="#231f20" stroke-width="1"/>
<line x1="187.3" y1="420" x2="187.3" y2="423.5" stroke="#231f20" stroke-width="1"/>
<text x="57.8" y="431.2" font-size="9.4" text-anchor="end" transform="rotate(-45 57.8 431.2)">cIgG</text>
<text x="90.9" y="431.2" font-size="9.4" text-anchor="end" transform="rotate(-45 90.9 431.2)">α-CD8</text>
<text x="124" y="431.2" font-size="9.4" text-anchor="end" transform="rotate(-45 124 431.2)">α-γδTCR</text>
<text x="157.1" y="431.2" font-size="9.4" text-anchor="end" transform="rotate(-45 157.1 431.2)">α-CD1d</text>
<text x="190.6" y="431.2" font-size="9.4" text-anchor="end" transform="rotate(-45 190.6 431.2)">α-NKG2D</text>
<rect x="243.2" y="375.8" width="6.7" height="44.4" fill="#df8796" stroke="#d97a8c" stroke-width="0.5"/>
<rect x="256" y="390.8" width="7" height="29.4" fill="#7fa6c9" stroke="#6f9ac2" stroke-width="0.5"/>
<rect x="276.3" y="379.2" width="6.8" height="41" fill="#df8796" stroke="#d97a8c" stroke-width="0.5"/>
<rect x="288.8" y="381.8" width="7.2" height="38.4" fill="#7fa6c9" stroke="#6f9ac2" stroke-width="0.5"/>
<rect x="309.3" y="377.9" width="6.9" height="42.3" fill="#df8796" stroke="#d97a8c" stroke-width="0.5"/>
<rect x="322" y="390.4" width="6.8" height="29.8" fill="#7fa6c9" stroke="#6f9ac2" stroke-width="0.5"/>
<rect x="342.8" y="376.3" width="7.2" height="43.9" fill="#df8796" stroke="#d97a8c" stroke-width="0.5"/>
<rect x="355.3" y="384.7" width="7.2" height="35.5" fill="#7fa6c9" stroke="#6f9ac2" stroke-width="0.5"/>
<rect x="375.9" y="366.9" width="7.2" height="53.3" fill="#df8796" stroke="#d97a8c" stroke-width="0.5"/>
<rect x="388.6" y="380.6" width="7.3" height="39.6" fill="#7fa6c9" stroke="#6f9ac2" stroke-width="0.5"/>
<line x1="259.2" y1="327.6" x2="391.9" y2="327.6" stroke="#4d4d4f" stroke-width="1.15"/>
<text x="325.8" y="325.3" font-size="8.28" text-anchor="middle"><tspan font-style="italic">p</tspan>=0.35</text>
<line x1="259.2" y1="339.5" x2="359.5" y2="339.5" stroke="#4d4d4f" stroke-width="1.15"/>
<text x="309.7" y="337" font-size="8.28" text-anchor="middle"><tspan font-style="italic">p</tspan>=0.28</text>
<line x1="259.2" y1="351.2" x2="292.1" y2="351.2" stroke="#4d4d4f" stroke-width="1.15"/>
<text x="275.6" y="348.6" font-size="8.28" text-anchor="middle"><tspan font-style="italic">p</tspan>=0.14</text>
<line x1="280.2" y1="362.5" x2="292.5" y2="362.5" stroke="#4d4d4f" stroke-width="1.15"/>
<text x="286.2" y="360.1" font-size="8.28" text-anchor="middle"><tspan font-style="italic">p</tspan>=0.39</text>
<line x1="246.5" y1="365.4" x2="259" y2="365.4" stroke="#4d4d4f" stroke-width="1.15"/>
<path d="M250.9 360.15L250.9 362.85M249.73 360.82L252.07 362.18M249.73 362.18L252.07 360.82" stroke="#231f20" stroke-width="0.8" fill="none"/>
<path d="M254.3 360.15L254.3 362.85M253.13 360.82L255.47 362.18M253.13 362.18L255.47 360.82" stroke="#231f20" stroke-width="0.8" fill="none"/>
<line x1="315.1" y1="360.5" x2="325.9" y2="360.5" stroke="#4d4d4f" stroke-width="1.15"/>
<path d="M319.5 355.35L319.5 358.05M318.33 356.02L320.67 357.38M318.33 357.38L320.67 356.02" stroke="#231f20" stroke-width="0.8" fill="none"/>
<line x1="346.3" y1="362.5" x2="359.1" y2="362.5" stroke="#4d4d4f" stroke-width="1.15"/>
<text x="352.7" y="360.1" font-size="8.28" text-anchor="middle"><tspan font-style="italic">p</tspan>=0.22</text>
<line x1="379.7" y1="356.1" x2="392" y2="356.1" stroke="#4d4d4f" stroke-width="1.15"/>
<path d="M384.2 350.85L384.2 353.55M383.03 351.52L385.37 352.88M383.03 352.88L385.37 351.52" stroke="#231f20" stroke-width="0.8" fill="none"/>
<path d="M387.6 350.85L387.6 353.55M386.43 351.52L388.77 352.88M386.43 352.88L388.77 351.52" stroke="#231f20" stroke-width="0.8" fill="none"/>
<line x1="238" y1="349.3" x2="238" y2="420.2" stroke="#231f20" stroke-width="1.1"/>
<line x1="234.5" y1="349.3" x2="238" y2="349.3" stroke="#231f20" stroke-width="1"/>
<text x="233.5" y="352.22" font-size="8.1" text-anchor="end">10<tspan dy="-3.4" font-size="5.5">7</tspan></text>
<line x1="234.5" y1="363.5" x2="238" y2="363.5" stroke="#231f20" stroke-width="1"/>
<text x="233.5" y="366.42" font-size="8.1" text-anchor="end">10<tspan dy="-3.4" font-size="5.5">6</tspan></text>
<line x1="234.5" y1="377.7" x2="238" y2="377.7" stroke="#231f20" stroke-width="1"/>
<text x="233.5" y="380.62" font-size="8.1" text-anchor="end">10<tspan dy="-3.4" font-size="5.5">5</tspan></text>
<line x1="234.5" y1="392" x2="238" y2="392" stroke="#231f20" stroke-width="1"/>
<text x="233.5" y="394.92" font-size="8.1" text-anchor="end">10<tspan dy="-3.4" font-size="5.5">4</tspan></text>
<line x1="234.5" y1="406.2" x2="238" y2="406.2" stroke="#231f20" stroke-width="1"/>
<text x="233.5" y="409.12" font-size="8.1" text-anchor="end">10<tspan dy="-3.4" font-size="5.5">3</tspan></text>
<line x1="234.5" y1="420.2" x2="238" y2="420.2" stroke="#231f20" stroke-width="1"/>
<text x="233.5" y="423.12" font-size="8.1" text-anchor="end">10<tspan dy="-3.4" font-size="5.5">2</tspan></text>
<text font-size="8.9" text-anchor="middle" transform="translate(217.3 385.2) rotate(-90) scale(0.836 1)">AML cells / femur</text>
<circle cx="243.5" cy="369.8" r="1.25" fill="#c8102e"/>
<circle cx="249.5" cy="369.2" r="1.25" fill="#c8102e"/>
<circle cx="247.2" cy="371" r="1.25" fill="#c8102e"/>
<circle cx="246.5" cy="372.5" r="1.25" fill="#c8102e"/>
<circle cx="245" cy="383.7" r="1.25" fill="#c8102e"/>
<circle cx="248.3" cy="383.7" r="1.25" fill="#c8102e"/>
<circle cx="245" cy="386" r="1.25" fill="#c8102e"/>
<circle cx="248.3" cy="386.7" r="1.25" fill="#c8102e"/>
<circle cx="246.5" cy="380" r="1.25" fill="#c8102e"/>
<circle cx="259.2" cy="372.2" r="1.25" fill="#0b4a8b"/>
<circle cx="259.2" cy="377.4" r="1.25" fill="#0b4a8b"/>
<circle cx="257.4" cy="384.5" r="1.25" fill="#0b4a8b"/>
<circle cx="262.2" cy="389.3" r="1.25" fill="#0b4a8b"/>
<circle cx="257.4" cy="389.7" r="1.25" fill="#0b4a8b"/>
<circle cx="259.2" cy="396.5" r="1.25" fill="#0b4a8b"/>
<circle cx="256.2" cy="405.5" r="1.25" fill="#0b4a8b"/>
<circle cx="262.2" cy="405.2" r="1.25" fill="#0b4a8b"/>
<circle cx="259.2" cy="405.5" r="1.25" fill="#0b4a8b"/>
<circle cx="276.6" cy="368.1" r="1.25" fill="#c8102e"/>
<circle cx="280.2" cy="367.3" r="1.25" fill="#c8102e"/>
<circle cx="283.1" cy="366.7" r="1.25" fill="#c8102e"/>
<circle cx="280.2" cy="371.5" r="1.25" fill="#c8102e"/>
<circle cx="281.9" cy="376.7" r="1.25" fill="#c8102e"/>
<circle cx="277.1" cy="380.1" r="1.25" fill="#c8102e"/>
<circle cx="281.9" cy="381" r="1.25" fill="#c8102e"/>
<circle cx="280.2" cy="384.4" r="1.25" fill="#c8102e"/>
<circle cx="279.7" cy="390.9" r="1.25" fill="#c8102e"/>
<circle cx="279.7" cy="401.5" r="1.25" fill="#c8102e"/>
<circle cx="289.5" cy="371.5" r="1.25" fill="#0b4a8b"/>
<circle cx="295.1" cy="369.3" r="1.25" fill="#0b4a8b"/>
<circle cx="289.5" cy="375.5" r="1.25" fill="#0b4a8b"/>
<circle cx="295.1" cy="375.8" r="1.25" fill="#0b4a8b"/>
<circle cx="292.2" cy="378.4" r="1.25" fill="#0b4a8b"/>
<circle cx="289.5" cy="384" r="1.25" fill="#0b4a8b"/>
<circle cx="292.2" cy="385.2" r="1.25" fill="#0b4a8b"/>
<circle cx="289.5" cy="390.4" r="1.25" fill="#0b4a8b"/>
<circle cx="295.1" cy="390.4" r="1.25" fill="#0b4a8b"/>
<circle cx="292.2" cy="401.5" r="1.25" fill="#0b4a8b"/>
<circle cx="312.7" cy="364.2" r="1.25" fill="#c8102e"/>
<circle cx="311.4" cy="369.8" r="1.25" fill="#c8102e"/>
<circle cx="314.8" cy="372.7" r="1.25" fill="#c8102e"/>
<circle cx="311.4" cy="374.1" r="1.25" fill="#c8102e"/>
<circle cx="310" cy="377.9" r="1.25" fill="#c8102e"/>
<circle cx="315.7" cy="378.4" r="1.25" fill="#c8102e"/>
<circle cx="312.7" cy="381.8" r="1.25" fill="#c8102e"/>
<circle cx="311.4" cy="386.1" r="1.25" fill="#c8102e"/>
<circle cx="310" cy="390.9" r="1.25" fill="#c8102e"/>
<circle cx="314.5" cy="389.9" r="1.25" fill="#c8102e"/>
<circle cx="323.7" cy="374.5" r="1.25" fill="#0b4a8b"/>
<circle cx="327.1" cy="373.3" r="1.25" fill="#0b4a8b"/>
<circle cx="325.4" cy="383.5" r="1.25" fill="#0b4a8b"/>
<circle cx="323" cy="387.8" r="1.25" fill="#0b4a8b"/>
<circle cx="328.2" cy="388.2" r="1.25" fill="#0b4a8b"/>
<circle cx="323" cy="391.2" r="1.25" fill="#0b4a8b"/>
<circle cx="325.4" cy="393.8" r="1.25" fill="#0b4a8b"/>
<circle cx="325.4" cy="403.2" r="1.25" fill="#0b4a8b"/>
<circle cx="325.4" cy="413.5" r="1.25" fill="#0b4a8b"/>
<circle cx="342.8" cy="366.9" r="1.25" fill="#c8102e"/>
<circle cx="346.6" cy="366.9" r="1.25" fill="#c8102e"/>
<circle cx="349.7" cy="366.4" r="1.25" fill="#c8102e"/>
<circle cx="342.8" cy="372.7" r="1.25" fill="#c8102e"/>
<circle cx="346.6" cy="377.5" r="1.25" fill="#c8102e"/>
<circle cx="344.2" cy="380.1" r="1.25" fill="#c8102e"/>
<circle cx="348" cy="381" r="1.25" fill="#c8102e"/>
<circle cx="344.2" cy="384" r="1.25" fill="#c8102e"/>
<circle cx="348" cy="383.5" r="1.25" fill="#c8102e"/>
<circle cx="346.6" cy="389.2" r="1.25" fill="#c8102e"/>
<circle cx="357" cy="366.4" r="1.25" fill="#0b4a8b"/>
<circle cx="360.5" cy="366.4" r="1.25" fill="#0b4a8b"/>
<circle cx="358.8" cy="377.9" r="1.25" fill="#0b4a8b"/>
<circle cx="361.7" cy="381" r="1.25" fill="#0b4a8b"/>
<circle cx="356" cy="386.1" r="1.25" fill="#0b4a8b"/>
<circle cx="360.8" cy="387" r="1.25" fill="#0b4a8b"/>
<circle cx="358.8" cy="399.5" r="1.25" fill="#0b4a8b"/>
<circle cx="358.8" cy="413.8" r="1.25" fill="#0b4a8b"/>
<circle cx="379.3" cy="359.6" r="1.25" fill="#c8102e"/>
<circle cx="376.6" cy="365.2" r="1.25" fill="#c8102e"/>
<circle cx="382.2" cy="365.5" r="1.25" fill="#c8102e"/>
<circle cx="376.6" cy="369.8" r="1.25" fill="#c8102e"/>
<circle cx="382.2" cy="369" r="1.25" fill="#c8102e"/>
<circle cx="379.3" cy="372.4" r="1.25" fill="#c8102e"/>
<circle cx="380" cy="381.5" r="1.25" fill="#c8102e"/>
<circle cx="378.8" cy="385.2" r="1.25" fill="#c8102e"/>
<circle cx="389.1" cy="371.5" r="1.25" fill="#0b4a8b"/>
<circle cx="392" cy="371.5" r="1.25" fill="#0b4a8b"/>
<circle cx="394.7" cy="371" r="1.25" fill="#0b4a8b"/>
<circle cx="392" cy="375" r="1.25" fill="#0b4a8b"/>
<circle cx="390.3" cy="386.4" r="1.25" fill="#0b4a8b"/>
<circle cx="392" cy="390.9" r="1.25" fill="#0b4a8b"/>
<circle cx="390.8" cy="409.7" r="1.25" fill="#0b4a8b"/>
<circle cx="392.5" cy="409.2" r="1.25" fill="#0b4a8b"/>
<line x1="237.45" y1="420.2" x2="400.2" y2="420.2" stroke="#231f20" stroke-width="1.1"/>
<line x1="252.4" y1="420.2" x2="252.4" y2="423.7" stroke="#231f20" stroke-width="1"/>
<line x1="285.6" y1="420.2" x2="285.6" y2="423.7" stroke="#231f20" stroke-width="1"/>
<line x1="319.1" y1="420.2" x2="319.1" y2="423.7" stroke="#231f20" stroke-width="1"/>
<line x1="351.9" y1="420.2" x2="351.9" y2="423.7" stroke="#231f20" stroke-width="1"/>
<line x1="385.1" y1="420.2" x2="385.1" y2="423.7" stroke="#231f20" stroke-width="1"/>
<text x="255.7" y="431.4" font-size="9.4" text-anchor="end" transform="rotate(-45 255.7 431.4)">cIgG</text>
<text x="288.9" y="431.4" font-size="9.4" text-anchor="end" transform="rotate(-45 288.9 431.4)">α-CD8</text>
<text x="322.4" y="431.4" font-size="9.4" text-anchor="end" transform="rotate(-45 322.4 431.4)">α-γδTCR</text>
<text x="355.2" y="431.4" font-size="9.4" text-anchor="end" transform="rotate(-45 355.2 431.4)">α-CD1d</text>
<text x="388.4" y="431.4" font-size="9.4" text-anchor="end" transform="rotate(-45 388.4 431.4)">α-NKG2D</text>
<circle cx="416.5" cy="350.5" r="2.7" fill="#c8102e"/>
<text x="422.2" y="353.4" font-size="7.6">Isotype</text>
<circle cx="416.5" cy="362" r="2.7" fill="#0b4a8b"/>
<text x="422.2" y="364.9" font-size="7.6" fill="#2f69a5" class="bl">7C6-mIgG2a</text>
<path d="M49 108.2V124.7M46.8 108.2H51.2M46.8 124.7H51.2" stroke="#3d3d3d" stroke-width="0.9" fill="none"/>
<path d="M89.5 85.2V115.5M87.3 85.2H91.7M87.3 115.5H91.7" stroke="#3d3d3d" stroke-width="0.9" fill="none"/>
<path d="M142.2 79.6V129M140 79.6H144.4M140 129H144.4" stroke="#3d3d3d" stroke-width="0.9" fill="none"/>
<path d="M157 123.5V129.2M154.8 123.5H159.2M154.8 129.2H159.2" stroke="#3d3d3d" stroke-width="0.9" fill="none"/>
<path d="M182 53.3V77M179.8 53.3H184.2M179.8 77H184.2" stroke="#3d3d3d" stroke-width="0.9" fill="none"/>
<path d="M197.5 83V129M195.3 83H199.7M195.3 129H199.7" stroke="#3d3d3d" stroke-width="0.9" fill="none"/>
<path d="M248.5 67.4V79.7M246.3 67.4H250.7M246.3 79.7H250.7" stroke="#3d3d3d" stroke-width="0.9" fill="none"/>
<path d="M263.6 90.7V120.4M261.4 90.7H265.8M261.4 120.4H265.8" stroke="#3d3d3d" stroke-width="0.9" fill="none"/>
<path d="M288.7 57V74M286.5 57H290.9M286.5 74H290.9" stroke="#3d3d3d" stroke-width="0.9" fill="none"/>
<path d="M304.3 82.7V92.7M302.1 82.7H306.5M302.1 92.7H306.5" stroke="#3d3d3d" stroke-width="0.9" fill="none"/>
<path d="M355 72.5V95.3M352.8 72.5H357.2M352.8 95.3H357.2" stroke="#3d3d3d" stroke-width="0.9" fill="none"/>
<path d="M370.4 81.2V112M368.2 81.2H372.6M368.2 112H372.6" stroke="#3d3d3d" stroke-width="0.9" fill="none"/>
<path d="M395.5 61.2V72.5M393.3 61.2H397.7M393.3 72.5H397.7" stroke="#3d3d3d" stroke-width="0.9" fill="none"/>
<path d="M411 76.2V106.2M408.8 76.2H413.2M408.8 106.2H413.2" stroke="#3d3d3d" stroke-width="0.9" fill="none"/>
<path d="M48 189.6V200.8M46.1 189.6H49.9M46.1 200.8H49.9" stroke="#3d3d3d" stroke-width="0.9" fill="none"/>
<path d="M60 212.5V221M58.1 212.5H61.9M58.1 221H61.9" stroke="#3d3d3d" stroke-width="0.9" fill="none"/>
<path d="M80.7 191.8V199.7M78.8 191.8H82.6M78.8 199.7H82.6" stroke="#3d3d3d" stroke-width="0.9" fill="none"/>
<path d="M93.7 211.7V224.5M91.8 211.7H95.6M91.8 224.5H95.6" stroke="#3d3d3d" stroke-width="0.9" fill="none"/>
<path d="M114.3 191.5V196.5M112.4 191.5H116.2M112.4 196.5H116.2" stroke="#3d3d3d" stroke-width="0.9" fill="none"/>
<path d="M126.6 211V222M124.7 211H128.5M124.7 222H128.5" stroke="#3d3d3d" stroke-width="0.9" fill="none"/>
<path d="M147.3 193.4V201.5M145.4 193.4H149.2M145.4 201.5H149.2" stroke="#3d3d3d" stroke-width="0.9" fill="none"/>
<path d="M159.8 212.8V221.4M157.9 212.8H161.7M157.9 221.4H161.7" stroke="#3d3d3d" stroke-width="0.9" fill="none"/>
<path d="M180.6 191.1V201M178.7 191.1H182.5M178.7 201H182.5" stroke="#3d3d3d" stroke-width="0.9" fill="none"/>
<path d="M193.2 198.4V217M191.3 198.4H195.1M191.3 217H195.1" stroke="#3d3d3d" stroke-width="0.9" fill="none"/>
<path d="M246.2 198.7V209.2M244.3 198.7H248.1M244.3 209.2H248.1" stroke="#3d3d3d" stroke-width="0.9" fill="none"/>
<path d="M259.2 218.7V224.7M257.3 218.7H261.1M257.3 224.7H261.1" stroke="#3d3d3d" stroke-width="0.9" fill="none"/>
<path d="M279.5 199.7V206.5M277.6 199.7H281.4M277.6 206.5H281.4" stroke="#3d3d3d" stroke-width="0.9" fill="none"/>
<path d="M291.8 218.5V224.5M289.9 218.5H293.7M289.9 224.5H293.7" stroke="#3d3d3d" stroke-width="0.9" fill="none"/>
<path d="M312.8 196.7V204.5M310.9 196.7H314.7M310.9 204.5H314.7" stroke="#3d3d3d" stroke-width="0.9" fill="none"/>
<path d="M325 219V224M323.1 219H326.9M323.1 224H326.9" stroke="#3d3d3d" stroke-width="0.9" fill="none"/>
<path d="M346 201V212.9M344.1 201H347.9M344.1 212.9H347.9" stroke="#3d3d3d" stroke-width="0.9" fill="none"/>
<path d="M358.5 219.2V230.2M356.6 219.2H360.4M356.6 230.2H360.4" stroke="#3d3d3d" stroke-width="0.9" fill="none"/>
<path d="M379 198.5V207.7M377.1 198.5H380.9M377.1 207.7H380.9" stroke="#3d3d3d" stroke-width="0.9" fill="none"/>
<path d="M391.5 207.7V225.4M389.6 207.7H393.4M389.6 225.4H393.4" stroke="#3d3d3d" stroke-width="0.9" fill="none"/>
<path d="M48.3 362.5V372.7M46.3 362.5H50.3M46.3 372.7H50.3" stroke="#3d3d3d" stroke-width="0.9" fill="none"/>
<path d="M60.7 377.5V400.7M58.7 377.5H62.7M58.7 400.7H62.7" stroke="#3d3d3d" stroke-width="0.9" fill="none"/>
<path d="M81.4 363.2V377.5M79.4 363.2H83.4M79.4 377.5H83.4" stroke="#3d3d3d" stroke-width="0.9" fill="none"/>
<path d="M94.2 369.5V387.7M92.2 369.5H96.2M92.2 387.7H96.2" stroke="#3d3d3d" stroke-width="0.9" fill="none"/>
<path d="M114.7 365.8V378.2M112.7 365.8H116.7M112.7 378.2H116.7" stroke="#3d3d3d" stroke-width="0.9" fill="none"/>
<path d="M127.4 373.5V391M125.4 373.5H129.4M125.4 391H129.4" stroke="#3d3d3d" stroke-width="0.9" fill="none"/>
<path d="M148.1 364.6V377.3M146.1 364.6H150.1M146.1 377.3H150.1" stroke="#3d3d3d" stroke-width="0.9" fill="none"/>
<path d="M160.9 369.1V386.4M158.9 369.1H162.9M158.9 386.4H162.9" stroke="#3d3d3d" stroke-width="0.9" fill="none"/>
<path d="M181.1 356.8V363.7M179.1 356.8H183.1M179.1 363.7H183.1" stroke="#3d3d3d" stroke-width="0.9" fill="none"/>
<path d="M193.9 367.3V383.4M191.9 367.3H195.9M191.9 383.4H195.9" stroke="#3d3d3d" stroke-width="0.9" fill="none"/>
<path d="M246.5 370.2V383M244.5 370.2H248.5M244.5 383H248.5" stroke="#3d3d3d" stroke-width="0.9" fill="none"/>
<path d="M259.2 381.8V404.7M257.2 381.8H261.2M257.2 404.7H261.2" stroke="#3d3d3d" stroke-width="0.9" fill="none"/>
<path d="M279.7 369V385.2M277.7 369H281.7M277.7 385.2H281.7" stroke="#3d3d3d" stroke-width="0.9" fill="none"/>
<path d="M292.2 374.5V390.4M290.2 374.5H294.2M290.2 390.4H294.2" stroke="#3d3d3d" stroke-width="0.9" fill="none"/>
<path d="M312.7 372.4V381.8M310.7 372.4H314.7M310.7 381.8H314.7" stroke="#3d3d3d" stroke-width="0.9" fill="none"/>
<path d="M325.4 381V395.5M323.4 381H327.4M323.4 395.5H327.4" stroke="#3d3d3d" stroke-width="0.9" fill="none"/>
<path d="M346.6 367.3V383.5M344.6 367.3H348.6M344.6 383.5H348.6" stroke="#3d3d3d" stroke-width="0.9" fill="none"/>
<path d="M358.8 372.4V389.5M356.8 372.4H360.8M356.8 389.5H360.8" stroke="#3d3d3d" stroke-width="0.9" fill="none"/>
<path d="M379.3 364.2V375.8M377.3 364.2H381.3M377.3 375.8H381.3" stroke="#3d3d3d" stroke-width="0.9" fill="none"/>
<path d="M392 372.4V393M390 372.4H394M390 393H394" stroke="#3d3d3d" stroke-width="0.9" fill="none"/>
</g>
<rect x="0.5" y="0.5" width="519" height="466" fill="none" stroke="#000" stroke-width="1.2"/>
</svg>
</body></html>
